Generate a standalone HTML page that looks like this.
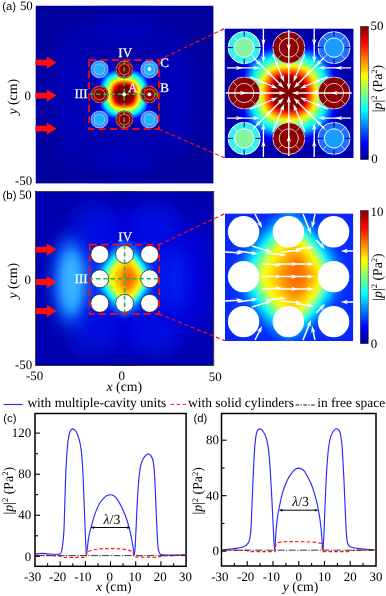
<!DOCTYPE html>
<html><head><meta charset="utf-8"><title>Figure</title>
<style>
html,body{margin:0;padding:0;background:#fff;}
svg{display:block}
text{font-family:"Liberation Serif","Times New Roman",serif;fill:#000;text-rendering:geometricPrecision}
.sn{font-family:"Liberation Sans",Arial,sans-serif}
.t{font-size:12.9px}
.l{font-size:13.8px}
.g{font-size:13.45px}
.w{fill:#fff;font-size:13px;stroke:#fff;stroke-width:0.25px}
</style></head><body>
<svg width="386" height="596" viewBox="0 0 386 596">
<defs>
<linearGradient id="jet" x1="0" y1="1" x2="0" y2="0">
<stop offset="0" stop-color="#00008f"/><stop offset="0.125" stop-color="#0000ff"/><stop offset="0.375" stop-color="#00ffff"/><stop offset="0.625" stop-color="#ffff00"/><stop offset="0.875" stop-color="#ff0000"/><stop offset="1" stop-color="#800000"/>
</linearGradient>
<radialGradient id="hotA">
<stop offset="0" stop-color="#800000"/><stop offset="0.31" stop-color="#800000"/><stop offset="0.37" stop-color="#ff0000"/><stop offset="0.435" stop-color="#ff8000"/><stop offset="0.5" stop-color="#ffff00"/><stop offset="0.565" stop-color="#80ff80"/><stop offset="0.63" stop-color="#00ffff"/><stop offset="0.71" stop-color="#0080ff"/><stop offset="0.82" stop-color="#0010ff"/><stop offset="1" stop-color="#0000b4" stop-opacity="0"/>
</radialGradient>
<radialGradient id="hotB" cx="0.5" cy="0.5" r="0.5" fx="0.57" fy="0.5">
<stop offset="0" stop-color="#ff6400"/><stop offset="0.16" stop-color="#ff8400"/><stop offset="0.31" stop-color="#ffc000"/><stop offset="0.49" stop-color="#ffff00"/><stop offset="0.6" stop-color="#80ff80"/><stop offset="0.7" stop-color="#00ffff"/><stop offset="0.82" stop-color="#00a0ff"/><stop offset="1" stop-color="#0a30ff" stop-opacity="0"/>
</radialGradient>
<filter id="b05" x="-20%" y="-20%" width="140%" height="140%"><feGaussianBlur stdDeviation="0.6"/></filter>
<filter id="b1" x="-20%" y="-20%" width="140%" height="140%"><feGaussianBlur stdDeviation="1"/></filter>
<filter id="b2" x="-20%" y="-20%" width="140%" height="140%"><feGaussianBlur stdDeviation="2"/></filter>
<filter id="b4" x="-30%" y="-30%" width="160%" height="160%"><feGaussianBlur stdDeviation="4"/></filter>
<filter id="b5" x="-60%" y="-40%" width="220%" height="180%"><feGaussianBlur stdDeviation="5"/></filter>
<filter id="b8" x="-50%" y="-50%" width="200%" height="200%"><feGaussianBlur stdDeviation="8"/></filter>
<filter id="b12" x="-50%" y="-50%" width="200%" height="200%"><feGaussianBlur stdDeviation="12"/></filter>
<clipPath id="cA"><rect x="35.5" y="5.5" width="178" height="178"/></clipPath>
<clipPath id="cB"><rect x="35.6" y="191.6" width="178" height="174"/></clipPath>
<clipPath id="ciA"><rect x="224.5" y="28.4" width="129.2" height="129.6"/></clipPath>
<clipPath id="ciB"><rect x="225" y="213.4" width="128.3" height="127.6"/></clipPath>
<marker id="mw" viewBox="0 0 10 10" refX="9" refY="5" markerWidth="7" markerHeight="5" orient="auto" markerUnits="userSpaceOnUse"><path d="M0,0 L10,5 L0,10 L2.5,5 z" fill="#fff"/></marker>
<marker id="mk" viewBox="0 0 10 10" refX="9" refY="5" markerWidth="3.6" markerHeight="3" orient="auto-start-reverse" markerUnits="userSpaceOnUse"><path d="M0,0 L10,5 L0,10 z" fill="#000"/></marker>
</defs>

<g clip-path="url(#cA)">
<rect x="35.5" y="5.5" width="178.3" height="178.3" fill="#00009c"/>
<g filter="url(#b12)">
<ellipse cx="124" cy="94" rx="80" ry="80" fill="#0000ae"/>
</g>
<g filter="url(#b8)">
<ellipse cx="70" cy="94" rx="9" ry="75" fill="#0000cc" opacity="0.6"/>
<ellipse cx="124" cy="30" rx="36" ry="11" fill="#0000d0" opacity="0.5"/>
<ellipse cx="124" cy="160" rx="36" ry="11" fill="#0000d0" opacity="0.5"/>
<ellipse cx="178" cy="94" rx="10" ry="60" fill="#0000d0" opacity="0.5"/>
</g>
<g filter="url(#b5)">
<circle cx="124.3" cy="94.4" r="27" fill="#0014f4" opacity="0.95"/>
</g>
<g filter="url(#b05)"><polygon points="152.5,94.3 152.5,96.8 152.4,99.3 152.1,101.8 151.8,104.3 151.2,106.9 150.3,109.4 149.2,111.8 147.7,114.0 146.0,116.1 143.9,117.8 141.7,119.3 139.3,120.4 136.8,121.3 134.2,121.9 131.7,122.2 129.2,122.5 126.7,122.6 124.2,122.6 121.7,122.6 119.2,122.5 116.7,122.2 114.2,121.9 111.6,121.3 109.1,120.4 106.7,119.3 104.5,117.8 102.4,116.1 100.7,114.0 99.2,111.8 98.1,109.4 97.2,106.9 96.6,104.3 96.3,101.8 96.0,99.3 95.9,96.8 95.9,94.3 95.9,91.8 96.0,89.3 96.3,86.8 96.6,84.3 97.2,81.7 98.1,79.2 99.2,76.8 100.7,74.6 102.4,72.5 104.5,70.8 106.7,69.3 109.1,68.2 111.6,67.3 114.2,66.7 116.7,66.4 119.2,66.1 121.7,66.0 124.2,66.0 126.7,66.0 129.2,66.1 131.7,66.4 134.2,66.7 136.8,67.3 139.3,68.2 141.7,69.3 143.9,70.8 146.0,72.5 147.7,74.6 149.2,76.8 150.3,79.2 151.2,81.7 151.8,84.3 152.1,86.8 152.4,89.3 152.5,91.8" fill="#0000e9"/><polygon points="149.8,94.3 149.8,96.5 149.7,98.8 149.5,101.1 149.1,103.4 148.6,105.7 147.8,107.9 146.8,110.1 145.5,112.1 143.9,114.0 142.0,115.6 140.0,116.9 137.8,117.9 135.6,118.7 133.3,119.2 131.0,119.6 128.7,119.8 126.4,119.9 124.2,119.9 122.0,119.9 119.7,119.8 117.4,119.6 115.1,119.2 112.8,118.7 110.6,117.9 108.4,116.9 106.4,115.6 104.5,114.0 102.9,112.1 101.6,110.1 100.6,107.9 99.8,105.7 99.3,103.4 98.9,101.1 98.7,98.8 98.6,96.5 98.6,94.3 98.6,92.1 98.7,89.8 98.9,87.5 99.3,85.2 99.8,82.9 100.6,80.7 101.6,78.5 102.9,76.5 104.5,74.6 106.4,73.0 108.4,71.7 110.6,70.7 112.8,69.9 115.1,69.4 117.4,69.0 119.7,68.8 122.0,68.7 124.2,68.7 126.4,68.7 128.7,68.8 131.0,69.0 133.3,69.4 135.6,69.9 137.8,70.7 140.0,71.7 142.0,73.0 143.9,74.6 145.5,76.5 146.8,78.5 147.8,80.7 148.6,82.9 149.1,85.2 149.5,87.5 149.7,89.8 149.8,92.1" fill="#0000ff"/><polygon points="149.3,94.3 149.3,96.5 149.2,98.7 149.0,100.9 148.6,103.2 148.1,105.5 147.4,107.7 146.3,109.8 145.1,111.8 143.5,113.6 141.7,115.2 139.7,116.4 137.6,117.5 135.4,118.2 133.1,118.7 130.8,119.1 128.6,119.3 126.4,119.4 124.2,119.4 122.0,119.4 119.8,119.3 117.6,119.1 115.3,118.7 113.0,118.2 110.8,117.5 108.7,116.4 106.7,115.2 104.9,113.6 103.3,111.8 102.1,109.8 101.0,107.7 100.3,105.5 99.8,103.2 99.4,100.9 99.2,98.7 99.1,96.5 99.1,94.3 99.1,92.1 99.2,89.9 99.4,87.7 99.8,85.4 100.3,83.1 101.0,80.9 102.1,78.8 103.3,76.8 104.9,75.0 106.7,73.4 108.7,72.2 110.8,71.1 113.0,70.4 115.3,69.9 117.6,69.5 119.8,69.3 122.0,69.2 124.2,69.2 126.4,69.2 128.6,69.3 130.8,69.5 133.1,69.9 135.4,70.4 137.6,71.1 139.7,72.2 141.7,73.4 143.5,75.0 145.1,76.8 146.3,78.8 147.4,80.9 148.1,83.1 148.6,85.4 149.0,87.7 149.2,89.9 149.3,92.1" fill="#001aff"/><polygon points="148.8,94.3 148.8,96.5 148.7,98.6 148.5,100.8 148.2,103.0 147.6,105.2 146.9,107.4 145.9,109.5 144.6,111.5 143.1,113.2 141.4,114.7 139.4,116.0 137.3,117.0 135.1,117.7 132.9,118.3 130.7,118.6 128.5,118.8 126.4,118.9 124.2,118.9 122.0,118.9 119.9,118.8 117.7,118.6 115.5,118.3 113.3,117.7 111.1,117.0 109.0,116.0 107.0,114.7 105.3,113.2 103.8,111.5 102.5,109.5 101.5,107.4 100.8,105.2 100.2,103.0 99.9,100.8 99.7,98.6 99.6,96.5 99.6,94.3 99.6,92.1 99.7,90.0 99.9,87.8 100.2,85.6 100.8,83.4 101.5,81.2 102.5,79.1 103.8,77.1 105.3,75.4 107.0,73.9 109.0,72.6 111.1,71.6 113.3,70.9 115.5,70.3 117.7,70.0 119.9,69.8 122.0,69.7 124.2,69.7 126.4,69.7 128.5,69.8 130.7,70.0 132.9,70.3 135.1,70.9 137.3,71.6 139.4,72.6 141.4,73.9 143.1,75.4 144.6,77.1 145.9,79.1 146.9,81.2 147.6,83.4 148.2,85.6 148.5,87.8 148.7,90.0 148.8,92.1" fill="#0033ff"/><polygon points="148.3,94.3 148.3,96.4 148.2,98.5 148.0,100.7 147.7,102.8 147.2,105.0 146.4,107.1 145.5,109.2 144.2,111.1 142.7,112.8 141.0,114.3 139.1,115.6 137.0,116.5 134.9,117.3 132.7,117.8 130.6,118.1 128.4,118.3 126.3,118.4 124.2,118.4 122.1,118.4 120.0,118.3 117.8,118.1 115.7,117.8 113.5,117.3 111.4,116.5 109.3,115.6 107.4,114.3 105.7,112.8 104.2,111.1 102.9,109.2 102.0,107.1 101.2,105.0 100.7,102.8 100.4,100.7 100.2,98.5 100.1,96.4 100.1,94.3 100.1,92.2 100.2,90.1 100.4,87.9 100.7,85.8 101.2,83.6 102.0,81.5 102.9,79.4 104.2,77.5 105.7,75.8 107.4,74.3 109.3,73.0 111.4,72.1 113.5,71.3 115.7,70.8 117.8,70.5 120.0,70.3 122.1,70.2 124.2,70.2 126.3,70.2 128.4,70.3 130.6,70.5 132.7,70.8 134.9,71.3 137.0,72.1 139.1,73.0 141.0,74.3 142.7,75.8 144.2,77.5 145.5,79.4 146.4,81.5 147.2,83.6 147.7,85.8 148.0,87.9 148.2,90.1 148.3,92.2" fill="#004dff"/><polygon points="147.8,94.3 147.8,96.4 147.7,98.4 147.5,100.5 147.2,102.7 146.7,104.8 146.0,106.9 145.0,108.9 143.8,110.8 142.3,112.4 140.7,113.9 138.8,115.1 136.8,116.1 134.7,116.8 132.6,117.3 130.4,117.6 128.3,117.8 126.3,117.9 124.2,117.9 122.1,117.9 120.1,117.8 118.0,117.6 115.8,117.3 113.7,116.8 111.6,116.1 109.6,115.1 107.7,113.9 106.1,112.4 104.6,110.8 103.4,108.9 102.4,106.9 101.7,104.8 101.2,102.7 100.9,100.5 100.7,98.4 100.6,96.4 100.6,94.3 100.6,92.2 100.7,90.2 100.9,88.1 101.2,85.9 101.7,83.8 102.4,81.7 103.4,79.7 104.6,77.8 106.1,76.2 107.7,74.7 109.6,73.5 111.6,72.5 113.7,71.8 115.8,71.3 118.0,71.0 120.1,70.8 122.1,70.7 124.2,70.7 126.3,70.7 128.3,70.8 130.4,71.0 132.6,71.3 134.7,71.8 136.8,72.5 138.8,73.5 140.7,74.7 142.3,76.2 143.8,77.8 145.0,79.7 146.0,81.7 146.7,83.8 147.2,85.9 147.5,88.1 147.7,90.2 147.8,92.2" fill="#0066ff"/><polygon points="147.3,94.3 147.3,96.3 147.2,98.4 147.0,100.4 146.7,102.5 146.2,104.6 145.5,106.6 144.6,108.6 143.4,110.4 142.0,112.1 140.3,113.5 138.5,114.7 136.5,115.6 134.5,116.3 132.4,116.8 130.3,117.1 128.3,117.3 126.2,117.4 124.2,117.4 122.2,117.4 120.1,117.3 118.1,117.1 116.0,116.8 113.9,116.3 111.9,115.6 109.9,114.7 108.1,113.5 106.4,112.1 105.0,110.4 103.8,108.6 102.9,106.6 102.2,104.6 101.7,102.5 101.4,100.4 101.2,98.4 101.1,96.3 101.1,94.3 101.1,92.3 101.2,90.2 101.4,88.2 101.7,86.1 102.2,84.0 102.9,82.0 103.8,80.0 105.0,78.2 106.4,76.5 108.1,75.1 109.9,73.9 111.9,73.0 113.9,72.3 116.0,71.8 118.1,71.5 120.1,71.3 122.2,71.2 124.2,71.2 126.2,71.2 128.3,71.3 130.3,71.5 132.4,71.8 134.5,72.3 136.5,73.0 138.5,73.9 140.3,75.1 142.0,76.5 143.4,78.2 144.6,80.0 145.5,82.0 146.2,84.0 146.7,86.1 147.0,88.2 147.2,90.2 147.3,92.3" fill="#0080ff"/><polygon points="146.8,94.3 146.7,96.3 146.6,98.3 146.5,100.3 146.2,102.3 145.7,104.3 145.0,106.3 144.1,108.2 142.9,110.0 141.5,111.6 139.9,113.0 138.1,114.2 136.2,115.1 134.2,115.8 132.2,116.3 130.2,116.6 128.2,116.7 126.2,116.8 124.2,116.9 122.2,116.8 120.2,116.7 118.2,116.6 116.2,116.3 114.2,115.8 112.2,115.1 110.3,114.2 108.5,113.0 106.9,111.6 105.5,110.0 104.3,108.2 103.4,106.3 102.7,104.3 102.2,102.3 101.9,100.3 101.8,98.3 101.7,96.3 101.6,94.3 101.7,92.3 101.8,90.3 101.9,88.3 102.2,86.3 102.7,84.3 103.4,82.3 104.3,80.4 105.5,78.6 106.9,77.0 108.5,75.6 110.3,74.4 112.2,73.5 114.2,72.8 116.2,72.3 118.2,72.0 120.2,71.9 122.2,71.8 124.2,71.7 126.2,71.8 128.2,71.9 130.2,72.0 132.2,72.3 134.2,72.8 136.2,73.5 138.1,74.4 139.9,75.6 141.5,77.0 142.9,78.6 144.1,80.4 145.0,82.3 145.7,84.3 146.2,86.3 146.5,88.3 146.6,90.3 146.7,92.3" fill="#0099ff"/><polygon points="146.2,94.3 146.2,96.2 146.1,98.2 145.9,100.1 145.6,102.1 145.2,104.1 144.5,106.0 143.6,107.9 142.5,109.6 141.1,111.2 139.5,112.6 137.8,113.7 135.9,114.6 134.0,115.3 132.0,115.7 130.0,116.0 128.1,116.2 126.1,116.3 124.2,116.3 122.3,116.3 120.3,116.2 118.4,116.0 116.4,115.7 114.4,115.3 112.5,114.6 110.6,113.7 108.9,112.6 107.3,111.2 105.9,109.6 104.8,107.9 103.9,106.0 103.2,104.1 102.8,102.1 102.5,100.1 102.3,98.2 102.2,96.2 102.2,94.3 102.2,92.4 102.3,90.4 102.5,88.5 102.8,86.5 103.2,84.5 103.9,82.6 104.8,80.7 105.9,79.0 107.3,77.4 108.9,76.0 110.6,74.9 112.5,74.0 114.4,73.3 116.4,72.9 118.4,72.6 120.3,72.4 122.3,72.3 124.2,72.3 126.1,72.3 128.1,72.4 130.0,72.6 132.0,72.9 134.0,73.3 135.9,74.0 137.8,74.9 139.5,76.0 141.1,77.4 142.5,79.0 143.6,80.7 144.5,82.6 145.2,84.5 145.6,86.5 145.9,88.5 146.1,90.4 146.2,92.4" fill="#00b3ff"/><polygon points="145.7,94.3 145.6,96.2 145.5,98.1 145.4,100.0 145.1,101.9 144.6,103.8 144.0,105.7 143.1,107.5 142.0,109.3 140.7,110.8 139.2,112.1 137.4,113.2 135.6,114.1 133.7,114.7 131.8,115.2 129.9,115.5 128.0,115.6 126.1,115.7 124.2,115.8 122.3,115.7 120.4,115.6 118.5,115.5 116.6,115.2 114.7,114.7 112.8,114.1 111.0,113.2 109.2,112.1 107.7,110.8 106.4,109.3 105.3,107.5 104.4,105.7 103.8,103.8 103.3,101.9 103.0,100.0 102.9,98.1 102.8,96.2 102.7,94.3 102.8,92.4 102.9,90.5 103.0,88.6 103.3,86.7 103.8,84.8 104.4,82.9 105.3,81.1 106.4,79.3 107.7,77.8 109.2,76.5 111.0,75.4 112.8,74.5 114.7,73.9 116.6,73.4 118.5,73.1 120.4,73.0 122.3,72.9 124.2,72.8 126.1,72.9 128.0,73.0 129.9,73.1 131.8,73.4 133.7,73.9 135.6,74.5 137.4,75.4 139.2,76.5 140.7,77.8 142.0,79.3 143.1,81.1 144.0,82.9 144.6,84.8 145.1,86.7 145.4,88.6 145.5,90.5 145.6,92.4" fill="#00ccff"/><polygon points="145.1,94.3 145.1,96.1 145.0,98.0 144.8,99.8 144.5,101.7 144.1,103.6 143.5,105.4 142.6,107.2 141.6,108.9 140.3,110.4 138.8,111.7 137.1,112.7 135.3,113.6 133.5,114.2 131.6,114.6 129.7,114.9 127.9,115.1 126.0,115.2 124.2,115.2 122.4,115.2 120.5,115.1 118.7,114.9 116.8,114.6 114.9,114.2 113.1,113.6 111.3,112.7 109.6,111.7 108.1,110.4 106.8,108.9 105.8,107.2 104.9,105.4 104.3,103.6 103.9,101.7 103.6,99.8 103.4,98.0 103.3,96.1 103.3,94.3 103.3,92.5 103.4,90.6 103.6,88.8 103.9,86.9 104.3,85.0 104.9,83.2 105.8,81.4 106.8,79.7 108.1,78.2 109.6,76.9 111.3,75.9 113.1,75.0 114.9,74.4 116.8,74.0 118.7,73.7 120.5,73.5 122.4,73.4 124.2,73.4 126.0,73.4 127.9,73.5 129.7,73.7 131.6,74.0 133.5,74.4 135.3,75.0 137.1,75.9 138.8,76.9 140.3,78.2 141.6,79.7 142.6,81.4 143.5,83.2 144.1,85.0 144.5,86.9 144.8,88.8 145.0,90.6 145.1,92.5" fill="#00e5ff"/><polygon points="144.5,94.3 144.5,96.1 144.4,97.9 144.3,99.7 144.0,101.5 143.6,103.3 143.0,105.1 142.1,106.9 141.1,108.5 139.8,109.9 138.4,111.2 136.8,112.2 135.0,113.1 133.2,113.7 131.4,114.1 129.6,114.4 127.8,114.5 126.0,114.6 124.2,114.6 122.4,114.6 120.6,114.5 118.8,114.4 117.0,114.1 115.2,113.7 113.4,113.1 111.6,112.2 110.0,111.2 108.6,109.9 107.3,108.5 106.3,106.9 105.4,105.1 104.8,103.3 104.4,101.5 104.1,99.7 104.0,97.9 103.9,96.1 103.9,94.3 103.9,92.5 104.0,90.7 104.1,88.9 104.4,87.1 104.8,85.3 105.4,83.5 106.3,81.7 107.3,80.1 108.6,78.7 110.0,77.4 111.6,76.4 113.4,75.5 115.2,74.9 117.0,74.5 118.8,74.2 120.6,74.1 122.4,74.0 124.2,74.0 126.0,74.0 127.8,74.1 129.6,74.2 131.4,74.5 133.2,74.9 135.0,75.5 136.8,76.4 138.4,77.4 139.8,78.7 141.1,80.1 142.1,81.7 143.0,83.5 143.6,85.3 144.0,87.1 144.3,88.9 144.4,90.7 144.5,92.5" fill="#00ffff"/><polygon points="144.0,94.3 143.9,96.0 143.9,97.8 143.7,99.5 143.4,101.3 143.0,103.1 142.4,104.8 141.6,106.5 140.6,108.1 139.4,109.5 138.0,110.7 136.4,111.7 134.7,112.5 133.0,113.1 131.2,113.5 129.4,113.8 127.7,114.0 125.9,114.0 124.2,114.1 122.5,114.0 120.7,114.0 119.0,113.8 117.2,113.5 115.4,113.1 113.7,112.5 112.0,111.7 110.4,110.7 109.0,109.5 107.8,108.1 106.8,106.5 106.0,104.8 105.4,103.1 105.0,101.3 104.7,99.5 104.5,97.8 104.5,96.0 104.4,94.3 104.5,92.6 104.5,90.8 104.7,89.1 105.0,87.3 105.4,85.5 106.0,83.8 106.8,82.1 107.8,80.5 109.0,79.1 110.4,77.9 112.0,76.9 113.7,76.1 115.4,75.5 117.2,75.1 119.0,74.8 120.7,74.6 122.5,74.6 124.2,74.5 125.9,74.6 127.7,74.6 129.4,74.8 131.2,75.1 133.0,75.5 134.7,76.1 136.4,76.9 138.0,77.9 139.4,79.1 140.6,80.5 141.6,82.1 142.4,83.8 143.0,85.5 143.4,87.3 143.7,89.1 143.9,90.8 143.9,92.6" fill="#1affe5"/><polygon points="143.4,94.3 143.3,96.0 143.3,97.7 143.1,99.4 142.9,101.1 142.5,102.8 141.9,104.5 141.1,106.1 140.1,107.7 138.9,109.0 137.6,110.2 136.0,111.2 134.4,112.0 132.7,112.6 131.0,113.0 129.3,113.2 127.6,113.4 125.9,113.4 124.2,113.5 122.5,113.4 120.8,113.4 119.1,113.2 117.4,113.0 115.7,112.6 114.0,112.0 112.4,111.2 110.8,110.2 109.5,109.0 108.3,107.7 107.3,106.1 106.5,104.5 105.9,102.8 105.5,101.1 105.3,99.4 105.1,97.7 105.1,96.0 105.0,94.3 105.1,92.6 105.1,90.9 105.3,89.2 105.5,87.5 105.9,85.8 106.5,84.1 107.3,82.5 108.3,80.9 109.5,79.6 110.8,78.4 112.4,77.4 114.0,76.6 115.7,76.0 117.4,75.6 119.1,75.4 120.8,75.2 122.5,75.2 124.2,75.1 125.9,75.2 127.6,75.2 129.3,75.4 131.0,75.6 132.7,76.0 134.4,76.6 136.0,77.4 137.6,78.4 138.9,79.6 140.1,80.9 141.1,82.5 141.9,84.1 142.5,85.8 142.9,87.5 143.1,89.2 143.3,90.9 143.3,92.6" fill="#33ffcc"/><polygon points="142.8,94.3 142.8,95.9 142.7,97.6 142.5,99.2 142.3,100.9 141.9,102.5 141.3,104.2 140.6,105.8 139.6,107.2 138.5,108.6 137.1,109.7 135.7,110.7 134.1,111.4 132.4,112.0 130.8,112.4 129.1,112.6 127.5,112.8 125.8,112.9 124.2,112.9 122.6,112.9 120.9,112.8 119.3,112.6 117.6,112.4 116.0,112.0 114.3,111.4 112.7,110.7 111.3,109.7 109.9,108.6 108.8,107.2 107.8,105.8 107.1,104.2 106.5,102.5 106.1,100.9 105.9,99.2 105.7,97.6 105.6,95.9 105.6,94.3 105.6,92.7 105.7,91.0 105.9,89.4 106.1,87.7 106.5,86.1 107.1,84.4 107.8,82.8 108.8,81.4 109.9,80.0 111.3,78.9 112.7,77.9 114.3,77.2 116.0,76.6 117.6,76.2 119.3,76.0 120.9,75.8 122.6,75.7 124.2,75.7 125.8,75.7 127.5,75.8 129.1,76.0 130.8,76.2 132.4,76.6 134.1,77.2 135.7,77.9 137.1,78.9 138.5,80.0 139.6,81.4 140.6,82.8 141.3,84.4 141.9,86.1 142.3,87.7 142.5,89.4 142.7,91.0 142.8,92.7" fill="#4cffb3"/><polygon points="142.2,94.3 142.2,95.9 142.1,97.5 141.9,99.1 141.7,100.7 141.3,102.3 140.8,103.9 140.1,105.4 139.1,106.8 138.0,108.1 136.7,109.2 135.3,110.2 133.8,110.9 132.2,111.4 130.6,111.8 129.0,112.0 127.4,112.2 125.8,112.3 124.2,112.3 122.6,112.3 121.0,112.2 119.4,112.0 117.8,111.8 116.2,111.4 114.6,110.9 113.1,110.2 111.7,109.2 110.4,108.1 109.3,106.8 108.3,105.4 107.6,103.9 107.1,102.3 106.7,100.7 106.5,99.1 106.3,97.5 106.2,95.9 106.2,94.3 106.2,92.7 106.3,91.1 106.5,89.5 106.7,87.9 107.1,86.3 107.6,84.7 108.3,83.2 109.3,81.8 110.4,80.5 111.7,79.4 113.1,78.4 114.6,77.7 116.2,77.2 117.8,76.8 119.4,76.6 121.0,76.4 122.6,76.3 124.2,76.3 125.8,76.3 127.4,76.4 129.0,76.6 130.6,76.8 132.2,77.2 133.8,77.7 135.3,78.4 136.7,79.4 138.0,80.5 139.1,81.8 140.1,83.2 140.8,84.7 141.3,86.3 141.7,87.9 141.9,89.5 142.1,91.1 142.2,92.7" fill="#66ff99"/><polygon points="141.6,94.3 141.6,95.8 141.5,97.4 141.4,98.9 141.1,100.5 140.8,102.0 140.2,103.6 139.5,105.0 138.6,106.4 137.6,107.7 136.3,108.7 134.9,109.6 133.5,110.3 131.9,110.9 130.4,111.2 128.8,111.5 127.3,111.6 125.7,111.7 124.2,111.7 122.7,111.7 121.1,111.6 119.6,111.5 118.0,111.2 116.5,110.9 114.9,110.3 113.5,109.6 112.1,108.7 110.8,107.7 109.8,106.4 108.9,105.0 108.2,103.6 107.6,102.0 107.3,100.5 107.0,98.9 106.9,97.4 106.8,95.8 106.8,94.3 106.8,92.8 106.9,91.2 107.0,89.7 107.3,88.1 107.6,86.6 108.2,85.0 108.9,83.6 109.8,82.2 110.8,80.9 112.1,79.9 113.5,79.0 114.9,78.3 116.5,77.7 118.0,77.4 119.6,77.1 121.1,77.0 122.7,76.9 124.2,76.9 125.7,76.9 127.3,77.0 128.8,77.1 130.4,77.4 131.9,77.7 133.5,78.3 134.9,79.0 136.3,79.9 137.6,80.9 138.6,82.2 139.5,83.6 140.2,85.0 140.8,86.6 141.1,88.1 141.4,89.7 141.5,91.2 141.6,92.8" fill="#80ff80"/><polygon points="141.1,94.3 141.1,95.8 141.0,97.3 140.9,98.8 140.7,100.3 140.3,101.8 139.8,103.3 139.1,104.8 138.3,106.1 137.2,107.3 136.0,108.4 134.7,109.2 133.2,109.9 131.7,110.4 130.2,110.8 128.7,111.0 127.2,111.1 125.7,111.2 124.2,111.2 122.7,111.2 121.2,111.1 119.7,111.0 118.2,110.8 116.7,110.4 115.2,109.9 113.7,109.2 112.4,108.4 111.2,107.3 110.1,106.1 109.3,104.8 108.6,103.3 108.1,101.8 107.7,100.3 107.5,98.8 107.4,97.3 107.3,95.8 107.3,94.3 107.3,92.8 107.4,91.3 107.5,89.8 107.7,88.3 108.1,86.8 108.6,85.3 109.3,83.8 110.1,82.5 111.2,81.3 112.4,80.2 113.7,79.4 115.2,78.7 116.7,78.2 118.2,77.8 119.7,77.6 121.2,77.5 122.7,77.4 124.2,77.4 125.7,77.4 127.2,77.5 128.7,77.6 130.2,77.8 131.7,78.2 133.2,78.7 134.7,79.4 136.0,80.2 137.2,81.3 138.3,82.5 139.1,83.8 139.8,85.3 140.3,86.8 140.7,88.3 140.9,89.8 141.0,91.3 141.1,92.8" fill="#99ff66"/><polygon points="140.6,94.3 140.6,95.7 140.6,97.2 140.4,98.6 140.2,100.1 139.9,101.6 139.4,103.1 138.7,104.5 137.9,105.8 136.8,106.9 135.7,108.0 134.4,108.8 133.0,109.5 131.5,110.0 130.0,110.3 128.5,110.5 127.1,110.7 125.6,110.7 124.2,110.7 122.8,110.7 121.3,110.7 119.9,110.5 118.4,110.3 116.9,110.0 115.4,109.5 114.0,108.8 112.7,108.0 111.6,106.9 110.5,105.8 109.7,104.5 109.0,103.1 108.5,101.6 108.2,100.1 108.0,98.6 107.8,97.2 107.8,95.7 107.8,94.3 107.8,92.9 107.8,91.4 108.0,90.0 108.2,88.5 108.5,87.0 109.0,85.5 109.7,84.1 110.5,82.8 111.6,81.7 112.7,80.6 114.0,79.8 115.4,79.1 116.9,78.6 118.4,78.3 119.9,78.1 121.3,77.9 122.8,77.9 124.2,77.9 125.6,77.9 127.1,77.9 128.5,78.1 130.0,78.3 131.5,78.6 133.0,79.1 134.4,79.8 135.7,80.6 136.8,81.7 137.9,82.8 138.7,84.1 139.4,85.5 139.9,87.0 140.2,88.5 140.4,90.0 140.6,91.4 140.6,92.9" fill="#b2ff4d"/><polygon points="140.2,94.3 140.2,95.7 140.1,97.1 140.0,98.5 139.7,100.0 139.4,101.4 138.9,102.8 138.3,104.2 137.5,105.4 136.5,106.6 135.3,107.6 134.1,108.4 132.7,109.0 131.3,109.5 129.9,109.8 128.4,110.1 127.0,110.2 125.6,110.3 124.2,110.3 122.8,110.3 121.4,110.2 120.0,110.1 118.5,109.8 117.1,109.5 115.7,109.0 114.3,108.4 113.1,107.6 111.9,106.6 110.9,105.4 110.1,104.2 109.5,102.8 109.0,101.4 108.7,100.0 108.4,98.5 108.3,97.1 108.2,95.7 108.2,94.3 108.2,92.9 108.3,91.5 108.4,90.1 108.7,88.6 109.0,87.2 109.5,85.8 110.1,84.4 110.9,83.2 111.9,82.0 113.1,81.0 114.3,80.2 115.7,79.6 117.1,79.1 118.5,78.8 120.0,78.5 121.4,78.4 122.8,78.3 124.2,78.3 125.6,78.3 127.0,78.4 128.4,78.5 129.9,78.8 131.3,79.1 132.7,79.6 134.1,80.2 135.3,81.0 136.5,82.0 137.5,83.2 138.3,84.4 138.9,85.8 139.4,87.2 139.7,88.6 140.0,90.1 140.1,91.5 140.2,92.9" fill="#ccff33"/><polygon points="139.7,94.3 139.7,95.7 139.6,97.0 139.5,98.4 139.3,99.8 139.0,101.2 138.5,102.6 137.9,103.9 137.1,105.1 136.1,106.2 135.0,107.2 133.8,108.0 132.5,108.6 131.1,109.1 129.7,109.4 128.3,109.6 126.9,109.7 125.6,109.8 124.2,109.8 122.8,109.8 121.5,109.7 120.1,109.6 118.7,109.4 117.3,109.1 115.9,108.6 114.6,108.0 113.4,107.2 112.3,106.2 111.3,105.1 110.5,103.9 109.9,102.6 109.4,101.2 109.1,99.8 108.9,98.4 108.8,97.0 108.7,95.7 108.7,94.3 108.7,92.9 108.8,91.6 108.9,90.2 109.1,88.8 109.4,87.4 109.9,86.0 110.5,84.7 111.3,83.5 112.3,82.4 113.4,81.4 114.6,80.6 115.9,80.0 117.3,79.5 118.7,79.2 120.1,79.0 121.5,78.9 122.8,78.8 124.2,78.8 125.6,78.8 126.9,78.9 128.3,79.0 129.7,79.2 131.1,79.5 132.5,80.0 133.8,80.6 135.0,81.4 136.1,82.4 137.1,83.5 137.9,84.7 138.5,86.0 139.0,87.4 139.3,88.8 139.5,90.2 139.6,91.6 139.7,92.9" fill="#e5ff1a"/><polygon points="139.2,94.3 139.2,95.6 139.1,96.9 139.0,98.3 138.8,99.6 138.5,101.0 138.1,102.3 137.5,103.6 136.7,104.8 135.7,105.8 134.7,106.8 133.5,107.6 132.2,108.2 130.9,108.6 129.5,108.9 128.2,109.1 126.8,109.2 125.5,109.3 124.2,109.3 122.9,109.3 121.6,109.2 120.2,109.1 118.9,108.9 117.5,108.6 116.2,108.2 114.9,107.6 113.7,106.8 112.7,105.8 111.7,104.8 110.9,103.6 110.3,102.3 109.9,101.0 109.6,99.6 109.4,98.3 109.3,96.9 109.2,95.6 109.2,94.3 109.2,93.0 109.3,91.7 109.4,90.3 109.6,89.0 109.9,87.6 110.3,86.3 110.9,85.0 111.7,83.8 112.7,82.8 113.7,81.8 114.9,81.0 116.2,80.4 117.5,80.0 118.9,79.7 120.2,79.5 121.6,79.4 122.9,79.3 124.2,79.3 125.5,79.3 126.8,79.4 128.2,79.5 129.5,79.7 130.9,80.0 132.2,80.4 133.5,81.0 134.7,81.8 135.7,82.8 136.7,83.8 137.5,85.0 138.1,86.3 138.5,87.6 138.8,89.0 139.0,90.3 139.1,91.7 139.2,93.0" fill="#ffff00"/><polygon points="138.8,94.3 138.8,95.6 138.7,96.9 138.6,98.2 138.4,99.5 138.1,100.8 137.7,102.1 137.1,103.3 136.3,104.5 135.4,105.5 134.4,106.4 133.2,107.2 132.0,107.8 130.7,108.2 129.4,108.5 128.1,108.7 126.8,108.8 125.5,108.9 124.2,108.9 122.9,108.9 121.6,108.8 120.3,108.7 119.0,108.5 117.7,108.2 116.4,107.8 115.2,107.2 114.0,106.4 113.0,105.5 112.1,104.5 111.3,103.3 110.7,102.1 110.3,100.8 110.0,99.5 109.8,98.2 109.7,96.9 109.6,95.6 109.6,94.3 109.6,93.0 109.7,91.7 109.8,90.4 110.0,89.1 110.3,87.8 110.7,86.5 111.3,85.3 112.1,84.1 113.0,83.1 114.0,82.2 115.2,81.4 116.4,80.8 117.7,80.4 119.0,80.1 120.3,79.9 121.6,79.8 122.9,79.7 124.2,79.7 125.5,79.7 126.8,79.8 128.1,79.9 129.4,80.1 130.7,80.4 132.0,80.8 133.2,81.4 134.4,82.2 135.4,83.1 136.3,84.1 137.1,85.3 137.7,86.5 138.1,87.8 138.4,89.1 138.6,90.4 138.7,91.7 138.8,93.0" fill="#ffe500"/><polygon points="138.4,94.3 138.4,95.5 138.3,96.8 138.2,98.0 138.0,99.3 137.7,100.6 137.3,101.8 136.7,103.1 136.0,104.2 135.1,105.2 134.1,106.1 133.0,106.8 131.7,107.4 130.5,107.8 129.2,108.1 127.9,108.3 126.7,108.4 125.4,108.5 124.2,108.5 123.0,108.5 121.7,108.4 120.5,108.3 119.2,108.1 117.9,107.8 116.7,107.4 115.4,106.8 114.3,106.1 113.3,105.2 112.4,104.2 111.7,103.1 111.1,101.8 110.7,100.6 110.4,99.3 110.2,98.0 110.1,96.8 110.0,95.5 110.0,94.3 110.0,93.1 110.1,91.8 110.2,90.6 110.4,89.3 110.7,88.0 111.1,86.8 111.7,85.5 112.4,84.4 113.3,83.4 114.3,82.5 115.4,81.8 116.7,81.2 117.9,80.8 119.2,80.5 120.5,80.3 121.7,80.2 123.0,80.1 124.2,80.1 125.4,80.1 126.7,80.2 127.9,80.3 129.2,80.5 130.5,80.8 131.7,81.2 133.0,81.8 134.1,82.5 135.1,83.4 136.0,84.4 136.7,85.5 137.3,86.8 137.7,88.0 138.0,89.3 138.2,90.6 138.3,91.8 138.4,93.1" fill="#ffcc00"/><polygon points="137.9,94.3 137.9,95.5 137.9,96.7 137.8,97.9 137.6,99.2 137.3,100.4 136.9,101.6 136.3,102.8 135.6,103.9 134.8,104.9 133.8,105.7 132.7,106.4 131.5,107.0 130.3,107.4 129.1,107.7 127.8,107.9 126.6,108.0 125.4,108.0 124.2,108.0 123.0,108.0 121.8,108.0 120.6,107.9 119.3,107.7 118.1,107.4 116.9,107.0 115.7,106.4 114.6,105.7 113.6,104.9 112.8,103.9 112.1,102.8 111.5,101.6 111.1,100.4 110.8,99.2 110.6,97.9 110.5,96.7 110.5,95.5 110.5,94.3 110.5,93.1 110.5,91.9 110.6,90.7 110.8,89.4 111.1,88.2 111.5,87.0 112.1,85.8 112.8,84.7 113.6,83.7 114.6,82.9 115.7,82.2 116.9,81.6 118.1,81.2 119.3,80.9 120.6,80.7 121.8,80.6 123.0,80.6 124.2,80.6 125.4,80.6 126.6,80.6 127.8,80.7 129.1,80.9 130.3,81.2 131.5,81.6 132.7,82.2 133.8,82.9 134.8,83.7 135.6,84.7 136.3,85.8 136.9,87.0 137.3,88.2 137.6,89.4 137.8,90.7 137.9,91.9 137.9,93.1" fill="#ffb200"/><polygon points="137.5,94.3 137.5,95.5 137.4,96.6 137.3,97.8 137.2,99.0 136.9,100.2 136.5,101.4 135.9,102.5 135.3,103.6 134.4,104.5 133.5,105.4 132.4,106.0 131.3,106.6 130.1,107.0 128.9,107.3 127.7,107.4 126.5,107.5 125.4,107.6 124.2,107.6 123.0,107.6 121.9,107.5 120.7,107.4 119.5,107.3 118.3,107.0 117.1,106.6 116.0,106.0 114.9,105.4 114.0,104.5 113.1,103.6 112.5,102.5 111.9,101.4 111.5,100.2 111.2,99.0 111.1,97.8 111.0,96.6 110.9,95.5 110.9,94.3 110.9,93.1 111.0,92.0 111.1,90.8 111.2,89.6 111.5,88.4 111.9,87.2 112.5,86.1 113.1,85.0 114.0,84.1 114.9,83.2 116.0,82.6 117.1,82.0 118.3,81.6 119.5,81.3 120.7,81.2 121.9,81.1 123.0,81.0 124.2,81.0 125.4,81.0 126.5,81.1 127.7,81.2 128.9,81.3 130.1,81.6 131.3,82.0 132.4,82.6 133.5,83.2 134.4,84.1 135.3,85.0 135.9,86.1 136.5,87.2 136.9,88.4 137.2,89.6 137.3,90.8 137.4,92.0 137.5,93.1" fill="#ff9900"/><polygon points="137.1,94.3 137.1,95.4 137.0,96.6 136.9,97.7 136.7,98.9 136.5,100.0 136.1,101.2 135.6,102.3 134.9,103.3 134.1,104.2 133.2,105.0 132.2,105.7 131.1,106.2 129.9,106.6 128.8,106.8 127.6,107.0 126.5,107.1 125.3,107.2 124.2,107.2 123.1,107.2 121.9,107.1 120.8,107.0 119.6,106.8 118.5,106.6 117.3,106.2 116.2,105.7 115.2,105.0 114.3,104.2 113.5,103.3 112.8,102.3 112.3,101.2 111.9,100.0 111.7,98.9 111.5,97.7 111.4,96.6 111.3,95.4 111.3,94.3 111.3,93.2 111.4,92.0 111.5,90.9 111.7,89.7 111.9,88.6 112.3,87.4 112.8,86.3 113.5,85.3 114.3,84.4 115.2,83.6 116.2,82.9 117.3,82.4 118.5,82.0 119.6,81.8 120.8,81.6 121.9,81.5 123.1,81.4 124.2,81.4 125.3,81.4 126.5,81.5 127.6,81.6 128.8,81.8 129.9,82.0 131.1,82.4 132.2,82.9 133.2,83.6 134.1,84.4 134.9,85.3 135.6,86.3 136.1,87.4 136.5,88.6 136.7,89.7 136.9,90.9 137.0,92.0 137.1,93.2" fill="#ff8000"/><polygon points="136.6,94.3 136.6,95.4 136.5,96.5 136.4,97.6 136.3,98.7 136.0,99.8 135.6,100.9 135.1,102.0 134.5,102.9 133.7,103.8 132.8,104.6 131.9,105.2 130.8,105.7 129.7,106.1 128.6,106.4 127.5,106.5 126.4,106.6 125.3,106.7 124.2,106.7 123.1,106.7 122.0,106.6 120.9,106.5 119.8,106.4 118.7,106.1 117.6,105.7 116.5,105.2 115.6,104.6 114.7,103.8 113.9,102.9 113.3,102.0 112.8,100.9 112.4,99.8 112.1,98.7 112.0,97.6 111.9,96.5 111.8,95.4 111.8,94.3 111.8,93.2 111.9,92.1 112.0,91.0 112.1,89.9 112.4,88.8 112.8,87.7 113.3,86.6 113.9,85.7 114.7,84.8 115.6,84.0 116.5,83.4 117.6,82.9 118.7,82.5 119.8,82.2 120.9,82.1 122.0,82.0 123.1,81.9 124.2,81.9 125.3,81.9 126.4,82.0 127.5,82.1 128.6,82.2 129.7,82.5 130.8,82.9 131.9,83.4 132.8,84.0 133.7,84.8 134.5,85.7 135.1,86.6 135.6,87.7 136.0,88.8 136.3,89.9 136.4,91.0 136.5,92.1 136.6,93.2" fill="#ff6600"/><polygon points="136.1,94.3 136.1,95.3 136.1,96.4 136.0,97.5 135.8,98.5 135.6,99.6 135.2,100.7 134.7,101.7 134.1,102.6 133.4,103.5 132.5,104.2 131.6,104.8 130.6,105.3 129.5,105.7 128.4,105.9 127.4,106.1 126.3,106.2 125.2,106.2 124.2,106.2 123.2,106.2 122.1,106.2 121.0,106.1 120.0,105.9 118.9,105.7 117.8,105.3 116.8,104.8 115.9,104.2 115.0,103.5 114.3,102.6 113.7,101.7 113.2,100.7 112.8,99.6 112.6,98.5 112.4,97.5 112.3,96.4 112.3,95.3 112.3,94.3 112.3,93.3 112.3,92.2 112.4,91.1 112.6,90.1 112.8,89.0 113.2,87.9 113.7,86.9 114.3,86.0 115.0,85.1 115.9,84.4 116.8,83.8 117.8,83.3 118.9,82.9 120.0,82.7 121.0,82.5 122.1,82.4 123.2,82.4 124.2,82.4 125.2,82.4 126.3,82.4 127.4,82.5 128.4,82.7 129.5,82.9 130.6,83.3 131.6,83.8 132.5,84.4 133.4,85.1 134.1,86.0 134.7,86.9 135.2,87.9 135.6,89.0 135.8,90.1 136.0,91.1 136.1,92.2 136.1,93.3" fill="#ff4d00"/><polygon points="135.7,94.3 135.7,95.3 135.6,96.3 135.5,97.3 135.4,98.4 135.1,99.4 134.8,100.4 134.3,101.4 133.7,102.3 133.0,103.1 132.2,103.8 131.3,104.4 130.3,104.9 129.3,105.2 128.3,105.5 127.2,105.6 126.2,105.7 125.2,105.8 124.2,105.8 123.2,105.8 122.2,105.7 121.2,105.6 120.1,105.5 119.1,105.2 118.1,104.9 117.1,104.4 116.2,103.8 115.4,103.1 114.7,102.3 114.1,101.4 113.6,100.4 113.3,99.4 113.0,98.4 112.9,97.3 112.8,96.3 112.7,95.3 112.7,94.3 112.7,93.3 112.8,92.3 112.9,91.3 113.0,90.2 113.3,89.2 113.6,88.2 114.1,87.2 114.7,86.3 115.4,85.5 116.2,84.8 117.1,84.2 118.1,83.7 119.1,83.4 120.1,83.1 121.2,83.0 122.2,82.9 123.2,82.8 124.2,82.8 125.2,82.8 126.2,82.9 127.2,83.0 128.3,83.1 129.3,83.4 130.3,83.7 131.3,84.2 132.2,84.8 133.0,85.5 133.7,86.3 134.3,87.2 134.8,88.2 135.1,89.2 135.4,90.2 135.5,91.3 135.6,92.3 135.7,93.3" fill="#ff3300"/><polygon points="135.3,94.3 135.2,95.3 135.2,96.2 135.1,97.2 135.0,98.2 134.7,99.2 134.4,100.2 134.0,101.1 133.4,102.0 132.7,102.8 131.9,103.5 131.0,104.1 130.1,104.5 129.1,104.8 128.1,105.1 127.1,105.2 126.1,105.3 125.2,105.3 124.2,105.4 123.2,105.3 122.3,105.3 121.3,105.2 120.3,105.1 119.3,104.8 118.3,104.5 117.4,104.1 116.5,103.5 115.7,102.8 115.0,102.0 114.4,101.1 114.0,100.2 113.7,99.2 113.4,98.2 113.3,97.2 113.2,96.2 113.2,95.3 113.1,94.3 113.2,93.3 113.2,92.4 113.3,91.4 113.4,90.4 113.7,89.4 114.0,88.4 114.4,87.5 115.0,86.6 115.7,85.8 116.5,85.1 117.4,84.5 118.3,84.1 119.3,83.8 120.3,83.5 121.3,83.4 122.3,83.3 123.2,83.3 124.2,83.2 125.2,83.3 126.1,83.3 127.1,83.4 128.1,83.5 129.1,83.8 130.1,84.1 131.0,84.5 131.9,85.1 132.7,85.8 133.4,86.6 134.0,87.5 134.4,88.4 134.7,89.4 135.0,90.4 135.1,91.4 135.2,92.4 135.2,93.3" fill="#ff1a00"/><polygon points="134.8,94.3 134.8,95.2 134.8,96.2 134.7,97.1 134.6,98.1 134.3,99.0 134.0,100.0 133.6,100.9 133.0,101.7 132.4,102.5 131.6,103.1 130.8,103.7 129.9,104.1 128.9,104.4 128.0,104.7 127.0,104.8 126.1,104.9 125.1,104.9 124.2,104.9 123.3,104.9 122.3,104.9 121.4,104.8 120.4,104.7 119.5,104.4 118.5,104.1 117.6,103.7 116.8,103.1 116.0,102.5 115.4,101.7 114.8,100.9 114.4,100.0 114.1,99.0 113.8,98.1 113.7,97.1 113.6,96.2 113.6,95.2 113.6,94.3 113.6,93.4 113.6,92.4 113.7,91.5 113.8,90.5 114.1,89.6 114.4,88.6 114.8,87.7 115.4,86.9 116.0,86.1 116.8,85.5 117.6,84.9 118.5,84.5 119.5,84.2 120.4,83.9 121.4,83.8 122.3,83.7 123.3,83.7 124.2,83.7 125.1,83.7 126.1,83.7 127.0,83.8 128.0,83.9 128.9,84.2 129.9,84.5 130.8,84.9 131.6,85.5 132.4,86.1 133.0,86.9 133.6,87.7 134.0,88.6 134.3,89.6 134.6,90.5 134.7,91.5 134.8,92.4 134.8,93.4" fill="#ff0000"/><polygon points="134.5,94.3 134.5,95.2 134.4,96.1 134.3,97.0 134.2,97.9 134.0,98.9 133.7,99.8 133.3,100.6 132.7,101.5 132.1,102.2 131.4,102.8 130.5,103.4 129.7,103.8 128.8,104.1 127.8,104.3 126.9,104.4 126.0,104.5 125.1,104.6 124.2,104.6 123.3,104.6 122.4,104.5 121.5,104.4 120.6,104.3 119.6,104.1 118.7,103.8 117.9,103.4 117.0,102.8 116.3,102.2 115.7,101.5 115.1,100.6 114.7,99.8 114.4,98.9 114.2,97.9 114.1,97.0 114.0,96.1 113.9,95.2 113.9,94.3 113.9,93.4 114.0,92.5 114.1,91.6 114.2,90.7 114.4,89.7 114.7,88.8 115.1,88.0 115.7,87.1 116.3,86.4 117.0,85.8 117.9,85.2 118.7,84.8 119.6,84.5 120.6,84.3 121.5,84.2 122.4,84.1 123.3,84.0 124.2,84.0 125.1,84.0 126.0,84.1 126.9,84.2 127.8,84.3 128.8,84.5 129.7,84.8 130.5,85.2 131.4,85.8 132.1,86.4 132.7,87.1 133.3,88.0 133.7,88.8 134.0,89.7 134.2,90.7 134.3,91.6 134.4,92.5 134.5,93.4" fill="#e60000"/><polygon points="134.1,94.3 134.1,95.2 134.1,96.0 134.0,96.9 133.9,97.8 133.6,98.7 133.3,99.6 132.9,100.4 132.4,101.2 131.8,101.9 131.1,102.5 130.3,103.0 129.5,103.4 128.6,103.7 127.7,104.0 126.8,104.1 125.9,104.2 125.1,104.2 124.2,104.2 123.3,104.2 122.5,104.2 121.6,104.1 120.7,104.0 119.8,103.7 118.9,103.4 118.1,103.0 117.3,102.5 116.6,101.9 116.0,101.2 115.5,100.4 115.1,99.6 114.8,98.7 114.5,97.8 114.4,96.9 114.3,96.0 114.3,95.2 114.3,94.3 114.3,93.4 114.3,92.6 114.4,91.7 114.5,90.8 114.8,89.9 115.1,89.0 115.5,88.2 116.0,87.4 116.6,86.7 117.3,86.1 118.1,85.6 118.9,85.2 119.8,84.9 120.7,84.6 121.6,84.5 122.5,84.4 123.3,84.4 124.2,84.4 125.1,84.4 125.9,84.4 126.8,84.5 127.7,84.6 128.6,84.9 129.5,85.2 130.3,85.6 131.1,86.1 131.8,86.7 132.4,87.4 132.9,88.2 133.3,89.0 133.6,89.9 133.9,90.8 134.0,91.7 134.1,92.6 134.1,93.4" fill="#cc0000"/><polygon points="133.8,94.3 133.7,95.1 133.7,96.0 133.6,96.8 133.5,97.7 133.3,98.5 133.0,99.4 132.6,100.2 132.1,101.0 131.5,101.6 130.9,102.2 130.1,102.7 129.3,103.1 128.4,103.4 127.6,103.6 126.7,103.7 125.9,103.8 125.0,103.8 124.2,103.9 123.4,103.8 122.5,103.8 121.7,103.7 120.8,103.6 120.0,103.4 119.1,103.1 118.3,102.7 117.5,102.2 116.9,101.6 116.3,101.0 115.8,100.2 115.4,99.4 115.1,98.5 114.9,97.7 114.8,96.8 114.7,96.0 114.7,95.1 114.6,94.3 114.7,93.5 114.7,92.6 114.8,91.8 114.9,90.9 115.1,90.1 115.4,89.2 115.8,88.4 116.3,87.6 116.9,87.0 117.5,86.4 118.3,85.9 119.1,85.5 120.0,85.2 120.8,85.0 121.7,84.9 122.5,84.8 123.4,84.8 124.2,84.7 125.0,84.8 125.9,84.8 126.7,84.9 127.6,85.0 128.4,85.2 129.3,85.5 130.1,85.9 130.9,86.4 131.5,87.0 132.1,87.6 132.6,88.4 133.0,89.2 133.3,90.1 133.5,90.9 133.6,91.8 133.7,92.6 133.7,93.5" fill="#b30000"/><polygon points="133.4,94.3 133.4,95.1 133.4,95.9 133.3,96.7 133.2,97.6 133.0,98.4 132.7,99.2 132.3,100.0 131.8,100.7 131.3,101.4 130.6,101.9 129.9,102.4 129.1,102.8 128.3,103.1 127.5,103.3 126.6,103.4 125.8,103.5 125.0,103.5 124.2,103.5 123.4,103.5 122.6,103.5 121.8,103.4 120.9,103.3 120.1,103.1 119.3,102.8 118.5,102.4 117.8,101.9 117.1,101.4 116.6,100.7 116.1,100.0 115.7,99.2 115.4,98.4 115.2,97.6 115.1,96.7 115.0,95.9 115.0,95.1 115.0,94.3 115.0,93.5 115.0,92.7 115.1,91.9 115.2,91.0 115.4,90.2 115.7,89.4 116.1,88.6 116.6,87.9 117.1,87.2 117.8,86.7 118.5,86.2 119.3,85.8 120.1,85.5 120.9,85.3 121.8,85.2 122.6,85.1 123.4,85.1 124.2,85.1 125.0,85.1 125.8,85.1 126.6,85.2 127.5,85.3 128.3,85.5 129.1,85.8 129.9,86.2 130.6,86.7 131.3,87.2 131.8,87.9 132.3,88.6 132.7,89.4 133.0,90.2 133.2,91.0 133.3,91.9 133.4,92.7 133.4,93.5" fill="#990000"/><polygon points="133.0,94.3 133.0,95.1 133.0,95.9 132.9,96.6 132.8,97.4 132.6,98.2 132.4,99.0 132.0,99.8 131.5,100.5 131.0,101.1 130.4,101.6 129.7,102.1 128.9,102.5 128.1,102.7 127.3,102.9 126.5,103.0 125.8,103.1 125.0,103.1 124.2,103.1 123.4,103.1 122.6,103.1 121.9,103.0 121.1,102.9 120.3,102.7 119.5,102.5 118.7,102.1 118.0,101.6 117.4,101.1 116.9,100.5 116.4,99.8 116.0,99.0 115.8,98.2 115.6,97.4 115.5,96.6 115.4,95.9 115.4,95.1 115.4,94.3 115.4,93.5 115.4,92.7 115.5,92.0 115.6,91.2 115.8,90.4 116.0,89.6 116.4,88.8 116.9,88.1 117.4,87.5 118.0,87.0 118.7,86.5 119.5,86.1 120.3,85.9 121.1,85.7 121.9,85.6 122.6,85.5 123.4,85.5 124.2,85.5 125.0,85.5 125.8,85.5 126.5,85.6 127.3,85.7 128.1,85.9 128.9,86.1 129.7,86.5 130.4,87.0 131.0,87.5 131.5,88.1 132.0,88.8 132.4,89.6 132.6,90.4 132.8,91.2 132.9,92.0 133.0,92.7 133.0,93.5" fill="#800000"/></g>
<circle cx="99.5" cy="69.3" r="9.1" fill="#3a84ff"/><circle cx="99.5" cy="69.3" r="8.2" fill="none" stroke="#e0eeff" stroke-width="0.6" stroke-opacity="0.85" stroke-dasharray="5.2 1.2" /><circle cx="99.5" cy="69.3" r="5.46" fill="#1ab4ff" stroke="#e0eeff" stroke-width="0.6" stroke-opacity="0.85"/><line x1="103.36" y1="73.16" x2="105.30" y2="75.10" stroke="#e0eeff" stroke-width="0.5" stroke-opacity="0.85"/><line x1="95.64" y1="73.16" x2="93.70" y2="75.10" stroke="#e0eeff" stroke-width="0.5" stroke-opacity="0.85"/><line x1="95.64" y1="65.44" x2="93.70" y2="63.50" stroke="#e0eeff" stroke-width="0.5" stroke-opacity="0.85"/><line x1="103.36" y1="65.44" x2="105.30" y2="63.50" stroke="#e0eeff" stroke-width="0.5" stroke-opacity="0.85"/>
<circle cx="99.5" cy="94.4" r="9.1" fill="#8b0000"/><circle cx="99.5" cy="94.4" r="8.2" fill="none" stroke="#ffd8d8" stroke-width="0.6" stroke-opacity="0.85" stroke-dasharray="5.2 1.2" /><circle cx="99.5" cy="94.4" r="5.46" fill="#8b0000" stroke="#ffd8d8" stroke-width="0.6" stroke-opacity="0.85"/><line x1="103.36" y1="98.26" x2="105.30" y2="100.20" stroke="#ffd8d8" stroke-width="0.5" stroke-opacity="0.85"/><line x1="95.64" y1="98.26" x2="93.70" y2="100.20" stroke="#ffd8d8" stroke-width="0.5" stroke-opacity="0.85"/><line x1="95.64" y1="90.54" x2="93.70" y2="88.60" stroke="#ffd8d8" stroke-width="0.5" stroke-opacity="0.85"/><line x1="103.36" y1="90.54" x2="105.30" y2="88.60" stroke="#ffd8d8" stroke-width="0.5" stroke-opacity="0.85"/>
<circle cx="99.5" cy="119.5" r="9.1" fill="#3a84ff"/><circle cx="99.5" cy="119.5" r="8.2" fill="none" stroke="#e0eeff" stroke-width="0.6" stroke-opacity="0.85" stroke-dasharray="5.2 1.2" /><circle cx="99.5" cy="119.5" r="5.46" fill="#1ab4ff" stroke="#e0eeff" stroke-width="0.6" stroke-opacity="0.85"/><line x1="103.36" y1="123.36" x2="105.30" y2="125.30" stroke="#e0eeff" stroke-width="0.5" stroke-opacity="0.85"/><line x1="95.64" y1="123.36" x2="93.70" y2="125.30" stroke="#e0eeff" stroke-width="0.5" stroke-opacity="0.85"/><line x1="95.64" y1="115.64" x2="93.70" y2="113.70" stroke="#e0eeff" stroke-width="0.5" stroke-opacity="0.85"/><line x1="103.36" y1="115.64" x2="105.30" y2="113.70" stroke="#e0eeff" stroke-width="0.5" stroke-opacity="0.85"/>
<circle cx="124.3" cy="69.3" r="9.1" fill="#8b0000"/><circle cx="124.3" cy="69.3" r="8.2" fill="none" stroke="#ffd8d8" stroke-width="0.6" stroke-opacity="0.85" stroke-dasharray="5.2 1.2" /><circle cx="124.3" cy="69.3" r="5.46" fill="#8b0000" stroke="#ffd8d8" stroke-width="0.6" stroke-opacity="0.85"/><line x1="128.16" y1="73.16" x2="130.10" y2="75.10" stroke="#ffd8d8" stroke-width="0.5" stroke-opacity="0.85"/><line x1="120.44" y1="73.16" x2="118.50" y2="75.10" stroke="#ffd8d8" stroke-width="0.5" stroke-opacity="0.85"/><line x1="120.44" y1="65.44" x2="118.50" y2="63.50" stroke="#ffd8d8" stroke-width="0.5" stroke-opacity="0.85"/><line x1="128.16" y1="65.44" x2="130.10" y2="63.50" stroke="#ffd8d8" stroke-width="0.5" stroke-opacity="0.85"/>
<circle cx="124.3" cy="119.5" r="9.1" fill="#8b0000"/><circle cx="124.3" cy="119.5" r="8.2" fill="none" stroke="#ffd8d8" stroke-width="0.6" stroke-opacity="0.85" stroke-dasharray="5.2 1.2" /><circle cx="124.3" cy="119.5" r="5.46" fill="#8b0000" stroke="#ffd8d8" stroke-width="0.6" stroke-opacity="0.85"/><line x1="128.16" y1="123.36" x2="130.10" y2="125.30" stroke="#ffd8d8" stroke-width="0.5" stroke-opacity="0.85"/><line x1="120.44" y1="123.36" x2="118.50" y2="125.30" stroke="#ffd8d8" stroke-width="0.5" stroke-opacity="0.85"/><line x1="120.44" y1="115.64" x2="118.50" y2="113.70" stroke="#ffd8d8" stroke-width="0.5" stroke-opacity="0.85"/><line x1="128.16" y1="115.64" x2="130.10" y2="113.70" stroke="#ffd8d8" stroke-width="0.5" stroke-opacity="0.85"/>
<circle cx="149.4" cy="69.3" r="9.1" fill="#3a84ff"/><circle cx="149.4" cy="69.3" r="8.2" fill="none" stroke="#e0eeff" stroke-width="0.6" stroke-opacity="0.85" stroke-dasharray="5.2 1.2" /><circle cx="149.4" cy="69.3" r="5.46" fill="#1ab4ff" stroke="#e0eeff" stroke-width="0.6" stroke-opacity="0.85"/><line x1="153.26" y1="73.16" x2="155.20" y2="75.10" stroke="#e0eeff" stroke-width="0.5" stroke-opacity="0.85"/><line x1="145.54" y1="73.16" x2="143.60" y2="75.10" stroke="#e0eeff" stroke-width="0.5" stroke-opacity="0.85"/><line x1="145.54" y1="65.44" x2="143.60" y2="63.50" stroke="#e0eeff" stroke-width="0.5" stroke-opacity="0.85"/><line x1="153.26" y1="65.44" x2="155.20" y2="63.50" stroke="#e0eeff" stroke-width="0.5" stroke-opacity="0.85"/>
<circle cx="149.4" cy="94.4" r="9.1" fill="#8b0000"/><circle cx="149.4" cy="94.4" r="8.2" fill="none" stroke="#ffd8d8" stroke-width="0.6" stroke-opacity="0.85" stroke-dasharray="5.2 1.2" /><circle cx="149.4" cy="94.4" r="5.46" fill="#8b0000" stroke="#ffd8d8" stroke-width="0.6" stroke-opacity="0.85"/><line x1="153.26" y1="98.26" x2="155.20" y2="100.20" stroke="#ffd8d8" stroke-width="0.5" stroke-opacity="0.85"/><line x1="145.54" y1="98.26" x2="143.60" y2="100.20" stroke="#ffd8d8" stroke-width="0.5" stroke-opacity="0.85"/><line x1="145.54" y1="90.54" x2="143.60" y2="88.60" stroke="#ffd8d8" stroke-width="0.5" stroke-opacity="0.85"/><line x1="153.26" y1="90.54" x2="155.20" y2="88.60" stroke="#ffd8d8" stroke-width="0.5" stroke-opacity="0.85"/>
<circle cx="149.4" cy="119.5" r="9.1" fill="#3a84ff"/><circle cx="149.4" cy="119.5" r="8.2" fill="none" stroke="#e0eeff" stroke-width="0.6" stroke-opacity="0.85" stroke-dasharray="5.2 1.2" /><circle cx="149.4" cy="119.5" r="5.46" fill="#1ab4ff" stroke="#e0eeff" stroke-width="0.6" stroke-opacity="0.85"/><line x1="153.26" y1="123.36" x2="155.20" y2="125.30" stroke="#e0eeff" stroke-width="0.5" stroke-opacity="0.85"/><line x1="145.54" y1="123.36" x2="143.60" y2="125.30" stroke="#e0eeff" stroke-width="0.5" stroke-opacity="0.85"/><line x1="145.54" y1="115.64" x2="143.60" y2="113.70" stroke="#e0eeff" stroke-width="0.5" stroke-opacity="0.85"/><line x1="153.26" y1="115.64" x2="155.20" y2="113.70" stroke="#e0eeff" stroke-width="0.5" stroke-opacity="0.85"/>
</g>
<line x1="89" y1="94.3" x2="159.5" y2="94.3" stroke="#16bc4c" stroke-width="1.6" stroke-dasharray="4.3 2.9"/>
<line x1="124.2" y1="60" x2="124.2" y2="129" stroke="#16bc4c" stroke-width="1.6" stroke-dasharray="4.3 2.9"/>
<rect x="89.1" y="60.05" width="69.8" height="69.15" fill="none" stroke="#ff0a0a" stroke-width="1.7" stroke-dasharray="7.3 4"/>
<circle cx="124.2" cy="94.3" r="1.9" fill="#fff"/>
<circle cx="149.4" cy="94.3" r="1.9" fill="#fff"/>
<circle cx="149.4" cy="69.0" r="1.9" fill="#fff"/>
<path d="M35.5,59.7 H46.8 V56.4 L56.5,62.6 L46.8,68.8 V65.5 H35.5 z" fill="#ff0d0d"/>
<path d="M35.5,92.69999999999999 H46.8 V89.39999999999999 L56.5,95.6 L46.8,101.8 V98.5 H35.5 z" fill="#ff0d0d"/>
<path d="M35.5,125.69999999999999 H46.8 V122.39999999999999 L56.5,128.6 L46.8,134.79999999999998 V131.5 H35.5 z" fill="#ff0d0d"/>
<text class="w" x="118.3" y="56.6">IV</text>
<text class="w" x="74.6" y="98.2">III</text>
<text class="w" x="128" y="92.3">A</text>
<text class="w" x="160.3" y="92.4">B</text>
<text class="w" x="160.3" y="67">C</text>
<line x1="159" y1="60" x2="224.5" y2="28.6" stroke="#ff0a0a" stroke-width="1.2" stroke-dasharray="4 2.8"/>
<line x1="159" y1="129.2" x2="224.5" y2="157.8" stroke="#ff0a0a" stroke-width="1.2" stroke-dasharray="4 2.8"/>
<g clip-path="url(#ciA)">
<rect x="224.5" y="28.4" width="129.2" height="129.6" fill="#0000ac"/>
<g filter="url(#b1)"><polygon points="340.2,93.0 340.1,97.5 339.9,102.0 339.5,106.6 338.8,111.2 337.8,115.8 336.2,120.4 334.1,124.7 331.5,128.8 328.3,132.5 324.6,135.7 320.5,138.3 316.2,140.4 311.6,142.0 307.0,143.0 302.4,143.7 297.8,144.1 293.3,144.3 288.8,144.4 284.3,144.3 279.8,144.1 275.2,143.7 270.6,143.0 266.0,142.0 261.4,140.4 257.1,138.3 253.0,135.7 249.3,132.5 246.1,128.8 243.5,124.7 241.4,120.4 239.8,115.8 238.8,111.2 238.1,106.6 237.7,102.0 237.5,97.5 237.4,93.0 237.5,88.5 237.7,84.0 238.1,79.4 238.8,74.8 239.8,70.2 241.4,65.6 243.5,61.3 246.1,57.2 249.3,53.5 253.0,50.3 257.1,47.7 261.4,45.6 266.0,44.0 270.6,43.0 275.2,42.3 279.8,41.9 284.3,41.7 288.8,41.6 293.3,41.7 297.8,41.9 302.4,42.3 307.0,43.0 311.6,44.0 316.2,45.6 320.5,47.7 324.6,50.3 328.3,53.5 331.5,57.2 334.1,61.3 336.2,65.6 337.8,70.2 338.8,74.8 339.5,79.4 339.9,84.0 340.1,88.5" fill="#0000e9"/><polygon points="335.3,93.0 335.2,97.1 335.0,101.2 334.7,105.3 334.0,109.5 333.1,113.6 331.7,117.7 329.8,121.7 327.4,125.4 324.5,128.7 321.2,131.6 317.5,134.0 313.5,135.9 309.4,137.3 305.3,138.2 301.1,138.9 297.0,139.2 292.9,139.4 288.8,139.5 284.7,139.4 280.6,139.2 276.5,138.9 272.3,138.2 268.2,137.3 264.1,135.9 260.1,134.0 256.4,131.6 253.1,128.7 250.2,125.4 247.8,121.7 245.9,117.7 244.5,113.6 243.6,109.5 242.9,105.3 242.6,101.2 242.4,97.1 242.3,93.0 242.4,88.9 242.6,84.8 242.9,80.7 243.6,76.5 244.5,72.4 245.9,68.3 247.8,64.3 250.2,60.6 253.1,57.3 256.4,54.4 260.1,52.0 264.1,50.1 268.2,48.7 272.3,47.8 276.5,47.1 280.6,46.8 284.7,46.6 288.8,46.5 292.9,46.6 297.0,46.8 301.1,47.1 305.3,47.8 309.4,48.7 313.5,50.1 317.5,52.0 321.2,54.4 324.5,57.3 327.4,60.6 329.8,64.3 331.7,68.3 333.1,72.4 334.0,76.5 334.7,80.7 335.0,84.8 335.2,88.9" fill="#0000ff"/><polygon points="334.4,93.0 334.3,97.0 334.1,101.0 333.8,105.0 333.2,109.1 332.2,113.2 330.8,117.3 329.0,121.1 326.6,124.8 323.8,128.0 320.6,130.8 316.9,133.2 313.1,135.0 309.0,136.4 304.9,137.4 300.8,138.0 296.8,138.3 292.8,138.5 288.8,138.6 284.8,138.5 280.8,138.3 276.8,138.0 272.7,137.4 268.6,136.4 264.5,135.0 260.7,133.2 257.0,130.8 253.8,128.0 251.0,124.8 248.6,121.1 246.8,117.3 245.4,113.2 244.4,109.1 243.8,105.0 243.5,101.0 243.3,97.0 243.2,93.0 243.3,89.0 243.5,85.0 243.8,81.0 244.4,76.9 245.4,72.8 246.8,68.7 248.6,64.9 251.0,61.2 253.8,58.0 257.0,55.2 260.7,52.8 264.5,51.0 268.6,49.6 272.7,48.6 276.8,48.0 280.8,47.7 284.8,47.5 288.8,47.4 292.8,47.5 296.8,47.7 300.8,48.0 304.9,48.6 309.0,49.6 313.1,51.0 316.9,52.8 320.6,55.2 323.8,58.0 326.6,61.2 329.0,64.9 330.8,68.7 332.2,72.8 333.2,76.9 333.8,81.0 334.1,85.0 334.3,89.0" fill="#001aff"/><polygon points="333.5,93.0 333.4,96.9 333.2,100.8 332.9,104.8 332.3,108.8 331.3,112.8 330.0,116.8 328.2,120.6 325.9,124.1 323.1,127.3 319.9,130.1 316.4,132.4 312.6,134.2 308.6,135.5 304.6,136.5 300.6,137.1 296.6,137.4 292.7,137.6 288.8,137.7 284.9,137.6 281.0,137.4 277.0,137.1 273.0,136.5 269.0,135.5 265.0,134.2 261.2,132.4 257.7,130.1 254.5,127.3 251.7,124.1 249.4,120.6 247.6,116.8 246.3,112.8 245.3,108.8 244.7,104.8 244.4,100.8 244.2,96.9 244.1,93.0 244.2,89.1 244.4,85.2 244.7,81.2 245.3,77.2 246.3,73.2 247.6,69.2 249.4,65.4 251.7,61.9 254.5,58.7 257.7,55.9 261.2,53.6 265.0,51.8 269.0,50.5 273.0,49.5 277.0,48.9 281.0,48.6 284.9,48.4 288.8,48.3 292.7,48.4 296.6,48.6 300.6,48.9 304.6,49.5 308.6,50.5 312.6,51.8 316.4,53.6 319.9,55.9 323.1,58.7 325.9,61.9 328.2,65.4 330.0,69.2 331.3,73.2 332.3,77.2 332.9,81.2 333.2,85.2 333.4,89.1" fill="#0033ff"/><polygon points="332.6,93.0 332.5,96.8 332.3,100.7 332.0,104.6 331.4,108.5 330.5,112.4 329.2,116.3 327.4,120.0 325.1,123.5 322.4,126.6 319.3,129.3 315.8,131.6 312.1,133.4 308.2,134.7 304.3,135.6 300.4,136.2 296.5,136.5 292.6,136.7 288.8,136.8 285.0,136.7 281.1,136.5 277.2,136.2 273.3,135.6 269.4,134.7 265.5,133.4 261.8,131.6 258.3,129.3 255.2,126.6 252.5,123.5 250.2,120.0 248.4,116.3 247.1,112.4 246.2,108.5 245.6,104.6 245.3,100.7 245.1,96.8 245.0,93.0 245.1,89.2 245.3,85.3 245.6,81.4 246.2,77.5 247.1,73.6 248.4,69.7 250.2,66.0 252.5,62.5 255.2,59.4 258.3,56.7 261.8,54.4 265.5,52.6 269.4,51.3 273.3,50.4 277.2,49.8 281.1,49.5 285.0,49.3 288.8,49.2 292.6,49.3 296.5,49.5 300.4,49.8 304.3,50.4 308.2,51.3 312.1,52.6 315.8,54.4 319.3,56.7 322.4,59.4 325.1,62.5 327.4,66.0 329.2,69.7 330.5,73.6 331.4,77.5 332.0,81.4 332.3,85.3 332.5,89.2" fill="#004dff"/><polygon points="331.7,93.0 331.6,96.7 331.4,100.5 331.1,104.3 330.5,108.2 329.6,112.0 328.3,115.8 326.6,119.5 324.4,122.9 321.7,125.9 318.7,128.6 315.3,130.8 311.6,132.5 307.8,133.8 304.0,134.7 300.1,135.3 296.3,135.6 292.5,135.8 288.8,135.9 285.1,135.8 281.3,135.6 277.5,135.3 273.6,134.7 269.8,133.8 266.0,132.5 262.3,130.8 258.9,128.6 255.9,125.9 253.2,122.9 251.0,119.5 249.3,115.8 248.0,112.0 247.1,108.2 246.5,104.3 246.2,100.5 246.0,96.7 245.9,93.0 246.0,89.3 246.2,85.5 246.5,81.7 247.1,77.8 248.0,74.0 249.3,70.2 251.0,66.5 253.2,63.1 255.9,60.1 258.9,57.4 262.3,55.2 266.0,53.5 269.8,52.2 273.6,51.3 277.5,50.7 281.3,50.4 285.1,50.2 288.8,50.1 292.5,50.2 296.3,50.4 300.1,50.7 304.0,51.3 307.8,52.2 311.6,53.5 315.3,55.2 318.7,57.4 321.7,60.1 324.4,63.1 326.6,66.5 328.3,70.2 329.6,74.0 330.5,77.8 331.1,81.7 331.4,85.5 331.6,89.3" fill="#0066ff"/><polygon points="330.8,93.0 330.7,96.7 330.5,100.4 330.2,104.1 329.6,107.9 328.8,111.6 327.5,115.3 325.8,118.9 323.6,122.2 321.0,125.2 318.0,127.8 314.7,130.0 311.1,131.7 307.4,133.0 303.7,133.8 299.9,134.4 296.2,134.7 292.5,134.9 288.8,135.0 285.1,134.9 281.4,134.7 277.7,134.4 273.9,133.8 270.2,133.0 266.5,131.7 262.9,130.0 259.6,127.8 256.6,125.2 254.0,122.2 251.8,118.9 250.1,115.3 248.8,111.6 248.0,107.9 247.4,104.1 247.1,100.4 246.9,96.7 246.8,93.0 246.9,89.3 247.1,85.6 247.4,81.9 248.0,78.1 248.8,74.4 250.1,70.7 251.8,67.1 254.0,63.8 256.6,60.8 259.6,58.2 262.9,56.0 266.5,54.3 270.2,53.0 273.9,52.2 277.7,51.6 281.4,51.3 285.1,51.1 288.8,51.0 292.5,51.1 296.2,51.3 299.9,51.6 303.7,52.2 307.4,53.0 311.1,54.3 314.7,56.0 318.0,58.2 321.0,60.8 323.6,63.8 325.8,67.1 327.5,70.7 328.8,74.4 329.6,78.1 330.2,81.9 330.5,85.6 330.7,89.3" fill="#0080ff"/><polygon points="329.7,93.0 329.7,96.6 329.5,100.2 329.2,103.8 328.7,107.5 327.8,111.2 326.6,114.8 324.9,118.3 322.8,121.5 320.3,124.5 317.3,127.0 314.1,129.1 310.6,130.8 307.0,132.0 303.3,132.9 299.6,133.4 296.0,133.7 292.4,133.9 288.8,133.9 285.2,133.9 281.6,133.7 278.0,133.4 274.3,132.9 270.6,132.0 267.0,130.8 263.5,129.1 260.3,127.0 257.3,124.5 254.8,121.5 252.7,118.3 251.0,114.8 249.8,111.2 248.9,107.5 248.4,103.8 248.1,100.2 247.9,96.6 247.9,93.0 247.9,89.4 248.1,85.8 248.4,82.2 248.9,78.5 249.8,74.8 251.0,71.2 252.7,67.7 254.8,64.5 257.3,61.5 260.3,59.0 263.5,56.9 267.0,55.2 270.6,54.0 274.3,53.1 278.0,52.6 281.6,52.3 285.2,52.1 288.8,52.1 292.4,52.1 296.0,52.3 299.6,52.6 303.3,53.1 307.0,54.0 310.6,55.2 314.1,56.9 317.3,59.0 320.3,61.5 322.8,64.5 324.9,67.7 326.6,71.2 327.8,74.8 328.7,78.5 329.2,82.2 329.5,85.8 329.7,89.4" fill="#0099ff"/><polygon points="328.7,93.0 328.7,96.5 328.5,100.0 328.2,103.6 327.7,107.2 326.8,110.7 325.6,114.3 324.0,117.7 322.0,120.8 319.5,123.7 316.6,126.2 313.5,128.2 310.1,129.8 306.5,131.0 303.0,131.9 299.4,132.4 295.8,132.7 292.3,132.9 288.8,132.9 285.3,132.9 281.8,132.7 278.2,132.4 274.6,131.9 271.1,131.0 267.5,129.8 264.1,128.2 261.0,126.2 258.1,123.7 255.6,120.8 253.6,117.7 252.0,114.3 250.8,110.7 249.9,107.2 249.4,103.6 249.1,100.0 248.9,96.5 248.9,93.0 248.9,89.5 249.1,86.0 249.4,82.4 249.9,78.8 250.8,75.3 252.0,71.7 253.6,68.3 255.6,65.2 258.1,62.3 261.0,59.8 264.1,57.8 267.5,56.2 271.1,55.0 274.6,54.1 278.2,53.6 281.8,53.3 285.3,53.1 288.8,53.1 292.3,53.1 295.8,53.3 299.4,53.6 303.0,54.1 306.5,55.0 310.1,56.2 313.5,57.8 316.6,59.8 319.5,62.3 322.0,65.2 324.0,68.3 325.6,71.7 326.8,75.3 327.7,78.8 328.2,82.4 328.5,86.0 328.7,89.5" fill="#00b3ff"/><polygon points="327.7,93.0 327.7,96.4 327.5,99.8 327.2,103.3 326.7,106.8 325.9,110.3 324.7,113.7 323.1,117.0 321.1,120.1 318.7,122.9 315.9,125.3 312.8,127.3 309.5,128.9 306.1,130.1 302.6,130.9 299.1,131.4 295.6,131.7 292.2,131.9 288.8,131.9 285.4,131.9 282.0,131.7 278.5,131.4 275.0,130.9 271.5,130.1 268.1,128.9 264.8,127.3 261.7,125.3 258.9,122.9 256.5,120.1 254.5,117.0 252.9,113.7 251.7,110.3 250.9,106.8 250.4,103.3 250.1,99.8 249.9,96.4 249.9,93.0 249.9,89.6 250.1,86.2 250.4,82.7 250.9,79.2 251.7,75.7 252.9,72.3 254.5,69.0 256.5,65.9 258.9,63.1 261.7,60.7 264.8,58.7 268.1,57.1 271.5,55.9 275.0,55.1 278.5,54.6 282.0,54.3 285.4,54.1 288.8,54.1 292.2,54.1 295.6,54.3 299.1,54.6 302.6,55.1 306.1,55.9 309.5,57.1 312.8,58.7 315.9,60.7 318.7,63.1 321.1,65.9 323.1,69.0 324.7,72.3 325.9,75.7 326.7,79.2 327.2,82.7 327.5,86.2 327.7,89.6" fill="#00ccff"/><polygon points="326.7,93.0 326.7,96.3 326.5,99.7 326.2,103.0 325.7,106.4 324.9,109.8 323.8,113.2 322.3,116.4 320.3,119.4 317.9,122.1 315.2,124.5 312.2,126.5 309.0,128.0 305.6,129.1 302.2,129.9 298.8,130.4 295.5,130.7 292.1,130.9 288.8,130.9 285.5,130.9 282.1,130.7 278.8,130.4 275.4,129.9 272.0,129.1 268.6,128.0 265.4,126.5 262.4,124.5 259.7,122.1 257.3,119.4 255.3,116.4 253.8,113.2 252.7,109.8 251.9,106.4 251.4,103.0 251.1,99.7 250.9,96.3 250.9,93.0 250.9,89.7 251.1,86.3 251.4,83.0 251.9,79.6 252.7,76.2 253.8,72.8 255.3,69.6 257.3,66.6 259.7,63.9 262.4,61.5 265.4,59.5 268.6,58.0 272.0,56.9 275.4,56.1 278.8,55.6 282.1,55.3 285.5,55.1 288.8,55.1 292.1,55.1 295.5,55.3 298.8,55.6 302.2,56.1 305.6,56.9 309.0,58.0 312.2,59.5 315.2,61.5 317.9,63.9 320.3,66.6 322.3,69.6 323.8,72.8 324.9,76.2 325.7,79.6 326.2,83.0 326.5,86.3 326.7,89.7" fill="#00e5ff"/><polygon points="325.7,93.0 325.7,96.2 325.5,99.5 325.2,102.8 324.7,106.1 324.0,109.4 322.9,112.7 321.4,115.8 319.5,118.7 317.2,121.4 314.5,123.7 311.6,125.6 308.5,127.1 305.2,128.2 301.9,128.9 298.6,129.4 295.3,129.7 292.0,129.9 288.8,129.9 285.6,129.9 282.3,129.7 279.0,129.4 275.7,128.9 272.4,128.2 269.1,127.1 266.0,125.6 263.1,123.7 260.4,121.4 258.1,118.7 256.2,115.8 254.7,112.7 253.6,109.4 252.9,106.1 252.4,102.8 252.1,99.5 251.9,96.2 251.9,93.0 251.9,89.8 252.1,86.5 252.4,83.2 252.9,79.9 253.6,76.6 254.7,73.3 256.2,70.2 258.1,67.3 260.4,64.6 263.1,62.3 266.0,60.4 269.1,58.9 272.4,57.8 275.7,57.1 279.0,56.6 282.3,56.3 285.6,56.1 288.8,56.1 292.0,56.1 295.3,56.3 298.6,56.6 301.9,57.1 305.2,57.8 308.5,58.9 311.6,60.4 314.5,62.3 317.2,64.6 319.5,67.3 321.4,70.2 322.9,73.3 324.0,76.6 324.7,79.9 325.2,83.2 325.5,86.5 325.7,89.8" fill="#00ffff"/><polygon points="324.6,93.0 324.6,96.1 324.5,99.3 324.2,102.5 323.7,105.7 322.9,108.9 321.9,112.1 320.4,115.1 318.6,118.0 316.4,120.6 313.8,122.8 310.9,124.6 307.9,126.1 304.7,127.1 301.5,127.9 298.3,128.4 295.1,128.7 291.9,128.8 288.8,128.8 285.7,128.8 282.5,128.7 279.3,128.4 276.1,127.9 272.9,127.1 269.7,126.1 266.7,124.6 263.8,122.8 261.2,120.6 259.0,118.0 257.2,115.1 255.7,112.1 254.7,108.9 253.9,105.7 253.4,102.5 253.1,99.3 253.0,96.1 253.0,93.0 253.0,89.9 253.1,86.7 253.4,83.5 253.9,80.3 254.7,77.1 255.7,73.9 257.2,70.9 259.0,68.0 261.2,65.4 263.8,63.2 266.7,61.4 269.7,59.9 272.9,58.9 276.1,58.1 279.3,57.6 282.5,57.3 285.7,57.2 288.8,57.2 291.9,57.2 295.1,57.3 298.3,57.6 301.5,58.1 304.7,58.9 307.9,59.9 310.9,61.4 313.8,63.2 316.4,65.4 318.6,68.0 320.4,70.9 321.9,73.9 322.9,77.1 323.7,80.3 324.2,83.5 324.5,86.7 324.6,89.9" fill="#1affe5"/><polygon points="323.6,93.0 323.5,96.0 323.4,99.1 323.1,102.2 322.7,105.3 321.9,108.4 320.9,111.5 319.5,114.5 317.7,117.2 315.5,119.7 313.0,121.9 310.3,123.7 307.3,125.1 304.2,126.1 301.1,126.9 298.0,127.3 294.9,127.6 291.8,127.7 288.8,127.8 285.8,127.7 282.7,127.6 279.6,127.3 276.5,126.9 273.4,126.1 270.3,125.1 267.3,123.7 264.6,121.9 262.1,119.7 259.9,117.2 258.1,114.5 256.7,111.5 255.7,108.4 254.9,105.3 254.5,102.2 254.2,99.1 254.1,96.0 254.0,93.0 254.1,90.0 254.2,86.9 254.5,83.8 254.9,80.7 255.7,77.6 256.7,74.5 258.1,71.5 259.9,68.8 262.1,66.3 264.6,64.1 267.3,62.3 270.3,60.9 273.4,59.9 276.5,59.1 279.6,58.7 282.7,58.4 285.8,58.3 288.8,58.2 291.8,58.3 294.9,58.4 298.0,58.7 301.1,59.1 304.2,59.9 307.3,60.9 310.3,62.3 313.0,64.1 315.5,66.3 317.7,68.8 319.5,71.5 320.9,74.5 321.9,77.6 322.7,80.7 323.1,83.8 323.4,86.9 323.5,90.0" fill="#33ffcc"/><polygon points="322.5,93.0 322.5,95.9 322.3,98.9 322.1,101.9 321.6,104.9 320.9,108.0 319.9,111.0 318.5,113.8 316.8,116.5 314.7,118.9 312.3,121.0 309.6,122.7 306.8,124.1 303.8,125.1 300.7,125.8 297.7,126.3 294.7,126.5 291.7,126.7 288.8,126.7 285.9,126.7 282.9,126.5 279.9,126.3 276.9,125.8 273.8,125.1 270.8,124.1 268.0,122.7 265.3,121.0 262.9,118.9 260.8,116.5 259.1,113.8 257.7,111.0 256.7,108.0 256.0,104.9 255.5,101.9 255.3,98.9 255.1,95.9 255.1,93.0 255.1,90.1 255.3,87.1 255.5,84.1 256.0,81.1 256.7,78.0 257.7,75.0 259.1,72.2 260.8,69.5 262.9,67.1 265.3,65.0 268.0,63.3 270.8,61.9 273.8,60.9 276.9,60.2 279.9,59.7 282.9,59.5 285.9,59.3 288.8,59.3 291.7,59.3 294.7,59.5 297.7,59.7 300.7,60.2 303.8,60.9 306.8,61.9 309.6,63.3 312.3,65.0 314.7,67.1 316.8,69.5 318.5,72.2 319.9,75.0 320.9,78.0 321.6,81.1 322.1,84.1 322.3,87.1 322.5,90.1" fill="#4cffb3"/><polygon points="321.4,93.0 321.4,95.9 321.3,98.7 321.0,101.6 320.6,104.6 319.9,107.5 318.9,110.4 317.6,113.2 315.9,115.7 313.9,118.1 311.5,120.1 309.0,121.8 306.2,123.1 303.3,124.1 300.4,124.8 297.4,125.2 294.5,125.5 291.7,125.6 288.8,125.6 285.9,125.6 283.1,125.5 280.2,125.2 277.2,124.8 274.3,124.1 271.4,123.1 268.6,121.8 266.1,120.1 263.7,118.1 261.7,115.7 260.0,113.2 258.7,110.4 257.7,107.5 257.0,104.6 256.6,101.6 256.3,98.7 256.2,95.9 256.2,93.0 256.2,90.1 256.3,87.3 256.6,84.4 257.0,81.4 257.7,78.5 258.7,75.6 260.0,72.8 261.7,70.3 263.7,67.9 266.1,65.9 268.6,64.2 271.4,62.9 274.3,61.9 277.2,61.2 280.2,60.8 283.1,60.5 285.9,60.4 288.8,60.4 291.7,60.4 294.5,60.5 297.4,60.8 300.4,61.2 303.3,61.9 306.2,62.9 309.0,64.2 311.5,65.9 313.9,67.9 315.9,70.3 317.6,72.8 318.9,75.6 319.9,78.5 320.6,81.4 321.0,84.4 321.3,87.3 321.4,90.1" fill="#66ff99"/><polygon points="320.4,93.0 320.3,95.8 320.2,98.5 320.0,101.3 319.5,104.2 318.9,107.0 317.9,109.8 316.6,112.5 315.0,115.0 313.1,117.3 310.8,119.2 308.3,120.8 305.6,122.1 302.8,123.1 300.0,123.7 297.1,124.2 294.3,124.4 291.6,124.5 288.8,124.6 286.0,124.5 283.3,124.4 280.5,124.2 277.6,123.7 274.8,123.1 272.0,122.1 269.3,120.8 266.8,119.2 264.5,117.3 262.6,115.0 261.0,112.5 259.7,109.8 258.7,107.0 258.1,104.2 257.6,101.3 257.4,98.5 257.3,95.8 257.2,93.0 257.3,90.2 257.4,87.5 257.6,84.7 258.1,81.8 258.7,79.0 259.7,76.2 261.0,73.5 262.6,71.0 264.5,68.7 266.8,66.8 269.3,65.2 272.0,63.9 274.8,62.9 277.6,62.3 280.5,61.8 283.3,61.6 286.0,61.5 288.8,61.4 291.6,61.5 294.3,61.6 297.1,61.8 300.0,62.3 302.8,62.9 305.6,63.9 308.3,65.2 310.8,66.8 313.1,68.7 315.0,71.0 316.6,73.5 317.9,76.2 318.9,79.0 319.5,81.8 320.0,84.7 320.2,87.5 320.3,90.2" fill="#80ff80"/><polygon points="319.5,93.0 319.5,95.7 319.3,98.4 319.1,101.1 318.7,103.9 318.1,106.6 317.1,109.4 315.9,112.0 314.3,114.4 312.4,116.6 310.2,118.5 307.8,120.1 305.2,121.3 302.4,122.3 299.7,122.9 296.9,123.3 294.2,123.5 291.5,123.7 288.8,123.7 286.1,123.7 283.4,123.5 280.7,123.3 277.9,122.9 275.2,122.3 272.4,121.3 269.8,120.1 267.4,118.5 265.2,116.6 263.3,114.4 261.7,112.0 260.5,109.4 259.5,106.6 258.9,103.9 258.5,101.1 258.3,98.4 258.1,95.7 258.1,93.0 258.1,90.3 258.3,87.6 258.5,84.9 258.9,82.1 259.5,79.4 260.5,76.6 261.7,74.0 263.3,71.6 265.2,69.4 267.4,67.5 269.8,65.9 272.4,64.7 275.2,63.7 277.9,63.1 280.7,62.7 283.4,62.5 286.1,62.3 288.8,62.3 291.5,62.3 294.2,62.5 296.9,62.7 299.7,63.1 302.4,63.7 305.2,64.7 307.8,65.9 310.2,67.5 312.4,69.4 314.3,71.6 315.9,74.0 317.1,76.6 318.1,79.4 318.7,82.1 319.1,84.9 319.3,87.6 319.5,90.3" fill="#99ff66"/><polygon points="318.6,93.0 318.6,95.6 318.5,98.2 318.3,100.9 317.9,103.6 317.2,106.3 316.3,108.9 315.1,111.4 313.6,113.8 311.7,115.9 309.6,117.8 307.2,119.3 304.7,120.5 302.1,121.4 299.4,122.1 296.7,122.5 294.0,122.7 291.4,122.8 288.8,122.8 286.2,122.8 283.6,122.7 280.9,122.5 278.2,122.1 275.5,121.4 272.9,120.5 270.4,119.3 268.0,117.8 265.9,115.9 264.0,113.8 262.5,111.4 261.3,108.9 260.4,106.3 259.7,103.6 259.3,100.9 259.1,98.2 259.0,95.6 259.0,93.0 259.0,90.4 259.1,87.8 259.3,85.1 259.7,82.4 260.4,79.7 261.3,77.1 262.5,74.6 264.0,72.2 265.9,70.1 268.0,68.2 270.4,66.7 272.9,65.5 275.5,64.6 278.2,63.9 280.9,63.5 283.6,63.3 286.2,63.2 288.8,63.2 291.4,63.2 294.0,63.3 296.7,63.5 299.4,63.9 302.1,64.6 304.7,65.5 307.2,66.7 309.6,68.2 311.7,70.1 313.6,72.2 315.1,74.6 316.3,77.1 317.2,79.7 317.9,82.4 318.3,85.1 318.5,87.8 318.6,90.4" fill="#b2ff4d"/><polygon points="317.8,93.0 317.8,95.5 317.6,98.1 317.4,100.7 317.0,103.3 316.4,105.9 315.5,108.4 314.4,110.9 312.9,113.2 311.1,115.3 309.0,117.1 306.7,118.6 304.2,119.7 301.7,120.6 299.1,121.2 296.5,121.6 293.9,121.8 291.3,122.0 288.8,122.0 286.3,122.0 283.7,121.8 281.1,121.6 278.5,121.2 275.9,120.6 273.4,119.7 270.9,118.6 268.6,117.1 266.5,115.3 264.7,113.2 263.2,110.9 262.1,108.4 261.2,105.9 260.6,103.3 260.2,100.7 260.0,98.1 259.8,95.5 259.8,93.0 259.8,90.5 260.0,87.9 260.2,85.3 260.6,82.7 261.2,80.1 262.1,77.6 263.2,75.1 264.7,72.8 266.5,70.7 268.6,68.9 270.9,67.4 273.4,66.3 275.9,65.4 278.5,64.8 281.1,64.4 283.7,64.2 286.3,64.0 288.8,64.0 291.3,64.0 293.9,64.2 296.5,64.4 299.1,64.8 301.7,65.4 304.2,66.3 306.7,67.4 309.0,68.9 311.1,70.7 312.9,72.8 314.4,75.1 315.5,77.6 316.4,80.1 317.0,82.7 317.4,85.3 317.6,87.9 317.8,90.5" fill="#ccff33"/><polygon points="316.9,93.0 316.9,95.5 316.8,97.9 316.6,100.4 316.2,103.0 315.6,105.5 314.7,108.0 313.6,110.4 312.2,112.6 310.4,114.6 308.4,116.4 306.2,117.8 303.8,118.9 301.3,119.8 298.8,120.4 296.2,120.8 293.7,121.0 291.3,121.1 288.8,121.1 286.3,121.1 283.9,121.0 281.4,120.8 278.8,120.4 276.3,119.8 273.8,118.9 271.4,117.8 269.2,116.4 267.2,114.6 265.4,112.6 264.0,110.4 262.9,108.0 262.0,105.5 261.4,103.0 261.0,100.4 260.8,97.9 260.7,95.5 260.7,93.0 260.7,90.5 260.8,88.1 261.0,85.6 261.4,83.0 262.0,80.5 262.9,78.0 264.0,75.6 265.4,73.4 267.2,71.4 269.2,69.6 271.4,68.2 273.8,67.1 276.3,66.2 278.8,65.6 281.4,65.2 283.9,65.0 286.3,64.9 288.8,64.9 291.3,64.9 293.7,65.0 296.2,65.2 298.8,65.6 301.3,66.2 303.8,67.1 306.2,68.2 308.4,69.6 310.4,71.4 312.2,73.4 313.6,75.6 314.7,78.0 315.6,80.5 316.2,83.0 316.6,85.6 316.8,88.1 316.9,90.5" fill="#e5ff1a"/><polygon points="316.1,93.0 316.0,95.4 315.9,97.8 315.7,100.2 315.3,102.7 314.8,105.1 314.0,107.5 312.9,109.8 311.5,112.0 309.8,114.0 307.8,115.7 305.6,117.1 303.3,118.2 300.9,119.0 298.5,119.5 296.0,119.9 293.6,120.1 291.2,120.2 288.8,120.3 286.4,120.2 284.0,120.1 281.6,119.9 279.1,119.5 276.7,119.0 274.3,118.2 272.0,117.1 269.8,115.7 267.8,114.0 266.1,112.0 264.7,109.8 263.6,107.5 262.8,105.1 262.3,102.7 261.9,100.2 261.7,97.8 261.6,95.4 261.5,93.0 261.6,90.6 261.7,88.2 261.9,85.8 262.3,83.3 262.8,80.9 263.6,78.5 264.7,76.2 266.1,74.0 267.8,72.0 269.8,70.3 272.0,68.9 274.3,67.8 276.7,67.0 279.1,66.5 281.6,66.1 284.0,65.9 286.4,65.8 288.8,65.7 291.2,65.8 293.6,65.9 296.0,66.1 298.5,66.5 300.9,67.0 303.3,67.8 305.6,68.9 307.8,70.3 309.8,72.0 311.5,74.0 312.9,76.2 314.0,78.5 314.8,80.9 315.3,83.3 315.7,85.8 315.9,88.2 316.0,90.6" fill="#ffff00"/><polygon points="315.3,93.0 315.3,95.3 315.2,97.6 314.9,100.0 314.6,102.4 314.0,104.8 313.2,107.1 312.2,109.4 310.8,111.5 309.2,113.4 307.3,115.0 305.2,116.4 302.9,117.4 300.6,118.2 298.2,118.8 295.8,119.1 293.4,119.4 291.1,119.5 288.8,119.5 286.5,119.5 284.2,119.4 281.8,119.1 279.4,118.8 277.0,118.2 274.7,117.4 272.4,116.4 270.3,115.0 268.4,113.4 266.8,111.5 265.4,109.4 264.4,107.1 263.6,104.8 263.0,102.4 262.7,100.0 262.4,97.6 262.3,95.3 262.3,93.0 262.3,90.7 262.4,88.4 262.7,86.0 263.0,83.6 263.6,81.2 264.4,78.9 265.4,76.6 266.8,74.5 268.4,72.6 270.3,71.0 272.4,69.6 274.7,68.6 277.0,67.8 279.4,67.2 281.8,66.9 284.2,66.6 286.5,66.5 288.8,66.5 291.1,66.5 293.4,66.6 295.8,66.9 298.2,67.2 300.6,67.8 302.9,68.6 305.2,69.6 307.3,71.0 309.2,72.6 310.8,74.5 312.2,76.6 313.2,78.9 314.0,81.2 314.6,83.6 314.9,86.0 315.2,88.4 315.3,90.7" fill="#ffe500"/><polygon points="314.5,93.0 314.5,95.2 314.4,97.5 314.2,99.8 313.8,102.1 313.3,104.4 312.5,106.7 311.5,108.9 310.2,110.9 308.6,112.8 306.7,114.4 304.7,115.7 302.5,116.7 300.2,117.5 297.9,118.0 295.6,118.4 293.3,118.6 291.0,118.7 288.8,118.7 286.6,118.7 284.3,118.6 282.0,118.4 279.7,118.0 277.4,117.5 275.1,116.7 272.9,115.7 270.9,114.4 269.0,112.8 267.4,110.9 266.1,108.9 265.1,106.7 264.3,104.4 263.8,102.1 263.4,99.8 263.2,97.5 263.1,95.2 263.1,93.0 263.1,90.8 263.2,88.5 263.4,86.2 263.8,83.9 264.3,81.6 265.1,79.3 266.1,77.1 267.4,75.1 269.0,73.2 270.9,71.6 272.9,70.3 275.1,69.3 277.4,68.5 279.7,68.0 282.0,67.6 284.3,67.4 286.6,67.3 288.8,67.3 291.0,67.3 293.3,67.4 295.6,67.6 297.9,68.0 300.2,68.5 302.5,69.3 304.7,70.3 306.7,71.6 308.6,73.2 310.2,75.1 311.5,77.1 312.5,79.3 313.3,81.6 313.8,83.9 314.2,86.2 314.4,88.5 314.5,90.8" fill="#ffcc00"/><polygon points="313.7,93.0 313.7,95.2 313.6,97.4 313.4,99.6 313.1,101.8 312.6,104.1 311.8,106.3 310.8,108.4 309.5,110.4 308.0,112.2 306.2,113.7 304.2,115.0 302.1,116.0 299.9,116.8 297.6,117.3 295.4,117.6 293.2,117.8 291.0,117.9 288.8,117.9 286.6,117.9 284.4,117.8 282.2,117.6 280.0,117.3 277.7,116.8 275.5,116.0 273.4,115.0 271.4,113.7 269.6,112.2 268.1,110.4 266.8,108.4 265.8,106.3 265.0,104.1 264.5,101.8 264.2,99.6 264.0,97.4 263.9,95.2 263.9,93.0 263.9,90.8 264.0,88.6 264.2,86.4 264.5,84.2 265.0,81.9 265.8,79.7 266.8,77.6 268.1,75.6 269.6,73.8 271.4,72.3 273.4,71.0 275.5,70.0 277.7,69.2 280.0,68.7 282.2,68.4 284.4,68.2 286.6,68.1 288.8,68.1 291.0,68.1 293.2,68.2 295.4,68.4 297.6,68.7 299.9,69.2 302.1,70.0 304.2,71.0 306.2,72.3 308.0,73.8 309.5,75.6 310.8,77.6 311.8,79.7 312.6,81.9 313.1,84.2 313.4,86.4 313.6,88.6 313.7,90.8" fill="#ffb200"/><polygon points="313.0,93.0 312.9,95.1 312.8,97.2 312.6,99.4 312.3,101.6 311.8,103.7 311.1,105.9 310.1,107.9 308.9,109.8 307.4,111.6 305.6,113.1 303.7,114.3 301.7,115.3 299.5,116.0 297.4,116.5 295.2,116.8 293.0,117.0 290.9,117.1 288.8,117.2 286.7,117.1 284.6,117.0 282.4,116.8 280.2,116.5 278.1,116.0 275.9,115.3 273.9,114.3 272.0,113.1 270.2,111.6 268.7,109.8 267.5,107.9 266.5,105.9 265.8,103.7 265.3,101.6 265.0,99.4 264.8,97.2 264.7,95.1 264.6,93.0 264.7,90.9 264.8,88.8 265.0,86.6 265.3,84.4 265.8,82.3 266.5,80.1 267.5,78.1 268.7,76.2 270.2,74.4 272.0,72.9 273.9,71.7 275.9,70.7 278.1,70.0 280.2,69.5 282.4,69.2 284.6,69.0 286.7,68.9 288.8,68.8 290.9,68.9 293.0,69.0 295.2,69.2 297.4,69.5 299.5,70.0 301.7,70.7 303.7,71.7 305.6,72.9 307.4,74.4 308.9,76.2 310.1,78.1 311.1,80.1 311.8,82.3 312.3,84.4 312.6,86.6 312.8,88.8 312.9,90.9" fill="#ff9900"/><polygon points="312.2,93.0 312.2,95.0 312.1,97.1 311.9,99.2 311.6,101.3 311.1,103.4 310.4,105.5 309.4,107.4 308.2,109.3 306.8,111.0 305.1,112.4 303.2,113.6 301.3,114.6 299.2,115.3 297.1,115.8 295.0,116.1 292.9,116.3 290.8,116.4 288.8,116.4 286.8,116.4 284.7,116.3 282.6,116.1 280.5,115.8 278.4,115.3 276.3,114.6 274.4,113.6 272.5,112.4 270.8,111.0 269.4,109.3 268.2,107.4 267.2,105.5 266.5,103.4 266.0,101.3 265.7,99.2 265.5,97.1 265.4,95.0 265.4,93.0 265.4,91.0 265.5,88.9 265.7,86.8 266.0,84.7 266.5,82.6 267.2,80.5 268.2,78.6 269.4,76.7 270.8,75.0 272.5,73.6 274.4,72.4 276.3,71.4 278.4,70.7 280.5,70.2 282.6,69.9 284.7,69.7 286.8,69.6 288.8,69.6 290.8,69.6 292.9,69.7 295.0,69.9 297.1,70.2 299.2,70.7 301.3,71.4 303.2,72.4 305.1,73.6 306.8,75.0 308.2,76.7 309.4,78.6 310.4,80.5 311.1,82.6 311.6,84.7 311.9,86.8 312.1,88.9 312.2,91.0" fill="#ff8000"/><polygon points="311.3,93.0 311.3,95.0 311.2,96.9 311.0,99.0 310.7,101.0 310.2,103.0 309.6,105.0 308.7,106.9 307.5,108.7 306.1,110.3 304.5,111.7 302.7,112.9 300.8,113.8 298.8,114.4 296.8,114.9 294.8,115.2 292.7,115.4 290.8,115.5 288.8,115.5 286.8,115.5 284.9,115.4 282.8,115.2 280.8,114.9 278.8,114.4 276.8,113.8 274.9,112.9 273.1,111.7 271.5,110.3 270.1,108.7 268.9,106.9 268.0,105.0 267.4,103.0 266.9,101.0 266.6,99.0 266.4,96.9 266.3,95.0 266.3,93.0 266.3,91.0 266.4,89.1 266.6,87.0 266.9,85.0 267.4,83.0 268.0,81.0 268.9,79.1 270.1,77.3 271.5,75.7 273.1,74.3 274.9,73.1 276.8,72.2 278.8,71.6 280.8,71.1 282.8,70.8 284.9,70.6 286.8,70.5 288.8,70.5 290.8,70.5 292.7,70.6 294.8,70.8 296.8,71.1 298.8,71.6 300.8,72.2 302.7,73.1 304.5,74.3 306.1,75.7 307.5,77.3 308.7,79.1 309.6,81.0 310.2,83.0 310.7,85.0 311.0,87.0 311.2,89.1 311.3,91.0" fill="#ff6600"/><polygon points="310.4,93.0 310.4,94.9 310.3,96.8 310.2,98.7 309.9,100.7 309.4,102.6 308.8,104.5 307.9,106.4 306.8,108.1 305.4,109.6 303.9,111.0 302.2,112.1 300.3,113.0 298.4,113.6 296.5,114.1 294.5,114.4 292.6,114.5 290.7,114.6 288.8,114.6 286.9,114.6 285.0,114.5 283.1,114.4 281.1,114.1 279.2,113.6 277.3,113.0 275.4,112.1 273.7,111.0 272.2,109.6 270.8,108.1 269.7,106.4 268.8,104.5 268.2,102.6 267.7,100.7 267.4,98.7 267.3,96.8 267.2,94.9 267.2,93.0 267.2,91.1 267.3,89.2 267.4,87.3 267.7,85.3 268.2,83.4 268.8,81.5 269.7,79.6 270.8,77.9 272.2,76.4 273.7,75.0 275.4,73.9 277.3,73.0 279.2,72.4 281.1,71.9 283.1,71.6 285.0,71.5 286.9,71.4 288.8,71.4 290.7,71.4 292.6,71.5 294.5,71.6 296.5,71.9 298.4,72.4 300.3,73.0 302.2,73.9 303.9,75.0 305.4,76.4 306.8,77.9 307.9,79.6 308.8,81.5 309.4,83.4 309.9,85.3 310.2,87.3 310.3,89.2 310.4,91.1" fill="#ff4d00"/><polygon points="309.6,93.0 309.6,94.8 309.5,96.7 309.4,98.5 309.1,100.4 308.6,102.3 308.0,104.1 307.2,105.9 306.1,107.5 304.8,109.0 303.3,110.3 301.7,111.4 299.9,112.2 298.1,112.8 296.2,113.3 294.3,113.6 292.5,113.7 290.6,113.8 288.8,113.8 287.0,113.8 285.1,113.7 283.3,113.6 281.4,113.3 279.5,112.8 277.7,112.2 275.9,111.4 274.3,110.3 272.8,109.0 271.5,107.5 270.4,105.9 269.6,104.1 269.0,102.3 268.5,100.4 268.2,98.5 268.1,96.7 268.0,94.8 268.0,93.0 268.0,91.2 268.1,89.3 268.2,87.5 268.5,85.6 269.0,83.7 269.6,81.9 270.4,80.1 271.5,78.5 272.8,77.0 274.3,75.7 275.9,74.6 277.7,73.8 279.5,73.2 281.4,72.7 283.3,72.4 285.1,72.3 287.0,72.2 288.8,72.2 290.6,72.2 292.5,72.3 294.3,72.4 296.2,72.7 298.1,73.2 299.9,73.8 301.7,74.6 303.3,75.7 304.8,77.0 306.1,78.5 307.2,80.1 308.0,81.9 308.6,83.7 309.1,85.6 309.4,87.5 309.5,89.3 309.6,91.2" fill="#ff3300"/><polygon points="308.9,93.0 308.8,94.8 308.8,96.5 308.6,98.3 308.3,100.1 307.9,101.9 307.3,103.7 306.5,105.4 305.5,107.0 304.2,108.4 302.8,109.7 301.2,110.7 299.5,111.5 297.7,112.1 295.9,112.5 294.1,112.8 292.3,113.0 290.6,113.0 288.8,113.1 287.0,113.0 285.3,113.0 283.5,112.8 281.7,112.5 279.9,112.1 278.1,111.5 276.4,110.7 274.8,109.7 273.4,108.4 272.1,107.0 271.1,105.4 270.3,103.7 269.7,101.9 269.3,100.1 269.0,98.3 268.8,96.5 268.8,94.8 268.7,93.0 268.8,91.2 268.8,89.5 269.0,87.7 269.3,85.9 269.7,84.1 270.3,82.3 271.1,80.6 272.1,79.0 273.4,77.6 274.8,76.3 276.4,75.3 278.1,74.5 279.9,73.9 281.7,73.5 283.5,73.2 285.3,73.0 287.0,73.0 288.8,72.9 290.6,73.0 292.3,73.0 294.1,73.2 295.9,73.5 297.7,73.9 299.5,74.5 301.2,75.3 302.8,76.3 304.2,77.6 305.5,79.0 306.5,80.6 307.3,82.3 307.9,84.1 308.3,85.9 308.6,87.7 308.8,89.5 308.8,91.2" fill="#ff1a00"/><polygon points="308.1,93.0 308.1,94.7 308.0,96.4 307.8,98.1 307.6,99.8 307.2,101.6 306.6,103.3 305.8,104.9 304.8,106.5 303.6,107.8 302.3,109.0 300.7,110.0 299.1,110.8 297.4,111.4 295.6,111.8 293.9,112.0 292.2,112.2 290.5,112.3 288.8,112.3 287.1,112.3 285.4,112.2 283.7,112.0 282.0,111.8 280.2,111.4 278.5,110.8 276.9,110.0 275.3,109.0 274.0,107.8 272.8,106.5 271.8,104.9 271.0,103.3 270.4,101.6 270.0,99.8 269.8,98.1 269.6,96.4 269.5,94.7 269.5,93.0 269.5,91.3 269.6,89.6 269.8,87.9 270.0,86.2 270.4,84.4 271.0,82.7 271.8,81.1 272.8,79.5 274.0,78.2 275.3,77.0 276.9,76.0 278.5,75.2 280.2,74.6 282.0,74.2 283.7,74.0 285.4,73.8 287.1,73.7 288.8,73.7 290.5,73.7 292.2,73.8 293.9,74.0 295.6,74.2 297.4,74.6 299.1,75.2 300.7,76.0 302.3,77.0 303.6,78.2 304.8,79.5 305.8,81.1 306.6,82.7 307.2,84.4 307.6,86.2 307.8,87.9 308.0,89.6 308.1,91.3" fill="#ff0000"/><polygon points="307.4,93.0 307.4,94.6 307.4,96.3 307.2,97.9 307.0,99.6 306.6,101.3 306.0,102.9 305.2,104.5 304.3,106.0 303.1,107.3 301.8,108.5 300.3,109.4 298.7,110.2 297.1,110.8 295.4,111.2 293.7,111.4 292.1,111.6 290.4,111.6 288.8,111.6 287.2,111.6 285.5,111.6 283.9,111.4 282.2,111.2 280.5,110.8 278.9,110.2 277.3,109.4 275.8,108.5 274.5,107.3 273.3,106.0 272.4,104.5 271.6,102.9 271.0,101.3 270.6,99.6 270.4,97.9 270.2,96.3 270.2,94.6 270.2,93.0 270.2,91.4 270.2,89.7 270.4,88.1 270.6,86.4 271.0,84.7 271.6,83.1 272.4,81.5 273.3,80.0 274.5,78.7 275.8,77.5 277.3,76.6 278.9,75.8 280.5,75.2 282.2,74.8 283.9,74.6 285.5,74.4 287.2,74.4 288.8,74.4 290.4,74.4 292.1,74.4 293.7,74.6 295.4,74.8 297.1,75.2 298.7,75.8 300.3,76.6 301.8,77.5 303.1,78.7 304.3,80.0 305.2,81.5 306.0,83.1 306.6,84.7 307.0,86.4 307.2,88.1 307.4,89.7 307.4,91.4" fill="#e60000"/><polygon points="306.8,93.0 306.8,94.6 306.7,96.2 306.6,97.8 306.3,99.4 305.9,101.0 305.4,102.6 304.7,104.1 303.7,105.5 302.6,106.8 301.3,107.9 299.9,108.9 298.4,109.6 296.8,110.1 295.2,110.5 293.6,110.8 292.0,110.9 290.4,111.0 288.8,111.0 287.2,111.0 285.6,110.9 284.0,110.8 282.4,110.5 280.8,110.1 279.2,109.6 277.7,108.9 276.3,107.9 275.0,106.8 273.9,105.5 272.9,104.1 272.2,102.6 271.7,101.0 271.3,99.4 271.0,97.8 270.9,96.2 270.8,94.6 270.8,93.0 270.8,91.4 270.9,89.8 271.0,88.2 271.3,86.6 271.7,85.0 272.2,83.4 272.9,81.9 273.9,80.5 275.0,79.2 276.3,78.1 277.7,77.1 279.2,76.4 280.8,75.9 282.4,75.5 284.0,75.2 285.6,75.1 287.2,75.0 288.8,75.0 290.4,75.0 292.0,75.1 293.6,75.2 295.2,75.5 296.8,75.9 298.4,76.4 299.9,77.1 301.3,78.1 302.6,79.2 303.7,80.5 304.7,81.9 305.4,83.4 305.9,85.0 306.3,86.6 306.6,88.2 306.7,89.8 306.8,91.4" fill="#cc0000"/><polygon points="306.1,93.0 306.1,94.5 306.1,96.0 305.9,97.6 305.7,99.1 305.3,100.7 304.8,102.2 304.1,103.7 303.2,105.1 302.1,106.3 300.9,107.4 299.5,108.3 298.0,109.0 296.5,109.5 294.9,109.9 293.4,110.1 291.8,110.3 290.3,110.3 288.8,110.3 287.3,110.3 285.8,110.3 284.2,110.1 282.7,109.9 281.1,109.5 279.6,109.0 278.1,108.3 276.7,107.4 275.5,106.3 274.4,105.1 273.5,103.7 272.8,102.2 272.3,100.7 271.9,99.1 271.7,97.6 271.5,96.0 271.5,94.5 271.5,93.0 271.5,91.5 271.5,90.0 271.7,88.4 271.9,86.9 272.3,85.3 272.8,83.8 273.5,82.3 274.4,80.9 275.5,79.7 276.7,78.6 278.1,77.7 279.6,77.0 281.1,76.5 282.7,76.1 284.2,75.9 285.8,75.7 287.3,75.7 288.8,75.7 290.3,75.7 291.8,75.7 293.4,75.9 294.9,76.1 296.5,76.5 298.0,77.0 299.5,77.7 300.9,78.6 302.1,79.7 303.2,80.9 304.1,82.3 304.8,83.8 305.3,85.3 305.7,86.9 305.9,88.4 306.1,90.0 306.1,91.5" fill="#b30000"/><polygon points="305.5,93.0 305.5,94.5 305.4,95.9 305.3,97.4 305.1,98.9 304.7,100.4 304.2,101.9 303.5,103.3 302.7,104.6 301.6,105.8 300.4,106.9 299.1,107.7 297.7,108.4 296.2,108.9 294.7,109.3 293.2,109.5 291.7,109.6 290.3,109.7 288.8,109.7 287.3,109.7 285.9,109.6 284.4,109.5 282.9,109.3 281.4,108.9 279.9,108.4 278.5,107.7 277.2,106.9 276.0,105.8 274.9,104.6 274.1,103.3 273.4,101.9 272.9,100.4 272.5,98.9 272.3,97.4 272.2,95.9 272.1,94.5 272.1,93.0 272.1,91.5 272.2,90.1 272.3,88.6 272.5,87.1 272.9,85.6 273.4,84.1 274.1,82.7 274.9,81.4 276.0,80.2 277.2,79.1 278.5,78.3 279.9,77.6 281.4,77.1 282.9,76.7 284.4,76.5 285.9,76.4 287.3,76.3 288.8,76.3 290.3,76.3 291.7,76.4 293.2,76.5 294.7,76.7 296.2,77.1 297.7,77.6 299.1,78.3 300.4,79.1 301.6,80.2 302.7,81.4 303.5,82.7 304.2,84.1 304.7,85.6 305.1,87.1 305.3,88.6 305.4,90.1 305.5,91.5" fill="#990000"/><polygon points="304.8,93.0 304.8,94.4 304.8,95.8 304.6,97.2 304.4,98.7 304.1,100.1 303.6,101.5 303.0,102.9 302.1,104.2 301.1,105.3 300.0,106.3 298.7,107.2 297.3,107.8 295.9,108.3 294.5,108.6 293.0,108.8 291.6,109.0 290.2,109.0 288.8,109.0 287.4,109.0 286.0,109.0 284.6,108.8 283.1,108.6 281.7,108.3 280.3,107.8 278.9,107.2 277.6,106.3 276.5,105.3 275.5,104.2 274.6,102.9 274.0,101.5 273.5,100.1 273.2,98.7 273.0,97.2 272.8,95.8 272.8,94.4 272.8,93.0 272.8,91.6 272.8,90.2 273.0,88.8 273.2,87.3 273.5,85.9 274.0,84.5 274.6,83.1 275.5,81.8 276.5,80.7 277.6,79.7 278.9,78.8 280.3,78.2 281.7,77.7 283.1,77.4 284.6,77.2 286.0,77.0 287.4,77.0 288.8,77.0 290.2,77.0 291.6,77.0 293.0,77.2 294.5,77.4 295.9,77.7 297.3,78.2 298.7,78.8 300.0,79.7 301.1,80.7 302.1,81.8 303.0,83.1 303.6,84.5 304.1,85.9 304.4,87.3 304.6,88.8 304.8,90.2 304.8,91.6" fill="#800000"/></g>
<circle cx="244.2" cy="47.6" r="16.1" fill="#35f2ee" stroke="#fff" stroke-width="0.9"/><line x1="251.03" y1="54.43" x2="255.58" y2="58.98" stroke="#fff" stroke-width="0.7200000000000001"/><line x1="237.37" y1="54.43" x2="232.82" y2="58.98" stroke="#fff" stroke-width="0.7200000000000001"/><line x1="237.37" y1="40.77" x2="232.82" y2="36.22" stroke="#fff" stroke-width="0.7200000000000001"/><line x1="251.03" y1="40.77" x2="255.58" y2="36.22" stroke="#fff" stroke-width="0.7200000000000001"/><line x1="255.36" y1="47.60" x2="261.10" y2="47.60" stroke="#0000ac" stroke-width="1.0"/><line x1="244.20" y1="58.76" x2="244.20" y2="64.50" stroke="#0000ac" stroke-width="1.0"/><line x1="233.04" y1="47.60" x2="227.30" y2="47.60" stroke="#0000ac" stroke-width="1.0"/><line x1="244.20" y1="36.44" x2="244.20" y2="30.70" stroke="#0000ac" stroke-width="1.0"/><circle cx="244.2" cy="47.6" r="9.66" fill="#86f5a0" stroke="#fff" stroke-width="0.9"/>
<circle cx="244.2" cy="93.0" r="16.0" fill="#8b0000" stroke="#fff" stroke-width="0.75"/><line x1="250.99" y1="99.79" x2="255.51" y2="104.31" stroke="#fff" stroke-width="0.6000000000000001"/><line x1="237.41" y1="99.79" x2="232.89" y2="104.31" stroke="#fff" stroke-width="0.6000000000000001"/><line x1="237.41" y1="86.21" x2="232.89" y2="81.69" stroke="#fff" stroke-width="0.6000000000000001"/><line x1="250.99" y1="86.21" x2="255.51" y2="81.69" stroke="#fff" stroke-width="0.6000000000000001"/><line x1="255.30" y1="93.00" x2="261.00" y2="93.00" stroke="#8b0000" stroke-width="1.0"/><line x1="244.20" y1="104.10" x2="244.20" y2="109.80" stroke="#8b0000" stroke-width="1.0"/><line x1="233.10" y1="93.00" x2="227.40" y2="93.00" stroke="#8b0000" stroke-width="1.0"/><line x1="244.20" y1="81.90" x2="244.20" y2="76.20" stroke="#8b0000" stroke-width="1.0"/><circle cx="244.2" cy="93.0" r="9.6" fill="#8b0000" stroke="#fff" stroke-width="0.75"/>
<circle cx="244.2" cy="138.4" r="16.1" fill="#35f2ee" stroke="#fff" stroke-width="0.9"/><line x1="251.03" y1="145.23" x2="255.58" y2="149.78" stroke="#fff" stroke-width="0.7200000000000001"/><line x1="237.37" y1="145.23" x2="232.82" y2="149.78" stroke="#fff" stroke-width="0.7200000000000001"/><line x1="237.37" y1="131.57" x2="232.82" y2="127.02" stroke="#fff" stroke-width="0.7200000000000001"/><line x1="251.03" y1="131.57" x2="255.58" y2="127.02" stroke="#fff" stroke-width="0.7200000000000001"/><line x1="255.36" y1="138.40" x2="261.10" y2="138.40" stroke="#0000ac" stroke-width="1.0"/><line x1="244.20" y1="149.56" x2="244.20" y2="155.30" stroke="#0000ac" stroke-width="1.0"/><line x1="233.04" y1="138.40" x2="227.30" y2="138.40" stroke="#0000ac" stroke-width="1.0"/><line x1="244.20" y1="127.24" x2="244.20" y2="121.50" stroke="#0000ac" stroke-width="1.0"/><circle cx="244.2" cy="138.4" r="9.66" fill="#86f5a0" stroke="#fff" stroke-width="0.9"/>
<circle cx="288.8" cy="47.6" r="16.0" fill="#8b0000" stroke="#fff" stroke-width="0.75"/><line x1="295.59" y1="54.39" x2="300.11" y2="58.91" stroke="#fff" stroke-width="0.6000000000000001"/><line x1="282.01" y1="54.39" x2="277.49" y2="58.91" stroke="#fff" stroke-width="0.6000000000000001"/><line x1="282.01" y1="40.81" x2="277.49" y2="36.29" stroke="#fff" stroke-width="0.6000000000000001"/><line x1="295.59" y1="40.81" x2="300.11" y2="36.29" stroke="#fff" stroke-width="0.6000000000000001"/><line x1="299.90" y1="47.60" x2="305.60" y2="47.60" stroke="#8b0000" stroke-width="1.0"/><line x1="288.80" y1="58.70" x2="288.80" y2="64.40" stroke="#8b0000" stroke-width="1.0"/><line x1="277.70" y1="47.60" x2="272.00" y2="47.60" stroke="#8b0000" stroke-width="1.0"/><line x1="288.80" y1="36.50" x2="288.80" y2="30.80" stroke="#8b0000" stroke-width="1.0"/><circle cx="288.8" cy="47.6" r="9.6" fill="#8b0000" stroke="#fff" stroke-width="0.75"/>
<circle cx="288.8" cy="138.4" r="16.0" fill="#8b0000" stroke="#fff" stroke-width="0.75"/><line x1="295.59" y1="145.19" x2="300.11" y2="149.71" stroke="#fff" stroke-width="0.6000000000000001"/><line x1="282.01" y1="145.19" x2="277.49" y2="149.71" stroke="#fff" stroke-width="0.6000000000000001"/><line x1="282.01" y1="131.61" x2="277.49" y2="127.09" stroke="#fff" stroke-width="0.6000000000000001"/><line x1="295.59" y1="131.61" x2="300.11" y2="127.09" stroke="#fff" stroke-width="0.6000000000000001"/><line x1="299.90" y1="138.40" x2="305.60" y2="138.40" stroke="#8b0000" stroke-width="1.0"/><line x1="288.80" y1="149.50" x2="288.80" y2="155.20" stroke="#8b0000" stroke-width="1.0"/><line x1="277.70" y1="138.40" x2="272.00" y2="138.40" stroke="#8b0000" stroke-width="1.0"/><line x1="288.80" y1="127.30" x2="288.80" y2="121.60" stroke="#8b0000" stroke-width="1.0"/><circle cx="288.8" cy="138.4" r="9.6" fill="#8b0000" stroke="#fff" stroke-width="0.75"/>
<circle cx="334.0" cy="47.6" r="16.0" fill="#2070ff" stroke="#fff" stroke-width="0.9"/><line x1="340.79" y1="54.39" x2="345.31" y2="58.91" stroke="#fff" stroke-width="0.7200000000000001"/><line x1="327.21" y1="54.39" x2="322.69" y2="58.91" stroke="#fff" stroke-width="0.7200000000000001"/><line x1="327.21" y1="40.81" x2="322.69" y2="36.29" stroke="#fff" stroke-width="0.7200000000000001"/><line x1="340.79" y1="40.81" x2="345.31" y2="36.29" stroke="#fff" stroke-width="0.7200000000000001"/><line x1="345.10" y1="47.60" x2="350.80" y2="47.60" stroke="#0000ac" stroke-width="1.0"/><line x1="334.00" y1="58.70" x2="334.00" y2="64.40" stroke="#0000ac" stroke-width="1.0"/><line x1="322.90" y1="47.60" x2="317.20" y2="47.60" stroke="#0000ac" stroke-width="1.0"/><line x1="334.00" y1="36.50" x2="334.00" y2="30.80" stroke="#0000ac" stroke-width="1.0"/><circle cx="334.0" cy="47.6" r="9.6" fill="#189cff" stroke="#fff" stroke-width="0.9"/>
<circle cx="334.0" cy="93.0" r="16.0" fill="#8b0000" stroke="#fff" stroke-width="0.75"/><line x1="340.79" y1="99.79" x2="345.31" y2="104.31" stroke="#fff" stroke-width="0.6000000000000001"/><line x1="327.21" y1="99.79" x2="322.69" y2="104.31" stroke="#fff" stroke-width="0.6000000000000001"/><line x1="327.21" y1="86.21" x2="322.69" y2="81.69" stroke="#fff" stroke-width="0.6000000000000001"/><line x1="340.79" y1="86.21" x2="345.31" y2="81.69" stroke="#fff" stroke-width="0.6000000000000001"/><line x1="345.10" y1="93.00" x2="350.80" y2="93.00" stroke="#8b0000" stroke-width="1.0"/><line x1="334.00" y1="104.10" x2="334.00" y2="109.80" stroke="#8b0000" stroke-width="1.0"/><line x1="322.90" y1="93.00" x2="317.20" y2="93.00" stroke="#8b0000" stroke-width="1.0"/><line x1="334.00" y1="81.90" x2="334.00" y2="76.20" stroke="#8b0000" stroke-width="1.0"/><circle cx="334.0" cy="93.0" r="9.6" fill="#8b0000" stroke="#fff" stroke-width="0.75"/>
<circle cx="334.0" cy="138.4" r="16.0" fill="#2070ff" stroke="#fff" stroke-width="0.9"/><line x1="340.79" y1="145.19" x2="345.31" y2="149.71" stroke="#fff" stroke-width="0.7200000000000001"/><line x1="327.21" y1="145.19" x2="322.69" y2="149.71" stroke="#fff" stroke-width="0.7200000000000001"/><line x1="327.21" y1="131.61" x2="322.69" y2="127.09" stroke="#fff" stroke-width="0.7200000000000001"/><line x1="340.79" y1="131.61" x2="345.31" y2="127.09" stroke="#fff" stroke-width="0.7200000000000001"/><line x1="345.10" y1="138.40" x2="350.80" y2="138.40" stroke="#0000ac" stroke-width="1.0"/><line x1="334.00" y1="149.50" x2="334.00" y2="155.20" stroke="#0000ac" stroke-width="1.0"/><line x1="322.90" y1="138.40" x2="317.20" y2="138.40" stroke="#0000ac" stroke-width="1.0"/><line x1="334.00" y1="127.30" x2="334.00" y2="121.60" stroke="#0000ac" stroke-width="1.0"/><circle cx="334.0" cy="138.4" r="9.6" fill="#189cff" stroke="#fff" stroke-width="0.9"/>
<line x1="351.8" y1="93.0" x2="296.7" y2="93.0" stroke="#fff" stroke-width="1.35"/><path d="M291.8,93.0 L298.8,90.8 L296.8,93.0 L298.8,95.2 z" fill="#fff"/><path d="M330.8,93.0 L337.8,90.8 L335.8,93.0 L337.8,95.2 z" fill="#fff"/><path d="M311.0,93.0 L318.0,90.8 L316.0,93.0 L318.0,95.2 z" fill="#fff"/>
<line x1="327.6" y1="109.1" x2="304.4" y2="99.5" stroke="#fff" stroke-width="1.35"/><path d="M299.9,97.6 L307.2,98.2 L304.5,99.5 L305.5,102.3 z" fill="#fff"/><path d="M313.7,103.3 L321.1,104.0 L318.4,105.3 L319.4,108.0 z" fill="#fff"/>
<line x1="324.2" y1="128.4" x2="297.2" y2="101.4" stroke="#fff" stroke-width="1.35"/><path d="M293.7,97.9 L300.3,101.3 L297.3,101.5 L297.1,104.5 z" fill="#fff"/><path d="M315.6,119.8 L322.1,123.2 L319.2,123.4 L319.0,126.3 z" fill="#fff"/><path d="M305.3,109.5 L311.8,112.9 L308.9,113.1 L308.7,116.0 z" fill="#fff"/>
<line x1="304.9" y1="131.8" x2="295.3" y2="108.6" stroke="#fff" stroke-width="1.35"/><path d="M293.4,104.1 L298.1,109.7 L295.3,108.7 L294.0,111.4 z" fill="#fff"/><path d="M299.1,117.9 L303.8,123.6 L301.1,122.6 L299.8,125.3 z" fill="#fff"/>
<line x1="288.8" y1="156.0" x2="288.8" y2="100.9" stroke="#fff" stroke-width="1.35"/><path d="M288.8,96.0 L291.0,103.0 L288.8,101.0 L286.6,103.0 z" fill="#fff"/><path d="M288.8,135.0 L291.0,142.0 L288.8,140.0 L286.6,142.0 z" fill="#fff"/><path d="M288.8,115.2 L291.0,122.2 L288.8,120.2 L286.6,122.2 z" fill="#fff"/>
<line x1="272.7" y1="131.8" x2="282.3" y2="108.6" stroke="#fff" stroke-width="1.35"/><path d="M284.2,104.1 L283.6,111.4 L282.3,108.7 L279.5,109.7 z" fill="#fff"/><path d="M278.5,117.9 L277.8,125.3 L276.5,122.6 L273.8,123.6 z" fill="#fff"/>
<line x1="253.4" y1="128.4" x2="280.4" y2="101.4" stroke="#fff" stroke-width="1.35"/><path d="M283.9,97.9 L280.5,104.5 L280.3,101.5 L277.3,101.3 z" fill="#fff"/><path d="M262.0,119.8 L258.6,126.3 L258.4,123.4 L255.5,123.2 z" fill="#fff"/><path d="M272.3,109.5 L268.9,116.0 L268.7,113.1 L265.8,112.9 z" fill="#fff"/>
<line x1="250.0" y1="109.1" x2="273.2" y2="99.5" stroke="#fff" stroke-width="1.35"/><path d="M277.7,97.6 L272.1,102.3 L273.1,99.5 L270.4,98.2 z" fill="#fff"/><path d="M263.9,103.3 L258.2,108.0 L259.2,105.3 L256.5,104.0 z" fill="#fff"/>
<line x1="225.8" y1="93.0" x2="280.9" y2="93.0" stroke="#fff" stroke-width="1.35"/><path d="M285.8,93.0 L278.8,95.2 L280.8,93.0 L278.8,90.8 z" fill="#fff"/><path d="M246.8,93.0 L239.8,95.2 L241.8,93.0 L239.8,90.8 z" fill="#fff"/><path d="M266.6,93.0 L259.6,95.2 L261.6,93.0 L259.6,90.8 z" fill="#fff"/>
<line x1="250.0" y1="76.9" x2="273.2" y2="86.5" stroke="#fff" stroke-width="1.35"/><path d="M277.7,88.4 L270.4,87.8 L273.1,86.5 L272.1,83.7 z" fill="#fff"/><path d="M263.9,82.7 L256.5,82.0 L259.2,80.7 L258.2,78.0 z" fill="#fff"/>
<line x1="253.4" y1="57.6" x2="280.4" y2="84.6" stroke="#fff" stroke-width="1.35"/><path d="M283.9,88.1 L277.3,84.7 L280.3,84.5 L280.5,81.5 z" fill="#fff"/><path d="M262.0,66.2 L255.5,62.8 L258.4,62.6 L258.6,59.7 z" fill="#fff"/><path d="M272.3,76.5 L265.8,73.1 L268.7,72.9 L268.9,70.0 z" fill="#fff"/>
<line x1="272.7" y1="54.2" x2="282.3" y2="77.4" stroke="#fff" stroke-width="1.35"/><path d="M284.2,81.9 L279.5,76.3 L282.3,77.3 L283.6,74.6 z" fill="#fff"/><path d="M278.5,68.1 L273.8,62.4 L276.5,63.4 L277.8,60.7 z" fill="#fff"/>
<line x1="288.8" y1="30.0" x2="288.8" y2="85.1" stroke="#fff" stroke-width="1.35"/><path d="M288.8,90.0 L286.6,83.0 L288.8,85.0 L291.0,83.0 z" fill="#fff"/><path d="M288.8,51.0 L286.6,44.0 L288.8,46.0 L291.0,44.0 z" fill="#fff"/><path d="M288.8,70.8 L286.6,63.8 L288.8,65.8 L291.0,63.8 z" fill="#fff"/>
<line x1="304.9" y1="54.2" x2="295.3" y2="77.4" stroke="#fff" stroke-width="1.35"/><path d="M293.4,81.9 L294.0,74.6 L295.3,77.3 L298.1,76.3 z" fill="#fff"/><path d="M299.1,68.1 L299.8,60.7 L301.1,63.4 L303.8,62.4 z" fill="#fff"/>
<line x1="324.2" y1="57.6" x2="297.2" y2="84.6" stroke="#fff" stroke-width="1.35"/><path d="M293.7,88.1 L297.1,81.5 L297.3,84.5 L300.3,84.7 z" fill="#fff"/><path d="M315.6,66.2 L319.0,59.7 L319.2,62.6 L322.1,62.8 z" fill="#fff"/><path d="M305.3,76.5 L308.7,70.0 L308.9,72.9 L311.8,73.1 z" fill="#fff"/>
<line x1="327.6" y1="76.9" x2="304.4" y2="86.5" stroke="#fff" stroke-width="1.35"/><path d="M299.9,88.4 L305.5,83.7 L304.5,86.5 L307.2,87.8 z" fill="#fff"/><path d="M313.7,82.7 L319.4,78.0 L318.4,80.7 L321.1,82.0 z" fill="#fff"/>
<line x1="227.0" y1="67.9" x2="255.1" y2="67.9" stroke="#fff" stroke-width="1.35"/><path d="M260.0,67.9 L253.0,70.1 L255.0,67.9 L253.0,65.7 z" fill="#fff"/><path d="M242.8,67.9 L235.8,70.1 L237.8,67.9 L235.8,65.7 z" fill="#fff"/>
<line x1="351.0" y1="67.9" x2="322.9" y2="67.9" stroke="#fff" stroke-width="1.35"/><path d="M318.0,67.9 L325.0,65.7 L323.0,67.9 L325.0,70.1 z" fill="#fff"/><path d="M335.2,67.9 L342.2,65.7 L340.2,67.9 L342.2,70.1 z" fill="#fff"/>
<line x1="227.0" y1="118.1" x2="255.1" y2="118.1" stroke="#fff" stroke-width="1.35"/><path d="M260.0,118.1 L253.0,120.3 L255.0,118.1 L253.0,115.9 z" fill="#fff"/><path d="M242.8,118.1 L235.8,120.3 L237.8,118.1 L235.8,115.9 z" fill="#fff"/>
<line x1="351.0" y1="118.1" x2="322.9" y2="118.1" stroke="#fff" stroke-width="1.35"/><path d="M318.0,118.1 L325.0,115.9 L323.0,118.1 L325.0,120.3 z" fill="#fff"/><path d="M335.2,118.1 L342.2,115.9 L340.2,118.1 L342.2,120.3 z" fill="#fff"/>
<line x1="263.4" y1="29.0" x2="263.4" y2="58.1" stroke="#fff" stroke-width="1.35"/><path d="M263.4,63.0 L261.2,56.0 L263.4,58.0 L265.6,56.0 z" fill="#fff"/><path d="M263.4,46.0 L261.2,39.0 L263.4,41.0 L265.6,39.0 z" fill="#fff"/>
<line x1="263.4" y1="157.0" x2="263.4" y2="127.9" stroke="#fff" stroke-width="1.35"/><path d="M263.4,123.0 L265.6,130.0 L263.4,128.0 L261.2,130.0 z" fill="#fff"/><path d="M263.4,140.0 L265.6,147.0 L263.4,145.0 L261.2,147.0 z" fill="#fff"/>
<line x1="314.2" y1="29.0" x2="314.2" y2="58.1" stroke="#fff" stroke-width="1.35"/><path d="M314.2,63.0 L312.0,56.0 L314.2,58.0 L316.4,56.0 z" fill="#fff"/><path d="M314.2,46.0 L312.0,39.0 L314.2,41.0 L316.4,39.0 z" fill="#fff"/>
<line x1="314.2" y1="157.0" x2="314.2" y2="127.9" stroke="#fff" stroke-width="1.35"/><path d="M314.2,123.0 L316.4,130.0 L314.2,128.0 L312.0,130.0 z" fill="#fff"/><path d="M314.2,140.0 L316.4,147.0 L314.2,145.0 L312.0,147.0 z" fill="#fff"/>
</g>
<rect x="360.5" y="26.4" width="7.8" height="133.1" fill="url(#jet)" stroke="#222" stroke-width="0.6"/>
<text class="t" x="370.6" y="30.3">50</text>
<text class="t" x="371.3" y="162.8">0</text>
<text class="l" transform="translate(381.8,112.2) rotate(-90)">|<tspan font-style="italic">p</tspan>|<tspan font-size="8.5" dy="-4.5">2</tspan><tspan dy="4.5"> (Pa</tspan><tspan font-size="8.5" dy="-4.5">2</tspan><tspan dy="4.5">)</tspan></text>
<text class="sn" font-size="11.3" x="2.3" y="10.3">(a)</text>
<text class="t" x="19.9" y="10.2">50</text>
<text class="t" x="24.6" y="100.2">0</text>
<text class="t" x="15" y="185.3">-50</text>
<text class="l" transform="translate(17.4,114.6) rotate(-90)"><tspan font-style="italic">y</tspan> (cm)</text>
<g clip-path="url(#cB)">
<rect x="35.6" y="191.6" width="178.2" height="174" fill="#0000b0"/>
<g filter="url(#b12)">
<ellipse cx="130" cy="278" rx="74" ry="70" fill="#0004dc"/>
<ellipse cx="175" cy="278" rx="40" ry="60" fill="#0004dc"/>
</g>
<g filter="url(#b8)">
<ellipse cx="92" cy="222" rx="22" ry="18" fill="#0430ff" opacity="0.32"/>
<ellipse cx="156" cy="222" rx="22" ry="18" fill="#0430ff" opacity="0.32"/>
<ellipse cx="92" cy="337" rx="22" ry="18" fill="#0430ff" opacity="0.32"/>
<ellipse cx="156" cy="337" rx="22" ry="18" fill="#0430ff" opacity="0.32"/>
<ellipse cx="176" cy="280" rx="11" ry="32" fill="#0838ff" opacity="0.55"/>
<ellipse cx="70" cy="281" rx="17" ry="44" fill="#1074ff"/>
<rect x="92" y="248" width="64" height="62" fill="#0a38ff"/>
</g>
<g filter="url(#b5)"><ellipse cx="71.5" cy="281.5" rx="11.5" ry="31" fill="#32acff"/><ellipse cx="124" cy="190" rx="13" ry="9" fill="#0000a8" opacity="0.7"/><ellipse cx="124" cy="367" rx="13" ry="9" fill="#0000a8" opacity="0.7"/></g>
<g filter="url(#b4)"><ellipse cx="71.5" cy="281.5" rx="5.5" ry="17" fill="#40b8ff" opacity="0.8"/></g>
<g filter="url(#b2)">
<ellipse cx="106.5" cy="267.5" rx="8" ry="3.3" fill="#10d0ff" transform="rotate(12 106.5 267.5)"/>
<ellipse cx="106.5" cy="289.5" rx="8" ry="3.3" fill="#10d0ff" transform="rotate(-12 106.5 289.5)"/>
<ellipse cx="136.8" cy="256" rx="3.3" ry="8" fill="#10d0ff" transform="rotate(-12 136.8 256)"/>
<ellipse cx="136.8" cy="301.5" rx="3.3" ry="8" fill="#10d0ff" transform="rotate(12 136.8 301.5)"/>
</g>
<g filter="url(#b1)"><polygon points="158.6,278.6 158.0,281.5 157.0,284.3 155.9,287.0 154.7,289.5 153.4,292.0 151.9,294.4 150.5,296.7 148.9,299.0 147.2,301.2 145.4,303.4 143.5,305.7 141.5,307.9 139.3,310.1 136.9,312.3 134.2,314.5 131.3,316.5 128.1,318.4 124.6,319.6 121.1,318.4 117.9,316.5 115.0,314.5 112.3,312.3 109.9,310.1 107.7,307.9 105.7,305.7 103.8,303.4 102.0,301.2 100.3,299.0 98.7,296.7 97.3,294.4 95.8,292.0 94.5,289.5 93.3,287.0 92.2,284.3 91.2,281.5 90.6,278.6 91.2,275.7 92.2,272.9 93.3,270.2 94.5,267.7 95.8,265.2 97.3,262.8 98.7,260.5 100.3,258.2 102.0,256.0 103.8,253.8 105.7,251.5 107.7,249.3 109.9,247.1 112.3,244.9 115.0,242.7 117.9,240.7 121.1,238.8 124.6,237.6 128.1,238.8 131.3,240.7 134.2,242.7 136.9,244.9 139.3,247.1 141.5,249.3 143.5,251.5 145.4,253.8 147.2,256.0 148.9,258.2 150.5,260.5 151.9,262.8 153.4,265.2 154.7,267.7 155.9,270.2 157.0,272.9 158.0,275.7" fill="#0024ff" opacity="0.5"/><polygon points="157.0,278.6 156.5,281.4 155.6,284.1 154.5,286.6 153.3,289.0 152.0,291.4 150.7,293.7 149.3,295.9 147.8,298.0 146.2,300.2 144.5,302.3 142.7,304.4 140.8,306.5 138.6,308.7 136.3,310.8 133.8,312.9 131.0,314.8 128.0,316.6 124.6,317.8 121.3,316.6 118.2,314.8 115.4,312.9 112.9,310.8 110.6,308.7 108.5,306.5 106.5,304.4 104.7,302.3 103.0,300.2 101.5,298.0 100.0,295.9 98.5,293.7 97.2,291.4 95.9,289.0 94.8,286.6 93.7,284.1 92.8,281.4 92.2,278.6 92.8,275.8 93.7,273.1 94.8,270.6 95.9,268.2 97.2,265.8 98.5,263.5 100.0,261.3 101.5,259.2 103.0,257.0 104.7,254.9 106.5,252.8 108.5,250.7 110.6,248.5 112.9,246.4 115.4,244.3 118.2,242.4 121.3,240.6 124.6,239.4 128.0,240.6 131.0,242.4 133.8,244.3 136.3,246.4 138.6,248.5 140.8,250.7 142.7,252.8 144.5,254.9 146.2,257.0 147.8,259.2 149.3,261.3 150.7,263.5 152.0,265.8 153.3,268.2 154.5,270.6 155.6,273.1 156.5,275.8" fill="#0036ff"/><polygon points="155.5,278.6 154.9,281.2 154.1,283.8 153.0,286.2 151.9,288.5 150.7,290.8 149.5,292.9 148.1,295.0 146.7,297.1 145.2,299.1 143.6,301.2 141.9,303.2 140.0,305.2 138.0,307.2 135.8,309.3 133.4,311.3 130.7,313.2 127.8,314.8 124.7,316.0 121.5,314.8 118.6,313.2 115.9,311.3 113.5,309.3 111.3,307.2 109.3,305.2 107.4,303.2 105.7,301.2 104.1,299.1 102.6,297.1 101.2,295.0 99.8,292.9 98.6,290.8 97.4,288.5 96.3,286.2 95.2,283.8 94.4,281.2 93.8,278.6 94.4,276.0 95.2,273.4 96.3,271.0 97.4,268.7 98.6,266.4 99.8,264.3 101.2,262.2 102.6,260.1 104.1,258.1 105.7,256.0 107.4,254.0 109.3,252.0 111.3,250.0 113.5,247.9 115.9,245.9 118.6,244.0 121.5,242.4 124.7,241.2 127.8,242.4 130.7,244.0 133.4,245.9 135.8,247.9 138.0,250.0 140.0,252.0 141.9,254.0 143.6,256.0 145.2,258.1 146.7,260.1 148.1,262.2 149.5,264.3 150.7,266.4 151.9,268.7 153.0,271.0 154.1,273.4 154.9,276.0" fill="#0049ff"/><polygon points="154.3,278.6 153.8,281.1 153.0,283.6 152.0,285.9 150.9,288.1 149.8,290.3 148.5,292.4 147.3,294.4 145.9,296.4 144.4,298.4 142.9,300.3 141.2,302.3 139.5,304.2 137.5,306.2 135.4,308.1 133.1,310.0 130.5,311.9 127.7,313.5 124.7,314.6 121.6,313.5 118.8,311.9 116.3,310.0 113.9,308.1 111.8,306.2 109.9,304.2 108.1,302.3 106.5,300.3 104.9,298.4 103.5,296.4 102.1,294.4 100.8,292.4 99.6,290.3 98.4,288.1 97.4,285.9 96.4,283.6 95.6,281.1 95.1,278.6 95.6,276.1 96.4,273.6 97.4,271.3 98.4,269.1 99.6,266.9 100.8,264.8 102.1,262.8 103.5,260.8 104.9,258.8 106.5,256.9 108.1,254.9 109.9,253.0 111.8,251.0 113.9,249.1 116.3,247.2 118.8,245.3 121.6,243.7 124.7,242.6 127.7,243.7 130.5,245.3 133.1,247.2 135.4,249.1 137.5,251.0 139.5,253.0 141.2,254.9 142.9,256.9 144.4,258.8 145.9,260.8 147.3,262.8 148.5,264.8 149.8,266.9 150.9,269.1 152.0,271.3 153.0,273.6 153.8,276.1" fill="#005cff"/><polygon points="153.2,278.6 152.7,281.1 151.9,283.4 151.0,285.6 150.0,287.8 148.9,289.9 147.7,291.9 146.5,293.8 145.1,295.7 143.7,297.6 142.3,299.5 140.7,301.4 139.0,303.3 137.1,305.2 135.1,307.1 132.8,308.9 130.4,310.7 127.6,312.3 124.7,313.3 121.8,312.3 119.0,310.7 116.6,308.9 114.3,307.1 112.3,305.2 110.4,303.3 108.7,301.4 107.1,299.5 105.7,297.6 104.3,295.7 103.0,293.8 101.7,291.9 100.5,289.9 99.4,287.8 98.4,285.6 97.5,283.4 96.7,281.1 96.2,278.6 96.7,276.1 97.5,273.8 98.4,271.6 99.4,269.4 100.5,267.3 101.7,265.3 103.0,263.4 104.3,261.5 105.7,259.6 107.1,257.7 108.7,255.8 110.4,253.9 112.3,252.0 114.3,250.1 116.6,248.3 119.0,246.5 121.8,244.9 124.7,243.9 127.6,244.9 130.4,246.5 132.8,248.3 135.1,250.1 137.1,252.0 139.0,253.9 140.7,255.8 142.3,257.7 143.7,259.6 145.1,261.5 146.5,263.4 147.7,265.3 148.9,267.3 150.0,269.4 151.0,271.6 151.9,273.8 152.7,276.1" fill="#006eff"/><polygon points="152.2,278.6 151.7,281.0 150.9,283.2 150.1,285.4 149.1,287.5 148.0,289.5 146.9,291.4 145.7,293.3 144.4,295.1 143.1,296.9 141.6,298.8 140.1,300.6 138.5,302.4 136.7,304.2 134.7,306.0 132.6,307.8 130.2,309.5 127.6,311.1 124.7,312.1 121.9,311.1 119.3,309.5 116.9,307.8 114.7,306.0 112.8,304.2 111.0,302.4 109.3,300.6 107.8,298.8 106.4,296.9 105.0,295.1 103.8,293.3 102.6,291.4 101.5,289.5 100.4,287.5 99.4,285.4 98.5,283.2 97.8,281.0 97.3,278.6 97.8,276.2 98.5,274.0 99.4,271.8 100.4,269.7 101.5,267.7 102.6,265.8 103.8,263.9 105.0,262.1 106.4,260.3 107.8,258.4 109.3,256.6 111.0,254.8 112.8,253.0 114.7,251.2 116.9,249.4 119.3,247.7 121.9,246.1 124.7,245.1 127.6,246.1 130.2,247.7 132.6,249.4 134.7,251.2 136.7,253.0 138.5,254.8 140.1,256.6 141.6,258.4 143.1,260.3 144.4,262.1 145.7,263.9 146.9,265.8 148.0,267.7 149.1,269.7 150.1,271.8 150.9,274.0 151.7,276.2" fill="#0081ff"/><polygon points="151.6,278.6 151.1,280.9 150.4,283.1 149.5,285.2 148.5,287.3 147.5,289.2 146.4,291.1 145.2,292.9 144.0,294.8 142.7,296.5 141.3,298.3 139.8,300.1 138.2,301.9 136.4,303.7 134.5,305.5 132.4,307.2 130.1,308.9 127.5,310.4 124.8,311.4 122.0,310.4 119.4,308.9 117.1,307.2 115.0,305.5 113.1,303.7 111.3,301.9 109.7,300.1 108.2,298.3 106.8,296.5 105.5,294.8 104.3,292.9 103.1,291.1 102.0,289.2 101.0,287.3 100.0,285.2 99.2,283.1 98.4,280.9 98.0,278.6 98.4,276.3 99.2,274.1 100.0,272.0 101.0,269.9 102.0,268.0 103.1,266.1 104.3,264.3 105.5,262.4 106.8,260.7 108.2,258.9 109.7,257.1 111.3,255.3 113.1,253.5 115.0,251.7 117.1,250.0 119.4,248.3 122.0,246.8 124.8,245.8 127.5,246.8 130.1,248.3 132.4,250.0 134.5,251.7 136.4,253.5 138.2,255.3 139.8,257.1 141.3,258.9 142.7,260.7 144.0,262.4 145.2,264.3 146.4,266.1 147.5,268.0 148.5,269.9 149.5,272.0 150.4,274.1 151.1,276.3" fill="#0093ff"/><polygon points="150.9,278.6 150.5,280.8 149.8,283.0 148.9,285.1 148.0,287.0 147.0,289.0 145.9,290.8 144.8,292.6 143.6,294.4 142.3,296.1 141.0,297.9 139.5,299.6 137.9,301.4 136.2,303.1 134.4,304.9 132.3,306.6 130.0,308.3 127.5,309.8 124.8,310.7 122.1,309.8 119.5,308.3 117.3,306.6 115.2,304.9 113.3,303.1 111.6,301.4 110.1,299.6 108.6,297.9 107.2,296.1 106.0,294.4 104.8,292.6 103.6,290.8 102.6,289.0 101.6,287.0 100.6,285.1 99.8,283.0 99.1,280.8 98.6,278.6 99.1,276.4 99.8,274.2 100.6,272.1 101.6,270.2 102.6,268.2 103.6,266.4 104.8,264.6 106.0,262.8 107.2,261.1 108.6,259.3 110.1,257.6 111.6,255.8 113.3,254.1 115.2,252.3 117.3,250.6 119.5,248.9 122.1,247.4 124.8,246.5 127.5,247.4 130.0,248.9 132.3,250.6 134.4,252.3 136.2,254.1 137.9,255.8 139.5,257.6 141.0,259.3 142.3,261.1 143.6,262.8 144.8,264.6 145.9,266.4 147.0,268.2 148.0,270.2 148.9,272.1 149.8,274.2 150.5,276.4" fill="#00a6ff"/><polygon points="150.3,278.6 149.9,280.8 149.2,282.9 148.3,284.9 147.4,286.8 146.5,288.7 145.4,290.5 144.3,292.3 143.2,294.0 141.9,295.7 140.6,297.4 139.2,299.2 137.7,300.9 136.0,302.6 134.2,304.3 132.2,306.0 129.9,307.7 127.5,309.1 124.8,310.1 122.1,309.1 119.7,307.7 117.5,306.0 115.4,304.3 113.6,302.6 111.9,300.9 110.4,299.2 109.0,297.4 107.7,295.7 106.4,294.0 105.3,292.3 104.2,290.5 103.1,288.7 102.2,286.8 101.3,284.9 100.4,282.9 99.8,280.8 99.3,278.6 99.8,276.4 100.4,274.3 101.3,272.3 102.2,270.4 103.1,268.5 104.2,266.7 105.3,264.9 106.4,263.2 107.7,261.5 109.0,259.8 110.4,258.0 111.9,256.3 113.6,254.6 115.4,252.9 117.5,251.2 119.7,249.5 122.1,248.1 124.8,247.1 127.5,248.1 129.9,249.5 132.2,251.2 134.2,252.9 136.0,254.6 137.7,256.3 139.2,258.0 140.6,259.8 141.9,261.5 143.2,263.2 144.3,264.9 145.4,266.7 146.5,268.5 147.4,270.4 148.3,272.3 149.2,274.3 149.9,276.4" fill="#00b9ff"/><polygon points="149.7,278.6 149.2,280.7 148.6,282.8 147.8,284.7 146.9,286.6 146.0,288.5 145.0,290.2 143.9,291.9 142.8,293.6 141.6,295.3 140.3,297.0 138.9,298.7 137.4,300.4 135.8,302.1 134.0,303.8 132.0,305.4 129.8,307.0 127.4,308.5 124.8,309.4 122.2,308.5 119.8,307.0 117.6,305.4 115.7,303.8 113.9,302.1 112.3,300.4 110.8,298.7 109.4,297.0 108.1,295.3 106.9,293.6 105.8,291.9 104.7,290.2 103.7,288.5 102.8,286.6 101.9,284.7 101.1,282.8 100.4,280.7 100.0,278.6 100.4,276.5 101.1,274.4 101.9,272.5 102.8,270.6 103.7,268.7 104.7,267.0 105.8,265.3 106.9,263.6 108.1,261.9 109.4,260.2 110.8,258.5 112.3,256.8 113.9,255.1 115.7,253.4 117.6,251.8 119.8,250.2 122.2,248.7 124.8,247.8 127.4,248.7 129.8,250.2 132.0,251.8 134.0,253.4 135.8,255.1 137.4,256.8 138.9,258.5 140.3,260.2 141.6,261.9 142.8,263.6 143.9,265.3 145.0,267.0 146.0,268.7 146.9,270.6 147.8,272.5 148.6,274.4 149.2,276.5" fill="#00cbff"/><polygon points="149.0,278.6 148.6,280.7 148.0,282.7 147.2,284.6 146.4,286.4 145.4,288.2 144.5,289.9 143.4,291.6 142.3,293.3 141.2,294.9 139.9,296.6 138.6,298.2 137.1,299.9 135.5,301.5 133.8,303.2 131.9,304.8 129.8,306.4 127.4,307.8 124.9,308.8 122.3,307.8 119.9,306.4 117.8,304.8 115.9,303.2 114.2,301.5 112.6,299.9 111.1,298.2 109.8,296.6 108.5,294.9 107.4,293.3 106.3,291.6 105.2,289.9 104.3,288.2 103.4,286.4 102.5,284.6 101.7,282.7 101.1,280.7 100.7,278.6 101.1,276.5 101.7,274.5 102.5,272.6 103.4,270.8 104.3,269.0 105.2,267.3 106.3,265.6 107.4,263.9 108.5,262.3 109.8,260.6 111.1,259.0 112.6,257.3 114.2,255.7 115.9,254.0 117.8,252.4 119.9,250.8 122.3,249.4 124.9,248.4 127.4,249.4 129.8,250.8 131.9,252.4 133.8,254.0 135.5,255.7 137.1,257.3 138.6,259.0 139.9,260.6 141.2,262.3 142.3,263.9 143.4,265.6 144.5,267.3 145.4,269.0 146.4,270.8 147.2,272.6 148.0,274.5 148.6,276.5" fill="#00deff"/><polygon points="148.4,278.6 148.0,280.6 147.4,282.6 146.6,284.4 145.8,286.2 144.9,288.0 144.0,289.6 143.0,291.3 141.9,292.9 140.8,294.5 139.6,296.1 138.3,297.7 136.9,299.4 135.3,301.0 133.6,302.6 131.8,304.2 129.7,305.8 127.4,307.2 124.9,308.1 122.4,307.2 120.1,305.8 118.0,304.2 116.1,302.6 114.4,301.0 112.9,299.4 111.5,297.7 110.2,296.1 109.0,294.5 107.8,292.9 106.8,291.3 105.8,289.6 104.8,288.0 103.9,286.2 103.1,284.4 102.4,282.6 101.8,280.6 101.4,278.6 101.8,276.6 102.4,274.6 103.1,272.8 103.9,271.0 104.8,269.2 105.8,267.6 106.8,265.9 107.8,264.3 109.0,262.7 110.2,261.1 111.5,259.5 112.9,257.8 114.4,256.2 116.1,254.6 118.0,253.0 120.1,251.4 122.4,250.0 124.9,249.1 127.4,250.0 129.7,251.4 131.8,253.0 133.6,254.6 135.3,256.2 136.9,257.8 138.3,259.5 139.6,261.1 140.8,262.7 141.9,264.3 143.0,265.9 144.0,267.6 144.9,269.2 145.8,271.0 146.6,272.8 147.4,274.6 148.0,276.6" fill="#00f0ff"/><polygon points="147.8,278.6 147.4,280.6 146.8,282.5 146.1,284.3 145.3,286.0 144.5,287.7 143.5,289.4 142.6,291.0 141.5,292.5 140.4,294.1 139.3,295.7 138.0,297.3 136.6,298.9 135.1,300.5 133.5,302.1 131.6,303.7 129.6,305.2 127.4,306.6 124.9,307.5 122.5,306.6 120.2,305.2 118.2,303.7 116.4,302.1 114.7,300.5 113.2,298.9 111.8,297.3 110.6,295.7 109.4,294.1 108.3,292.5 107.3,291.0 106.3,289.4 105.4,287.7 104.5,286.0 103.7,284.3 103.0,282.5 102.4,280.6 102.0,278.6 102.4,276.6 103.0,274.7 103.7,272.9 104.5,271.2 105.4,269.5 106.3,267.8 107.3,266.2 108.3,264.7 109.4,263.1 110.6,261.5 111.8,259.9 113.2,258.3 114.7,256.7 116.4,255.1 118.2,253.5 120.2,252.0 122.5,250.6 124.9,249.7 127.4,250.6 129.6,252.0 131.6,253.5 133.5,255.1 135.1,256.7 136.6,258.3 138.0,259.9 139.3,261.5 140.4,263.1 141.5,264.7 142.6,266.2 143.5,267.8 144.5,269.5 145.3,271.2 146.1,272.9 146.8,274.7 147.4,276.6" fill="#04fffb"/><polygon points="147.4,278.6 147.0,280.5 146.4,282.4 145.7,284.2 145.0,285.9 144.1,287.5 143.2,289.1 142.3,290.7 141.3,292.2 140.2,293.8 139.0,295.3 137.8,296.9 136.5,298.4 135.0,300.0 133.4,301.6 131.6,303.2 129.6,304.7 127.4,306.0 125.0,306.9 122.6,306.0 120.4,304.7 118.4,303.2 116.6,301.6 115.0,300.0 113.6,298.4 112.2,296.9 111.0,295.3 109.8,293.8 108.7,292.2 107.7,290.7 106.8,289.1 105.9,287.5 105.1,285.9 104.3,284.2 103.6,282.4 103.0,280.5 102.6,278.6 103.0,276.7 103.6,274.8 104.3,273.0 105.1,271.3 105.9,269.7 106.8,268.1 107.7,266.5 108.7,265.0 109.8,263.4 111.0,261.9 112.2,260.3 113.6,258.8 115.0,257.2 116.6,255.6 118.4,254.0 120.4,252.5 122.6,251.2 125.0,250.3 127.4,251.2 129.6,252.5 131.6,254.0 133.4,255.6 135.0,257.2 136.5,258.8 137.8,260.3 139.0,261.9 140.2,263.4 141.3,265.0 142.3,266.5 143.2,268.1 144.1,269.7 145.0,271.3 145.7,273.0 146.4,274.8 147.0,276.7" fill="#17ffe8"/><polygon points="147.0,278.6 146.6,280.5 146.0,282.3 145.3,284.0 144.6,285.7 143.8,287.3 142.9,288.9 142.0,290.4 141.0,291.9 140.0,293.5 138.8,295.0 137.6,296.5 136.3,298.0 134.9,299.6 133.3,301.1 131.5,302.6 129.6,304.1 127.4,305.4 125.1,306.3 122.7,305.4 120.6,304.1 118.7,302.6 116.9,301.1 115.3,299.6 113.9,298.0 112.6,296.5 111.4,295.0 110.2,293.5 109.2,291.9 108.2,290.4 107.3,288.9 106.4,287.3 105.6,285.7 104.8,284.0 104.2,282.3 103.6,280.5 103.2,278.6 103.6,276.7 104.2,274.9 104.8,273.2 105.6,271.5 106.4,269.9 107.3,268.3 108.2,266.8 109.2,265.3 110.2,263.7 111.4,262.2 112.6,260.7 113.9,259.2 115.3,257.6 116.9,256.1 118.7,254.6 120.6,253.1 122.7,251.8 125.1,250.9 127.4,251.8 129.6,253.1 131.5,254.6 133.3,256.1 134.9,257.6 136.3,259.2 137.6,260.7 138.8,262.2 140.0,263.7 141.0,265.3 142.0,266.8 142.9,268.3 143.8,269.9 144.6,271.5 145.3,273.2 146.0,274.9 146.6,276.7" fill="#29ffd6"/><polygon points="146.5,278.6 146.2,280.4 145.6,282.2 145.0,283.9 144.2,285.5 143.4,287.1 142.6,288.7 141.7,290.2 140.7,291.6 139.7,293.1 138.6,294.6 137.4,296.1 136.1,297.6 134.7,299.1 133.2,300.6 131.5,302.1 129.6,303.6 127.5,304.9 125.2,305.7 122.9,304.9 120.8,303.6 118.9,302.1 117.2,300.6 115.6,299.1 114.2,297.6 112.9,296.1 111.8,294.6 110.7,293.1 109.6,291.6 108.7,290.2 107.8,288.7 106.9,287.1 106.1,285.5 105.4,283.9 104.7,282.2 104.2,280.4 103.8,278.6 104.2,276.8 104.7,275.0 105.4,273.3 106.1,271.7 106.9,270.1 107.8,268.5 108.7,267.0 109.6,265.6 110.7,264.1 111.8,262.6 112.9,261.1 114.2,259.6 115.6,258.1 117.2,256.6 118.9,255.1 120.8,253.6 122.9,252.3 125.2,251.5 127.5,252.3 129.6,253.6 131.5,255.1 133.2,256.6 134.7,258.1 136.1,259.6 137.4,261.1 138.6,262.6 139.7,264.1 140.7,265.6 141.7,267.0 142.6,268.5 143.4,270.1 144.2,271.7 145.0,273.3 145.6,275.0 146.2,276.8" fill="#3cffc3"/><polygon points="146.1,278.6 145.8,280.4 145.2,282.1 144.6,283.8 143.9,285.4 143.1,286.9 142.3,288.4 141.4,289.9 140.5,291.3 139.5,292.8 138.4,294.2 137.2,295.7 136.0,297.2 134.6,298.6 133.1,300.1 131.4,301.6 129.6,303.0 127.5,304.3 125.3,305.1 123.0,304.3 121.0,303.0 119.1,301.6 117.4,300.1 115.9,298.6 114.6,297.2 113.3,295.7 112.1,294.2 111.1,292.8 110.1,291.3 109.1,289.9 108.3,288.4 107.4,286.9 106.7,285.4 106.0,283.8 105.3,282.1 104.8,280.4 104.4,278.6 104.8,276.8 105.3,275.1 106.0,273.4 106.7,271.8 107.4,270.3 108.3,268.8 109.1,267.3 110.1,265.9 111.1,264.4 112.1,263.0 113.3,261.5 114.6,260.0 115.9,258.6 117.4,257.1 119.1,255.6 121.0,254.2 123.0,252.9 125.3,252.1 127.5,252.9 129.6,254.2 131.4,255.6 133.1,257.1 134.6,258.6 136.0,260.0 137.2,261.5 138.4,263.0 139.5,264.4 140.5,265.9 141.4,267.3 142.3,268.8 143.1,270.3 143.9,271.8 144.6,273.4 145.2,275.1 145.8,276.8" fill="#4effb1"/><polygon points="145.7,278.6 145.4,280.4 144.8,282.0 144.2,283.7 143.5,285.2 142.8,286.7 142.0,288.2 141.1,289.6 140.2,291.0 139.2,292.5 138.2,293.9 137.0,295.3 135.8,296.7 134.5,298.2 133.0,299.6 131.4,301.1 129.6,302.5 127.6,303.7 125.4,304.6 123.2,303.7 121.1,302.5 119.3,301.1 117.7,299.6 116.2,298.2 114.9,296.7 113.7,295.3 112.5,293.9 111.5,292.5 110.5,291.0 109.6,289.6 108.8,288.2 108.0,286.7 107.2,285.2 106.5,283.7 105.9,282.0 105.4,280.4 105.0,278.6 105.4,276.8 105.9,275.2 106.5,273.5 107.2,272.0 108.0,270.5 108.8,269.0 109.6,267.6 110.5,266.2 111.5,264.7 112.5,263.3 113.7,261.9 114.9,260.5 116.2,259.0 117.7,257.6 119.3,256.1 121.1,254.7 123.2,253.5 125.4,252.6 127.6,253.5 129.6,254.7 131.4,256.1 133.0,257.6 134.5,259.0 135.8,260.5 137.0,261.9 138.2,263.3 139.2,264.7 140.2,266.2 141.1,267.6 142.0,269.0 142.8,270.5 143.5,272.0 144.2,273.5 144.8,275.2 145.4,276.8" fill="#61ff9e"/><polygon points="145.3,278.6 144.9,280.3 144.4,281.9 143.8,283.5 143.1,285.0 142.4,286.5 141.6,287.9 140.8,289.4 139.9,290.7 139.0,292.1 138.0,293.5 136.9,294.9 135.7,296.3 134.4,297.7 132.9,299.2 131.3,300.6 129.6,301.9 127.6,303.2 125.4,304.0 123.3,303.2 121.3,301.9 119.6,300.6 118.0,299.2 116.5,297.7 115.2,296.3 114.0,294.9 112.9,293.5 111.9,292.1 111.0,290.7 110.1,289.4 109.3,287.9 108.5,286.5 107.7,285.0 107.1,283.5 106.5,281.9 105.9,280.3 105.6,278.6 105.9,276.9 106.5,275.3 107.1,273.7 107.7,272.2 108.5,270.7 109.3,269.3 110.1,267.8 111.0,266.5 111.9,265.1 112.9,263.7 114.0,262.3 115.2,260.9 116.5,259.5 118.0,258.0 119.6,256.6 121.3,255.3 123.3,254.0 125.4,253.2 127.6,254.0 129.6,255.3 131.3,256.6 132.9,258.0 134.4,259.5 135.7,260.9 136.9,262.3 138.0,263.7 139.0,265.1 139.9,266.5 140.8,267.8 141.6,269.3 142.4,270.7 143.1,272.2 143.8,273.7 144.4,275.3 144.9,276.9" fill="#74ff8b"/><polygon points="144.9,278.6 144.6,280.3 144.1,281.9 143.5,283.4 142.8,284.9 142.1,286.3 141.3,287.7 140.5,289.1 139.7,290.4 138.7,291.8 137.8,293.1 136.7,294.5 135.5,295.9 134.3,297.3 132.9,298.7 131.3,300.1 129.6,301.4 127.6,302.6 125.5,303.4 123.4,302.6 121.5,301.4 119.8,300.1 118.2,298.7 116.8,297.3 115.6,295.9 114.4,294.5 113.3,293.1 112.4,291.8 111.4,290.4 110.6,289.1 109.8,287.7 109.0,286.3 108.3,284.9 107.6,283.4 107.0,281.9 106.5,280.3 106.2,278.6 106.5,276.9 107.0,275.3 107.6,273.8 108.3,272.3 109.0,270.9 109.8,269.5 110.6,268.1 111.4,266.8 112.4,265.4 113.3,264.1 114.4,262.7 115.6,261.3 116.8,259.9 118.2,258.5 119.8,257.1 121.5,255.8 123.4,254.6 125.5,253.8 127.6,254.6 129.6,255.8 131.3,257.1 132.9,258.5 134.3,259.9 135.5,261.3 136.7,262.7 137.8,264.1 138.7,265.4 139.7,266.8 140.5,268.1 141.3,269.5 142.1,270.9 142.8,272.3 143.5,273.8 144.1,275.3 144.6,276.9" fill="#86ff79"/><polygon points="144.5,278.6 144.2,280.2 143.7,281.8 143.1,283.3 142.5,284.7 141.8,286.1 141.1,287.5 140.3,288.8 139.4,290.1 138.5,291.5 137.6,292.8 136.5,294.1 135.4,295.5 134.2,296.8 132.8,298.2 131.3,299.5 129.6,300.9 127.7,302.0 125.7,302.8 123.6,302.0 121.8,300.9 120.1,299.5 118.6,298.2 117.2,296.8 115.9,295.5 114.8,294.1 113.8,292.8 112.8,291.5 111.9,290.1 111.1,288.8 110.3,287.5 109.6,286.1 108.9,284.7 108.2,283.3 107.7,281.8 107.2,280.2 106.9,278.6 107.2,277.0 107.7,275.4 108.2,273.9 108.9,272.5 109.6,271.1 110.3,269.7 111.1,268.4 111.9,267.1 112.8,265.7 113.8,264.4 114.8,263.1 115.9,261.7 117.2,260.4 118.6,259.0 120.1,257.7 121.8,256.3 123.6,255.2 125.7,254.4 127.7,255.2 129.6,256.3 131.3,257.7 132.8,259.0 134.2,260.4 135.4,261.7 136.5,263.1 137.6,264.4 138.5,265.7 139.4,267.1 140.3,268.4 141.1,269.7 141.8,271.1 142.5,272.5 143.1,273.9 143.7,275.4 144.2,277.0" fill="#99ff66"/><polygon points="144.1,278.6 143.8,280.2 143.3,281.7 142.8,283.1 142.2,284.6 141.5,285.9 140.8,287.2 140.0,288.6 139.2,289.8 138.3,291.1 137.4,292.4 136.4,293.7 135.3,295.0 134.1,296.4 132.8,297.7 131.3,299.0 129.6,300.3 127.8,301.5 125.8,302.2 123.8,301.5 122.0,300.3 120.3,299.0 118.9,297.7 117.5,296.4 116.3,295.0 115.2,293.7 114.2,292.4 113.3,291.1 112.4,289.8 111.6,288.6 110.8,287.2 110.1,285.9 109.5,284.6 108.8,283.1 108.3,281.7 107.8,280.2 107.5,278.6 107.8,277.0 108.3,275.5 108.8,274.1 109.5,272.6 110.1,271.3 110.8,270.0 111.6,268.6 112.4,267.4 113.3,266.1 114.2,264.8 115.2,263.5 116.3,262.2 117.5,260.8 118.9,259.5 120.3,258.2 122.0,256.9 123.8,255.7 125.8,255.0 127.8,255.7 129.6,256.9 131.3,258.2 132.8,259.5 134.1,260.8 135.3,262.2 136.4,263.5 137.4,264.8 138.3,266.1 139.2,267.4 140.0,268.6 140.8,270.0 141.5,271.3 142.2,272.6 142.8,274.1 143.3,275.5 143.8,277.0" fill="#abff54"/><polygon points="143.7,278.6 143.4,280.1 143.0,281.6 142.4,283.0 141.8,284.4 141.2,285.7 140.5,287.0 139.8,288.3 139.0,289.5 138.1,290.8 137.2,292.1 136.2,293.3 135.2,294.6 134.0,295.9 132.7,297.2 131.3,298.5 129.7,299.8 127.9,300.9 125.9,301.6 124.0,300.9 122.2,299.8 120.6,298.5 119.2,297.2 117.9,295.9 116.7,294.6 115.6,293.3 114.7,292.1 113.7,290.8 112.9,289.5 112.1,288.3 111.4,287.0 110.7,285.7 110.0,284.4 109.4,283.0 108.9,281.6 108.4,280.1 108.2,278.6 108.4,277.1 108.9,275.6 109.4,274.2 110.0,272.8 110.7,271.5 111.4,270.2 112.1,268.9 112.9,267.7 113.7,266.4 114.7,265.1 115.6,263.9 116.7,262.6 117.9,261.3 119.2,260.0 120.6,258.7 122.2,257.4 124.0,256.3 125.9,255.6 127.9,256.3 129.7,257.4 131.3,258.7 132.7,260.0 134.0,261.3 135.2,262.6 136.2,263.9 137.2,265.1 138.1,266.4 139.0,267.7 139.8,268.9 140.5,270.2 141.2,271.5 141.8,272.8 142.4,274.2 143.0,275.6 143.4,277.1" fill="#beff41"/><polygon points="143.3,278.6 143.1,280.1 142.6,281.5 142.1,282.9 141.5,284.2 140.9,285.5 140.2,286.8 139.5,288.0 138.8,289.2 137.9,290.5 137.1,291.7 136.1,292.9 135.1,294.2 133.9,295.4 132.7,296.7 131.3,298.0 129.7,299.2 128.0,300.3 126.1,301.1 124.2,300.3 122.4,299.2 120.9,298.0 119.5,296.7 118.2,295.4 117.1,294.2 116.0,292.9 115.1,291.7 114.2,290.5 113.4,289.2 112.6,288.0 111.9,286.8 111.2,285.5 110.6,284.2 110.0,282.9 109.5,281.5 109.1,280.1 108.8,278.6 109.1,277.1 109.5,275.7 110.0,274.3 110.6,273.0 111.2,271.7 111.9,270.4 112.6,269.2 113.4,268.0 114.2,266.7 115.1,265.5 116.0,264.3 117.1,263.0 118.2,261.8 119.5,260.5 120.9,259.2 122.4,258.0 124.2,256.9 126.1,256.1 128.0,256.9 129.7,258.0 131.3,259.2 132.7,260.5 133.9,261.8 135.1,263.0 136.1,264.3 137.1,265.5 137.9,266.7 138.8,268.0 139.5,269.2 140.2,270.4 140.9,271.7 141.5,273.0 142.1,274.3 142.6,275.7 143.1,277.1" fill="#d1ff2e"/><polygon points="143.0,278.6 142.7,280.0 142.3,281.4 141.8,282.8 141.2,284.1 140.6,285.3 140.0,286.5 139.3,287.7 138.5,288.9 137.7,290.1 136.9,291.3 136.0,292.5 134.9,293.7 133.8,295.0 132.6,296.2 131.3,297.5 129.7,298.7 128.1,299.8 126.2,300.5 124.4,299.8 122.7,298.7 121.1,297.5 119.8,296.2 118.6,295.0 117.5,293.7 116.4,292.5 115.5,291.3 114.7,290.1 113.9,288.9 113.1,287.7 112.4,286.5 111.8,285.3 111.2,284.1 110.6,282.8 110.1,281.4 109.7,280.0 109.4,278.6 109.7,277.2 110.1,275.8 110.6,274.4 111.2,273.1 111.8,271.9 112.4,270.7 113.1,269.5 113.9,268.3 114.7,267.1 115.5,265.9 116.4,264.7 117.5,263.5 118.6,262.2 119.8,261.0 121.1,259.7 122.7,258.5 124.4,257.4 126.2,256.7 128.1,257.4 129.7,258.5 131.3,259.7 132.6,261.0 133.8,262.2 134.9,263.5 136.0,264.7 136.9,265.9 137.7,267.1 138.5,268.3 139.3,269.5 140.0,270.7 140.6,271.9 141.2,273.1 141.8,274.4 142.3,275.8 142.7,277.2" fill="#e3ff1c"/><polygon points="142.6,278.6 142.3,280.0 141.9,281.3 141.4,282.6 140.9,283.9 140.3,285.1 139.7,286.3 139.0,287.5 138.3,288.6 137.5,289.8 136.7,291.0 135.8,292.1 134.8,293.3 133.8,294.5 132.6,295.7 131.3,297.0 129.8,298.1 128.1,299.2 126.3,299.9 124.5,299.2 122.9,298.1 121.4,297.0 120.1,295.7 118.9,294.5 117.8,293.3 116.9,292.1 116.0,291.0 115.1,289.8 114.4,288.6 113.7,287.5 113.0,286.3 112.4,285.1 111.8,283.9 111.2,282.6 110.7,281.3 110.3,280.0 110.1,278.6 110.3,277.2 110.7,275.9 111.2,274.6 111.8,273.3 112.4,272.1 113.0,270.9 113.7,269.7 114.4,268.6 115.1,267.4 116.0,266.2 116.9,265.1 117.8,263.9 118.9,262.7 120.1,261.5 121.4,260.2 122.9,259.1 124.5,258.0 126.3,257.3 128.1,258.0 129.8,259.1 131.3,260.2 132.6,261.5 133.8,262.7 134.8,263.9 135.8,265.1 136.7,266.2 137.5,267.4 138.3,268.6 139.0,269.7 139.7,270.9 140.3,272.1 140.9,273.3 141.4,274.6 141.9,275.9 142.3,277.2" fill="#f6ff09"/><polygon points="141.8,278.6 141.5,279.9 141.2,281.2 140.7,282.4 140.2,283.6 139.7,284.7 139.1,285.9 138.5,287.0 137.8,288.1 137.1,289.2 136.3,290.3 135.5,291.4 134.6,292.5 133.5,293.7 132.4,294.8 131.2,296.0 129.8,297.1 128.2,298.1 126.5,298.8 124.8,298.1 123.3,297.1 121.9,296.0 120.6,294.8 119.5,293.7 118.5,292.5 117.6,291.4 116.7,290.3 116.0,289.2 115.2,288.1 114.6,287.0 113.9,285.9 113.4,284.7 112.8,283.6 112.3,282.4 111.9,281.2 111.5,279.9 111.2,278.6 111.5,277.3 111.9,276.0 112.3,274.8 112.8,273.6 113.4,272.5 113.9,271.3 114.6,270.2 115.2,269.1 116.0,268.0 116.7,266.9 117.6,265.8 118.5,264.7 119.5,263.5 120.6,262.4 121.9,261.2 123.3,260.1 124.8,259.1 126.5,258.4 128.2,259.1 129.8,260.1 131.2,261.2 132.4,262.4 133.5,263.5 134.6,264.7 135.5,265.8 136.3,266.9 137.1,268.0 137.8,269.1 138.5,270.2 139.1,271.3 139.7,272.5 140.2,273.6 140.7,274.8 141.2,276.0 141.5,277.3" fill="#fff600"/><polygon points="140.6,278.6 140.4,279.8 140.0,280.9 139.6,282.0 139.2,283.1 138.7,284.2 138.2,285.2 137.6,286.2 137.0,287.2 136.4,288.2 135.7,289.2 134.9,290.3 134.1,291.3 133.2,292.4 132.2,293.5 131.0,294.6 129.8,295.6 128.3,296.6 126.8,297.2 125.2,296.6 123.7,295.6 122.5,294.6 121.3,293.5 120.3,292.4 119.4,291.3 118.6,290.3 117.8,289.2 117.1,288.2 116.5,287.2 115.9,286.2 115.3,285.2 114.8,284.2 114.3,283.1 113.9,282.0 113.5,280.9 113.1,279.8 112.9,278.6 113.1,277.4 113.5,276.3 113.9,275.2 114.3,274.1 114.8,273.0 115.3,272.0 115.9,271.0 116.5,270.0 117.1,269.0 117.8,268.0 118.6,266.9 119.4,265.9 120.3,264.8 121.3,263.7 122.5,262.6 123.7,261.6 125.2,260.6 126.8,260.0 128.3,260.6 129.8,261.6 131.0,262.6 132.2,263.7 133.2,264.8 134.1,265.9 134.9,266.9 135.7,268.0 136.4,269.0 137.0,270.0 137.6,271.0 138.2,272.0 138.7,273.0 139.2,274.1 139.6,275.2 140.0,276.3 140.4,277.4" fill="#ffe300"/><polygon points="139.3,278.6 139.2,279.7 138.9,280.7 138.5,281.7 138.1,282.7 137.7,283.6 137.3,284.5 136.8,285.4 136.2,286.4 135.7,287.3 135.1,288.2 134.4,289.2 133.6,290.1 132.8,291.1 131.9,292.1 130.9,293.2 129.7,294.1 128.4,295.0 127.0,295.6 125.5,295.0 124.2,294.1 123.1,293.2 122.1,292.1 121.1,291.1 120.3,290.1 119.6,289.2 118.9,288.2 118.3,287.3 117.7,286.4 117.2,285.4 116.7,284.5 116.3,283.6 115.8,282.7 115.4,281.7 115.1,280.7 114.8,279.7 114.6,278.6 114.8,277.5 115.1,276.5 115.4,275.5 115.8,274.5 116.3,273.6 116.7,272.7 117.2,271.8 117.7,270.8 118.3,269.9 118.9,269.0 119.6,268.0 120.3,267.1 121.1,266.1 122.1,265.1 123.1,264.0 124.2,263.1 125.5,262.2 127.0,261.6 128.4,262.2 129.7,263.1 130.9,264.0 131.9,265.1 132.8,266.1 133.6,267.1 134.4,268.0 135.1,269.0 135.7,269.9 136.2,270.8 136.8,271.8 137.3,272.7 137.7,273.6 138.1,274.5 138.5,275.5 138.9,276.5 139.2,277.5" fill="#ffd000"/><polygon points="138.1,278.6 138.0,279.5 137.7,280.5 137.4,281.3 137.1,282.2 136.7,283.0 136.3,283.9 135.9,284.7 135.5,285.5 135.0,286.3 134.4,287.2 133.8,288.1 133.2,288.9 132.5,289.9 131.7,290.8 130.7,291.7 129.7,292.7 128.5,293.5 127.2,294.1 125.9,293.5 124.7,292.7 123.7,291.7 122.8,290.8 122.0,289.9 121.2,288.9 120.6,288.1 120.0,287.2 119.5,286.3 119.0,285.5 118.5,284.7 118.1,283.9 117.7,283.0 117.3,282.2 117.0,281.3 116.7,280.5 116.5,279.5 116.3,278.6 116.5,277.7 116.7,276.7 117.0,275.9 117.3,275.0 117.7,274.2 118.1,273.3 118.5,272.5 119.0,271.7 119.5,270.9 120.0,270.0 120.6,269.1 121.2,268.3 122.0,267.3 122.8,266.4 123.7,265.5 124.7,264.5 125.9,263.7 127.2,263.1 128.5,263.7 129.7,264.5 130.7,265.5 131.7,266.4 132.5,267.3 133.2,268.3 133.8,269.1 134.4,270.0 135.0,270.9 135.5,271.7 135.9,272.5 136.3,273.3 136.7,274.2 137.1,275.0 137.4,275.9 137.7,276.7 138.0,277.7" fill="#ffbe00"/><polygon points="137.0,278.6 136.8,279.4 136.6,280.2 136.4,281.0 136.1,281.7 135.8,282.5 135.4,283.2 135.1,283.9 134.7,284.7 134.3,285.4 133.8,286.2 133.3,287.0 132.7,287.8 132.1,288.6 131.4,289.4 130.6,290.3 129.7,291.2 128.6,291.9 127.5,292.5 126.3,291.9 125.2,291.2 124.3,290.3 123.5,289.4 122.8,288.6 122.2,287.8 121.6,287.0 121.1,286.2 120.6,285.4 120.2,284.7 119.8,283.9 119.5,283.2 119.1,282.5 118.8,281.7 118.5,281.0 118.3,280.2 118.1,279.4 117.9,278.6 118.1,277.8 118.3,277.0 118.5,276.2 118.8,275.5 119.1,274.7 119.5,274.0 119.8,273.3 120.2,272.5 120.6,271.8 121.1,271.0 121.6,270.2 122.2,269.4 122.8,268.6 123.5,267.8 124.3,266.9 125.2,266.0 126.3,265.3 127.5,264.7 128.6,265.3 129.7,266.0 130.6,266.9 131.4,267.8 132.1,268.6 132.7,269.4 133.3,270.2 133.8,271.0 134.3,271.8 134.7,272.5 135.1,273.3 135.4,274.0 135.8,274.7 136.1,275.5 136.4,276.2 136.6,277.0 136.8,277.8" fill="#ffab00"/><polygon points="135.9,278.6 135.8,279.3 135.6,280.0 135.4,280.7 135.2,281.3 134.9,282.0 134.6,282.6 134.3,283.3 134.0,283.9 133.6,284.5 133.2,285.2 132.8,285.9 132.3,286.6 131.8,287.3 131.1,288.1 130.4,288.9 129.6,289.6 128.7,290.3 127.7,290.8 126.7,290.3 125.7,289.6 124.9,288.9 124.2,288.1 123.6,287.3 123.1,286.6 122.6,285.9 122.1,285.2 121.7,284.5 121.4,283.9 121.0,283.3 120.7,282.6 120.4,282.0 120.2,281.3 120.0,280.7 119.7,280.0 119.6,279.3 119.5,278.6 119.6,277.9 119.7,277.2 120.0,276.5 120.2,275.9 120.4,275.2 120.7,274.6 121.0,273.9 121.4,273.3 121.7,272.7 122.1,272.0 122.6,271.3 123.1,270.6 123.6,269.9 124.2,269.1 124.9,268.3 125.7,267.6 126.7,266.9 127.7,266.4 128.7,266.9 129.6,267.6 130.4,268.3 131.1,269.1 131.8,269.9 132.3,270.6 132.8,271.3 133.2,272.0 133.6,272.7 134.0,273.3 134.3,273.9 134.6,274.6 134.9,275.2 135.2,275.9 135.4,276.5 135.6,277.2 135.8,277.9" fill="#ff9900"/><polygon points="134.9,278.6 134.8,279.2 134.6,279.8 134.5,280.4 134.3,280.9 134.1,281.5 133.8,282.0 133.6,282.6 133.3,283.1 133.0,283.7 132.7,284.2 132.3,284.8 131.9,285.5 131.4,286.1 130.9,286.8 130.3,287.4 129.6,288.1 128.8,288.8 127.9,289.2 127.0,288.8 126.2,288.1 125.5,287.4 124.9,286.8 124.4,286.1 124.0,285.5 123.5,284.8 123.2,284.2 122.8,283.7 122.5,283.1 122.3,282.6 122.0,282.0 121.8,281.5 121.6,280.9 121.4,280.4 121.2,279.8 121.1,279.2 121.0,278.6 121.1,278.0 121.2,277.4 121.4,276.8 121.6,276.3 121.8,275.7 122.0,275.2 122.3,274.6 122.5,274.1 122.8,273.5 123.2,273.0 123.5,272.4 124.0,271.7 124.4,271.1 124.9,270.4 125.5,269.8 126.2,269.1 127.0,268.4 127.9,268.0 128.8,268.4 129.6,269.1 130.3,269.8 130.9,270.4 131.4,271.1 131.9,271.7 132.3,272.4 132.7,273.0 133.0,273.5 133.3,274.1 133.6,274.6 133.8,275.2 134.1,275.7 134.3,276.3 134.5,276.8 134.6,277.4 134.8,278.0" fill="#ff8600"/><polygon points="132.9,278.6 132.8,279.0 132.7,279.4 132.6,279.8 132.4,280.2 132.3,280.6 132.1,280.9 132.0,281.3 131.8,281.7 131.6,282.1 131.4,282.5 131.1,282.9 130.8,283.3 130.5,283.7 130.2,284.2 129.7,284.7 129.3,285.1 128.7,285.6 128.1,285.9 127.5,285.6 127.0,285.1 126.5,284.7 126.1,284.2 125.7,283.7 125.4,283.3 125.1,282.9 124.9,282.5 124.7,282.1 124.5,281.7 124.3,281.3 124.1,280.9 123.9,280.6 123.8,280.2 123.7,279.8 123.5,279.4 123.4,279.0 123.4,278.6 123.4,278.2 123.5,277.8 123.7,277.4 123.8,277.0 123.9,276.6 124.1,276.3 124.3,275.9 124.5,275.5 124.7,275.1 124.9,274.7 125.1,274.3 125.4,273.9 125.7,273.5 126.1,273.0 126.5,272.5 127.0,272.1 127.5,271.6 128.1,271.3 128.7,271.6 129.3,272.1 129.7,272.5 130.2,273.0 130.5,273.5 130.8,273.9 131.1,274.3 131.4,274.7 131.6,275.1 131.8,275.5 132.0,275.9 132.1,276.3 132.3,276.6 132.4,277.0 132.6,277.4 132.7,277.8 132.8,278.2" fill="#ff7300"/><polygon points="130.3,278.6 130.3,278.8 130.2,278.9 130.2,279.1 130.1,279.3 130.1,279.4 130.0,279.6 129.9,279.7 129.8,279.9 129.8,280.1 129.7,280.2 129.5,280.4 129.4,280.6 129.3,280.7 129.1,280.9 129.0,281.1 128.8,281.3 128.6,281.5 128.3,281.6 128.0,281.5 127.8,281.3 127.6,281.1 127.5,280.9 127.3,280.7 127.2,280.6 127.1,280.4 126.9,280.2 126.8,280.1 126.8,279.9 126.7,279.7 126.6,279.6 126.5,279.4 126.5,279.3 126.4,279.1 126.4,278.9 126.3,278.8 126.3,278.6 126.3,278.4 126.4,278.3 126.4,278.1 126.5,277.9 126.5,277.8 126.6,277.6 126.7,277.5 126.8,277.3 126.8,277.1 126.9,277.0 127.1,276.8 127.2,276.6 127.3,276.5 127.5,276.3 127.6,276.1 127.8,275.9 128.0,275.7 128.3,275.6 128.6,275.7 128.8,275.9 129.0,276.1 129.1,276.3 129.3,276.5 129.4,276.6 129.5,276.8 129.7,277.0 129.8,277.1 129.8,277.3 129.9,277.5 130.0,277.6 130.1,277.8 130.1,277.9 130.2,278.1 130.2,278.3 130.3,278.4" fill="#ff6100"/></g>
<circle cx="99.8" cy="254.4" r="9" fill="#fff" stroke="#111" stroke-width="0.7"/>
<circle cx="99.8" cy="278.8" r="9" fill="#fff" stroke="#111" stroke-width="0.7"/>
<circle cx="99.8" cy="303.3" r="9" fill="#fff" stroke="#111" stroke-width="0.7"/>
<circle cx="124.6" cy="254.4" r="9" fill="#fff" stroke="#111" stroke-width="0.7"/>
<circle cx="124.6" cy="303.3" r="9" fill="#fff" stroke="#111" stroke-width="0.7"/>
<circle cx="149.6" cy="254.4" r="9" fill="#fff" stroke="#111" stroke-width="0.7"/>
<circle cx="149.6" cy="278.8" r="9" fill="#fff" stroke="#111" stroke-width="0.7"/>
<circle cx="149.6" cy="303.3" r="9" fill="#fff" stroke="#111" stroke-width="0.7"/>
</g>
<rect x="35.6" y="191.6" width="178.2" height="174" fill="none" stroke="#000" stroke-width="0.7"/>
<line x1="89" y1="278.8" x2="159.5" y2="278.8" stroke="#16bc4c" stroke-width="1.6" stroke-dasharray="4.3 2.9"/>
<line x1="124.6" y1="245" x2="124.6" y2="314" stroke="#16bc4c" stroke-width="1.6" stroke-dasharray="4.3 2.9"/>
<rect x="89.7" y="244.6" width="69.4" height="69.3" fill="none" stroke="#ff0a0a" stroke-width="1.7" stroke-dasharray="7.3 4"/>
<path d="M35.5,246.7 H46.8 V243.4 L56.5,249.6 L46.8,255.79999999999998 V252.5 H35.5 z" fill="#ff0d0d"/>
<path d="M35.5,279.1 H46.8 V275.8 L56.5,282 L46.8,288.2 V284.9 H35.5 z" fill="#ff0d0d"/>
<path d="M35.5,308.1 H46.8 V304.8 L56.5,311 L46.8,317.2 V313.9 H35.5 z" fill="#ff0d0d"/>
<text class="w" x="118.3" y="240.8">IV</text>
<text class="w" x="74.6" y="282.6">III</text>
<line x1="159.2" y1="244.6" x2="225" y2="213.6" stroke="#ff0a0a" stroke-width="1.2" stroke-dasharray="4 2.8"/>
<line x1="159.2" y1="313.9" x2="225" y2="340.8" stroke="#ff0a0a" stroke-width="1.2" stroke-dasharray="4 2.8"/>
<g clip-path="url(#ciB)">
<rect x="225" y="213.4" width="128.3" height="127.6" fill="#0a24f8"/>
<g filter="url(#b8)"><rect x="232" y="220" width="114" height="114" fill="#0a38ff"/></g>
<g filter="url(#b4)">
<ellipse cx="256" cy="257" rx="15" ry="6" fill="#10d0ff" transform="rotate(12 256 257)"/>
<ellipse cx="256" cy="296" rx="15" ry="6" fill="#10d0ff" transform="rotate(-12 256 296)"/>
<ellipse cx="311" cy="235" rx="6" ry="15" fill="#10d0ff" transform="rotate(-12 311 235)"/>
<ellipse cx="311" cy="318" rx="6" ry="15" fill="#10d0ff" transform="rotate(12 311 318)"/>
</g>
<g filter="url(#b2)"><polygon points="352.4,276.0 351.3,281.4 349.5,286.5 347.4,291.4 345.2,296.2 342.7,300.7 340.1,305.1 337.3,309.3 334.4,313.5 331.4,317.6 328.1,321.7 324.6,325.8 320.8,329.9 316.7,334.0 312.2,338.0 307.3,342.0 301.9,345.9 296.0,349.2 289.5,351.5 283.1,349.2 277.2,345.9 271.8,342.0 266.8,338.0 262.4,334.0 258.3,329.9 254.5,325.8 251.0,321.7 247.7,317.6 244.6,313.5 241.7,309.3 239.0,305.1 236.4,300.7 233.9,296.2 231.6,291.4 229.5,286.5 227.8,281.4 226.7,276.0 227.8,270.6 229.5,265.5 231.6,260.5 233.9,255.8 236.4,251.3 239.0,246.9 241.7,242.7 244.6,238.5 247.7,234.4 251.0,230.3 254.5,226.2 258.3,222.1 262.4,218.0 266.8,213.9 271.8,210.0 277.2,206.1 283.1,202.7 289.5,200.5 296.0,202.7 301.9,206.1 307.3,210.0 312.2,213.9 316.7,218.0 320.8,222.1 324.6,226.2 328.1,230.3 331.4,234.4 334.4,238.5 337.3,242.7 340.1,246.9 342.7,251.3 345.2,255.8 347.4,260.5 349.5,265.5 351.3,270.6" fill="#0024ff" opacity="0.5"/><polygon points="349.5,276.0 348.4,281.1 346.8,286.0 344.8,290.7 342.6,295.2 340.3,299.5 337.8,303.7 335.2,307.8 332.4,311.8 329.5,315.7 326.4,319.6 323.0,323.5 319.4,327.4 315.5,331.4 311.2,335.2 306.6,339.1 301.4,342.7 295.7,346.0 289.6,348.1 283.4,346.0 277.8,342.7 272.6,339.1 267.9,335.2 263.7,331.4 259.7,327.4 256.1,323.5 252.8,319.6 249.7,315.7 246.7,311.8 244.0,307.8 241.4,303.7 238.9,299.5 236.5,295.2 234.4,290.7 232.4,286.0 230.7,281.1 229.7,276.0 230.7,270.9 232.4,266.0 234.4,261.3 236.5,256.8 238.9,252.5 241.4,248.3 244.0,244.2 246.7,240.2 249.7,236.3 252.8,232.3 256.1,228.4 259.7,224.5 263.7,220.6 267.9,216.7 272.6,212.9 277.8,209.3 283.4,206.0 289.6,203.9 295.7,206.0 301.4,209.3 306.6,212.9 311.2,216.7 315.5,220.6 319.4,224.5 323.0,228.4 326.4,232.3 329.5,236.3 332.4,240.2 335.2,244.2 337.8,248.3 340.3,252.5 342.6,256.8 344.8,261.3 346.8,266.0 348.4,270.9" fill="#0036ff"/><polygon points="346.6,276.0 345.6,280.9 344.0,285.5 342.1,290.0 340.1,294.3 337.9,298.4 335.5,302.4 333.0,306.2 330.4,310.1 327.6,313.8 324.6,317.5 321.5,321.3 318.0,325.0 314.3,328.7 310.3,332.4 305.8,336.1 300.9,339.6 295.5,342.7 289.6,344.8 283.8,342.7 278.4,339.6 273.4,336.1 269.0,332.4 264.9,328.7 261.2,325.0 257.8,321.3 254.6,317.5 251.6,313.8 248.9,310.1 246.2,306.2 243.7,302.4 241.4,298.4 239.2,294.3 237.1,290.0 235.2,285.5 233.7,280.9 232.7,276.0 233.7,271.1 235.2,266.4 237.1,262.0 239.2,257.7 241.4,253.6 243.7,249.6 246.2,245.7 248.9,241.9 251.6,238.2 254.6,234.4 257.8,230.7 261.2,227.0 264.9,223.3 269.0,219.5 273.4,215.9 278.4,212.4 283.8,209.3 289.6,207.2 295.5,209.3 300.9,212.4 305.8,215.9 310.3,219.5 314.3,223.3 318.0,227.0 321.5,230.7 324.6,234.4 327.6,238.2 330.4,241.9 333.0,245.7 335.5,249.6 337.9,253.6 340.1,257.7 342.1,262.0 344.0,266.4 345.6,271.1" fill="#0049ff"/><polygon points="344.4,276.0 343.5,280.7 342.0,285.2 340.2,289.5 338.2,293.6 336.1,297.5 333.8,301.4 331.4,305.1 328.9,308.8 326.2,312.4 323.4,316.0 320.3,319.6 317.0,323.2 313.4,326.8 309.5,330.3 305.2,333.9 300.5,337.2 295.3,340.2 289.7,342.2 284.0,340.2 278.8,337.2 274.1,333.9 269.8,330.3 265.9,326.8 262.3,323.2 259.0,319.6 256.0,316.0 253.1,312.4 250.5,308.8 247.9,305.1 245.5,301.4 243.3,297.5 241.2,293.6 239.2,289.5 237.4,285.2 235.9,280.7 234.9,276.0 235.9,271.3 237.4,266.8 239.2,262.5 241.2,258.4 243.3,254.5 245.5,250.6 247.9,246.9 250.5,243.2 253.1,239.6 256.0,236.0 259.0,232.4 262.3,228.8 265.9,225.2 269.8,221.7 274.1,218.1 278.8,214.8 284.0,211.7 289.7,209.8 295.3,211.7 300.5,214.8 305.2,218.1 309.5,221.7 313.4,225.2 317.0,228.8 320.3,232.4 323.4,236.0 326.2,239.6 328.9,243.2 331.4,246.9 333.8,250.6 336.1,254.5 338.2,258.4 340.2,262.5 342.0,266.8 343.5,271.3" fill="#005cff"/><polygon points="342.5,276.0 341.5,280.5 340.1,284.8 338.3,289.0 336.4,292.9 334.4,296.7 332.2,300.4 329.9,304.0 327.5,307.6 324.9,311.1 322.2,314.5 319.3,318.0 316.1,321.5 312.6,324.9 308.9,328.4 304.7,331.8 300.2,335.1 295.2,338.0 289.7,339.9 284.3,338.0 279.3,335.1 274.7,331.8 270.6,328.4 266.8,324.9 263.4,321.5 260.2,318.0 257.2,314.5 254.5,311.1 251.9,307.6 249.5,304.0 247.2,300.4 245.0,296.7 243.0,292.9 241.1,289.0 239.4,284.8 237.9,280.5 237.0,276.0 237.9,271.5 239.4,267.2 241.1,263.0 243.0,259.1 245.0,255.2 247.2,251.6 249.5,248.0 251.9,244.4 254.5,240.9 257.2,237.5 260.2,234.0 263.4,230.5 266.8,227.1 270.6,223.6 274.7,220.2 279.3,216.9 284.3,214.0 289.7,212.1 295.2,214.0 300.2,216.9 304.7,220.2 308.9,223.6 312.6,227.1 316.1,230.5 319.3,234.0 322.2,237.5 324.9,240.9 327.5,244.4 329.9,248.0 332.2,251.6 334.4,255.2 336.4,259.1 338.3,263.0 340.1,267.2 341.5,271.5" fill="#006eff"/><polygon points="340.5,276.0 339.6,280.3 338.2,284.5 336.6,288.5 334.8,292.3 332.8,296.0 330.7,299.5 328.5,303.0 326.2,306.4 323.7,309.8 321.1,313.1 318.2,316.5 315.2,319.8 311.9,323.2 308.2,326.5 304.2,329.8 299.9,332.9 295.0,335.7 289.8,337.6 284.5,335.7 279.7,332.9 275.3,329.8 271.3,326.5 267.7,323.2 264.4,319.8 261.3,316.5 258.5,313.1 255.8,309.8 253.4,306.4 251.0,303.0 248.8,299.5 246.7,296.0 244.8,292.3 242.9,288.5 241.3,284.5 239.9,280.3 239.0,276.0 239.9,271.6 241.3,267.5 242.9,263.5 244.8,259.7 246.7,256.0 248.8,252.5 251.0,249.0 253.4,245.6 255.8,242.2 258.5,238.9 261.3,235.5 264.4,232.2 267.7,228.8 271.3,225.5 275.3,222.2 279.7,219.0 284.5,216.2 289.8,214.4 295.0,216.2 299.9,219.0 304.2,222.2 308.2,225.5 311.9,228.8 315.2,232.2 318.2,235.5 321.1,238.9 323.7,242.2 326.2,245.6 328.5,249.0 330.7,252.5 332.8,256.0 334.8,259.7 336.6,263.5 338.2,267.5 339.6,271.6" fill="#0081ff"/><polygon points="339.4,276.0 338.5,280.2 337.1,284.3 335.5,288.2 333.8,291.9 331.9,295.5 329.8,299.0 327.7,302.4 325.4,305.7 323.0,309.0 320.4,312.3 317.7,315.6 314.7,318.9 311.4,322.2 307.9,325.5 304.0,328.7 299.7,331.8 295.0,334.6 289.8,336.4 284.7,334.6 279.9,331.8 275.6,328.7 271.7,325.5 268.2,322.2 264.9,318.9 262.0,315.6 259.2,312.3 256.6,309.0 254.2,305.7 252.0,302.4 249.8,299.0 247.8,295.5 245.9,291.9 244.1,288.2 242.5,284.3 241.1,280.2 240.3,276.0 241.1,271.8 242.5,267.7 244.1,263.8 245.9,260.1 247.8,256.5 249.8,253.0 252.0,249.6 254.2,246.3 256.6,243.0 259.2,239.7 262.0,236.4 264.9,233.1 268.2,229.8 271.7,226.5 275.6,223.3 279.9,220.2 284.7,217.4 289.8,215.6 295.0,217.4 299.7,220.2 304.0,223.3 307.9,226.5 311.4,229.8 314.7,233.1 317.7,236.4 320.4,239.7 323.0,243.0 325.4,246.3 327.7,249.6 329.8,253.0 331.9,256.5 333.8,260.1 335.5,263.8 337.1,267.7 338.5,271.8" fill="#0093ff"/><polygon points="338.2,276.0 337.4,280.1 336.0,284.1 334.5,287.9 332.8,291.5 330.9,295.1 328.9,298.5 326.8,301.8 324.6,305.0 322.3,308.3 319.8,311.5 317.1,314.7 314.2,317.9 311.0,321.2 307.6,324.4 303.7,327.6 299.5,330.7 294.9,333.4 289.9,335.2 284.8,333.4 280.2,330.7 276.0,327.6 272.2,324.4 268.7,321.2 265.5,317.9 262.6,314.7 259.9,311.5 257.4,308.3 255.1,305.0 252.9,301.8 250.8,298.5 248.8,295.1 247.0,291.5 245.2,287.9 243.7,284.1 242.4,280.1 241.5,276.0 242.4,271.9 243.7,267.9 245.2,264.1 247.0,260.4 248.8,256.9 250.8,253.5 252.9,250.2 255.1,246.9 257.4,243.7 259.9,240.5 262.6,237.3 265.5,234.0 268.7,230.8 272.2,227.6 276.0,224.4 280.2,221.3 284.8,218.6 289.9,216.8 294.9,218.6 299.5,221.3 303.7,224.4 307.6,227.6 311.0,230.8 314.2,234.0 317.1,237.3 319.8,240.5 322.3,243.7 324.6,246.9 326.8,250.2 328.9,253.5 330.9,256.9 332.8,260.4 334.5,264.1 336.0,267.9 337.4,271.9" fill="#00a6ff"/><polygon points="337.0,276.0 336.2,280.0 334.9,283.9 333.4,287.6 331.8,291.2 330.0,294.6 328.0,297.9 326.0,301.2 323.9,304.4 321.6,307.5 319.1,310.7 316.5,313.8 313.7,317.0 310.6,320.2 307.2,323.4 303.5,326.5 299.4,329.5 294.8,332.2 289.9,334.0 285.0,332.2 280.4,329.5 276.3,326.5 272.6,323.4 269.2,320.2 266.1,317.0 263.3,313.8 260.7,310.7 258.2,307.5 255.9,304.4 253.8,301.2 251.8,297.9 249.9,294.6 248.1,291.2 246.4,287.6 244.9,283.9 243.6,280.0 242.8,276.0 243.6,272.0 244.9,268.1 246.4,264.4 248.1,260.8 249.9,257.4 251.8,254.1 253.8,250.8 255.9,247.6 258.2,244.5 260.7,241.3 263.3,238.1 266.1,235.0 269.2,231.8 272.6,228.6 276.3,225.5 280.4,222.5 285.0,219.8 289.9,218.0 294.8,219.8 299.4,222.5 303.5,225.5 307.2,228.6 310.6,231.8 313.7,235.0 316.5,238.1 319.1,241.3 321.6,244.5 323.9,247.6 326.0,250.8 328.0,254.1 330.0,257.4 331.8,260.8 333.4,264.4 334.9,268.1 336.2,272.0" fill="#00b9ff"/><polygon points="335.9,276.0 335.1,279.9 333.8,283.7 332.4,287.3 330.8,290.8 329.0,294.1 327.2,297.4 325.2,300.6 323.1,303.7 320.9,306.8 318.5,309.9 316.0,313.0 313.2,316.1 310.2,319.2 306.9,322.3 303.3,325.4 299.2,328.4 294.8,331.0 290.0,332.8 285.1,331.0 280.7,328.4 276.7,325.4 273.0,322.3 269.7,319.2 266.7,316.1 263.9,313.0 261.4,309.9 259.0,306.8 256.8,303.7 254.7,300.6 252.7,297.4 250.9,294.1 249.1,290.8 247.5,287.3 246.1,283.7 244.8,279.9 244.0,276.0 244.8,272.1 246.1,268.3 247.5,264.7 249.1,261.2 250.9,257.9 252.7,254.6 254.7,251.4 256.8,248.3 259.0,245.2 261.4,242.1 263.9,239.0 266.7,235.9 269.7,232.8 273.0,229.7 276.7,226.6 280.7,223.6 285.1,221.0 290.0,219.2 294.8,221.0 299.2,223.6 303.3,226.6 306.9,229.7 310.2,232.8 313.2,235.9 316.0,239.0 318.5,242.1 320.9,245.2 323.1,248.3 325.2,251.4 327.2,254.6 329.0,257.9 330.8,261.2 332.4,264.7 333.8,268.3 335.1,272.1" fill="#00cbff"/><polygon points="334.7,276.0 333.9,279.8 332.7,283.5 331.3,287.0 329.8,290.4 328.1,293.7 326.3,296.8 324.4,300.0 322.3,303.0 320.2,306.0 317.9,309.1 315.4,312.1 312.7,315.1 309.8,318.2 306.6,321.3 303.0,324.3 299.1,327.2 294.7,329.8 290.0,331.5 285.3,329.8 280.9,327.2 277.0,324.3 273.4,321.3 270.2,318.2 267.3,315.1 264.6,312.1 262.1,309.1 259.8,306.0 257.7,303.0 255.6,300.0 253.7,296.8 251.9,293.7 250.2,290.4 248.7,287.0 247.3,283.5 246.1,279.8 245.3,276.0 246.1,272.2 247.3,268.5 248.7,265.0 250.2,261.6 251.9,258.3 253.7,255.1 255.6,252.0 257.7,249.0 259.8,245.9 262.1,242.9 264.6,239.9 267.3,236.8 270.2,233.8 273.4,230.7 277.0,227.7 280.9,224.8 285.3,222.2 290.0,220.4 294.7,222.2 299.1,224.8 303.0,227.7 306.6,230.7 309.8,233.8 312.7,236.8 315.4,239.9 317.9,242.9 320.2,245.9 322.3,249.0 324.4,252.0 326.3,255.1 328.1,258.3 329.8,261.6 331.3,265.0 332.7,268.5 333.9,272.2" fill="#00deff"/><polygon points="333.5,276.0 332.8,279.7 331.6,283.3 330.3,286.7 328.8,290.0 327.1,293.2 325.4,296.3 323.5,299.3 321.6,302.3 319.5,305.3 317.2,308.3 314.8,311.2 312.2,314.2 309.4,317.2 306.2,320.2 302.8,323.2 298.9,326.1 294.7,328.6 290.0,330.3 285.4,328.6 281.2,326.1 277.3,323.2 273.9,320.2 270.7,317.2 267.9,314.2 265.3,311.2 262.9,308.3 260.6,305.3 258.5,302.3 256.6,299.3 254.7,296.3 253.0,293.2 251.3,290.0 249.8,286.7 248.4,283.3 247.3,279.7 246.6,276.0 247.3,272.3 248.4,268.7 249.8,265.3 251.3,262.0 253.0,258.8 254.7,255.7 256.6,252.6 258.5,249.7 260.6,246.7 262.9,243.7 265.3,240.8 267.9,237.8 270.7,234.8 273.9,231.8 277.3,228.8 281.2,225.9 285.4,223.3 290.0,221.6 294.7,223.3 298.9,225.9 302.8,228.8 306.2,231.8 309.4,234.8 312.2,237.8 314.8,240.8 317.2,243.7 319.5,246.7 321.6,249.7 323.5,252.6 325.4,255.7 327.1,258.8 328.8,262.0 330.3,265.3 331.6,268.7 332.8,272.3" fill="#00f0ff"/><polygon points="332.4,276.0 331.7,279.6 330.6,283.1 329.3,286.4 327.8,289.7 326.2,292.8 324.6,295.8 322.8,298.8 320.9,301.7 318.8,304.6 316.6,307.5 314.3,310.4 311.8,313.3 309.0,316.3 305.9,319.2 302.5,322.1 298.8,325.0 294.6,327.5 290.1,329.2 285.6,327.5 281.4,325.0 277.7,322.1 274.3,319.2 271.3,316.3 268.5,313.3 265.9,310.4 263.6,307.5 261.4,304.6 259.4,301.7 257.5,298.8 255.7,295.8 254.0,292.8 252.4,289.7 250.9,286.4 249.6,283.1 248.5,279.6 247.8,276.0 248.5,272.4 249.6,268.9 250.9,265.5 252.4,262.3 254.0,259.2 255.7,256.2 257.5,253.2 259.4,250.3 261.4,247.4 263.6,244.5 265.9,241.6 268.5,238.7 271.3,235.7 274.3,232.8 277.7,229.8 281.4,227.0 285.6,224.5 290.1,222.8 294.6,224.5 298.8,227.0 302.5,229.8 305.9,232.8 309.0,235.7 311.8,238.7 314.3,241.6 316.6,244.5 318.8,247.4 320.9,250.3 322.8,253.2 324.6,256.2 326.2,259.2 327.8,262.3 329.3,265.5 330.6,268.9 331.7,272.4" fill="#04fffb"/><polygon points="331.7,276.0 331.0,279.5 329.9,282.9 328.6,286.2 327.2,289.4 325.6,292.4 324.0,295.4 322.2,298.3 320.4,301.1 318.4,304.0 316.2,306.8 314.0,309.7 311.5,312.5 308.7,315.4 305.8,318.3 302.4,321.2 298.8,324.0 294.7,326.4 290.3,328.1 285.8,326.4 281.8,324.0 278.1,321.2 274.8,318.3 271.8,315.4 269.1,312.5 266.6,309.7 264.3,306.8 262.2,304.0 260.2,301.1 258.3,298.3 256.6,295.4 254.9,292.4 253.4,289.4 252.0,286.2 250.7,282.9 249.6,279.5 248.9,276.0 249.6,272.4 250.7,269.0 252.0,265.8 253.4,262.6 254.9,259.6 256.6,256.6 258.3,253.7 260.2,250.9 262.2,248.0 264.3,245.2 266.6,242.3 269.1,239.5 271.8,236.6 274.8,233.7 278.1,230.8 281.8,228.0 285.8,225.5 290.3,223.9 294.7,225.5 298.8,228.0 302.4,230.8 305.8,233.7 308.7,236.6 311.5,239.5 314.0,242.3 316.2,245.2 318.4,248.0 320.4,250.9 322.2,253.7 324.0,256.6 325.6,259.6 327.2,262.6 328.6,265.8 329.9,269.0 331.0,272.4" fill="#17ffe8"/><polygon points="330.9,276.0 330.2,279.5 329.2,282.8 327.9,286.0 326.5,289.1 325.0,292.0 323.4,294.9 321.7,297.8 319.9,300.6 317.9,303.4 315.8,306.1 313.6,308.9 311.2,311.7 308.5,314.6 305.6,317.4 302.4,320.2 298.8,323.0 294.8,325.4 290.4,327.0 286.1,325.4 282.1,323.0 278.5,320.2 275.3,317.4 272.4,314.6 269.7,311.7 267.3,308.9 265.0,306.1 263.0,303.4 261.0,300.6 259.2,297.8 257.5,294.9 255.9,292.0 254.4,289.1 253.0,286.0 251.7,282.8 250.7,279.5 250.0,276.0 250.7,272.5 251.7,269.2 253.0,266.0 254.4,262.9 255.9,260.0 257.5,257.1 259.2,254.2 261.0,251.4 263.0,248.6 265.0,245.9 267.3,243.1 269.7,240.2 272.4,237.4 275.3,234.6 278.5,231.7 282.1,229.0 286.1,226.6 290.4,225.0 294.8,226.6 298.8,229.0 302.4,231.7 305.6,234.6 308.5,237.4 311.2,240.2 313.6,243.1 315.8,245.9 317.9,248.6 319.9,251.4 321.7,254.2 323.4,257.1 325.0,260.0 326.5,262.9 327.9,266.0 329.2,269.2 330.2,272.5" fill="#29ffd6"/><polygon points="330.1,276.0 329.4,279.4 328.4,282.6 327.2,285.8 325.8,288.8 324.4,291.7 322.8,294.5 321.1,297.3 319.4,300.0 317.5,302.7 315.4,305.5 313.3,308.2 310.9,311.0 308.3,313.7 305.4,316.5 302.3,319.3 298.7,322.0 294.9,324.4 290.6,325.9 286.4,324.4 282.5,322.0 279.0,319.3 275.8,316.5 272.9,313.7 270.3,311.0 268.0,308.2 265.8,305.5 263.7,302.7 261.9,300.0 260.1,297.3 258.4,294.5 256.8,291.7 255.4,288.8 254.0,285.8 252.8,282.6 251.8,279.4 251.1,276.0 251.8,272.6 252.8,269.4 254.0,266.2 255.4,263.2 256.8,260.3 258.4,257.5 260.1,254.7 261.9,252.0 263.7,249.2 265.8,246.5 268.0,243.8 270.3,241.0 272.9,238.3 275.8,235.5 279.0,232.7 282.5,230.0 286.4,227.6 290.6,226.1 294.9,227.6 298.7,230.0 302.3,232.7 305.4,235.5 308.3,238.3 310.9,241.0 313.3,243.8 315.4,246.5 317.5,249.2 319.4,252.0 321.1,254.7 322.8,257.5 324.4,260.3 325.8,263.2 327.2,266.2 328.4,269.4 329.4,272.6" fill="#3cffc3"/><polygon points="329.3,276.0 328.7,279.3 327.7,282.5 326.5,285.5 325.2,288.5 323.7,291.3 322.2,294.1 320.6,296.8 318.9,299.5 317.0,302.1 315.0,304.8 312.9,307.5 310.6,310.2 308.0,312.9 305.3,315.6 302.2,318.3 298.7,321.0 294.9,323.3 290.8,324.9 286.6,323.3 282.8,321.0 279.4,318.3 276.3,315.6 273.5,312.9 270.9,310.2 268.6,307.5 266.5,304.8 264.5,302.1 262.7,299.5 261.0,296.8 259.3,294.1 257.8,291.3 256.4,288.5 255.0,285.5 253.9,282.5 252.8,279.3 252.2,276.0 252.8,272.7 253.9,269.5 255.0,266.5 256.4,263.5 257.8,260.7 259.3,257.9 261.0,255.2 262.7,252.5 264.5,249.9 266.5,247.2 268.6,244.5 270.9,241.8 273.5,239.1 276.3,236.4 279.4,233.6 282.8,231.0 286.6,228.7 290.8,227.1 294.9,228.7 298.7,231.0 302.2,233.6 305.3,236.4 308.0,239.1 310.6,241.8 312.9,244.5 315.0,247.2 317.0,249.9 318.9,252.5 320.6,255.2 322.2,257.9 323.7,260.7 325.2,263.5 326.5,266.5 327.7,269.5 328.7,272.7" fill="#4effb1"/><polygon points="328.5,276.0 327.9,279.2 326.9,282.3 325.8,285.3 324.5,288.2 323.1,290.9 321.6,293.6 320.0,296.3 318.4,298.9 316.6,301.5 314.6,304.1 312.6,306.7 310.3,309.4 307.8,312.1 305.1,314.7 302.1,317.4 298.7,320.0 295.0,322.3 290.9,323.8 286.9,322.3 283.1,320.0 279.8,317.4 276.8,314.7 274.0,312.1 271.6,309.4 269.3,306.7 267.2,304.1 265.3,301.5 263.5,298.9 261.8,296.3 260.2,293.6 258.8,290.9 257.4,288.2 256.1,285.3 254.9,282.3 253.9,279.2 253.3,276.0 253.9,272.8 254.9,269.7 256.1,266.7 257.4,263.8 258.8,261.1 260.2,258.4 261.8,255.7 263.5,253.1 265.3,250.5 267.2,247.9 269.3,245.2 271.6,242.6 274.0,239.9 276.8,237.3 279.8,234.6 283.1,232.0 286.9,229.7 290.9,228.2 295.0,229.7 298.7,232.0 302.1,234.6 305.1,237.3 307.8,239.9 310.3,242.6 312.6,245.2 314.6,247.9 316.6,250.5 318.4,253.1 320.0,255.7 321.6,258.4 323.1,261.1 324.5,263.8 325.8,266.7 326.9,269.7 327.9,272.8" fill="#61ff9e"/><polygon points="327.8,276.0 327.2,279.1 326.2,282.2 325.1,285.1 323.8,287.9 322.5,290.6 321.0,293.2 319.5,295.8 317.9,298.4 316.1,300.9 314.2,303.4 312.2,306.0 310.0,308.6 307.6,311.2 304.9,313.8 302.0,316.4 298.7,319.0 295.1,321.2 291.1,322.7 287.1,321.2 283.5,319.0 280.2,316.4 277.3,313.8 274.6,311.2 272.2,308.6 270.0,306.0 268.0,303.4 266.1,300.9 264.3,298.4 262.7,295.8 261.2,293.2 259.7,290.6 258.4,287.9 257.1,285.1 256.0,282.2 255.0,279.1 254.4,276.0 255.0,272.9 256.0,269.8 257.1,266.9 258.4,264.1 259.7,261.4 261.2,258.8 262.7,256.2 264.3,253.6 266.1,251.1 268.0,248.5 270.0,246.0 272.2,243.4 274.6,240.8 277.3,238.2 280.2,235.5 283.5,233.0 287.1,230.8 291.1,229.3 295.1,230.8 298.7,233.0 302.0,235.5 304.9,238.2 307.6,240.8 310.0,243.4 312.2,246.0 314.2,248.5 316.1,251.1 317.9,253.6 319.5,256.2 321.0,258.8 322.5,261.4 323.8,264.1 325.1,266.9 326.2,269.8 327.2,272.9" fill="#74ff8b"/><polygon points="327.0,276.0 326.4,279.1 325.5,282.0 324.4,284.8 323.2,287.6 321.9,290.2 320.5,292.8 319.0,295.3 317.4,297.8 315.7,300.3 313.9,302.8 311.9,305.3 309.7,307.8 307.4,310.4 304.8,312.9 301.9,315.5 298.7,318.0 295.2,320.2 291.3,321.6 287.4,320.2 283.8,318.0 280.7,315.5 277.8,312.9 275.2,310.4 272.8,307.8 270.7,305.3 268.7,302.8 266.9,300.3 265.2,297.8 263.6,295.3 262.1,292.8 260.7,290.2 259.4,287.6 258.2,284.8 257.1,282.0 256.1,279.1 255.6,276.0 256.1,272.9 257.1,270.0 258.2,267.2 259.4,264.4 260.7,261.8 262.1,259.2 263.6,256.7 265.2,254.2 266.9,251.7 268.7,249.2 270.7,246.7 272.8,244.2 275.2,241.6 277.8,239.0 280.7,236.5 283.8,234.0 287.4,231.8 291.3,230.4 295.2,231.8 298.7,234.0 301.9,236.5 304.8,239.0 307.4,241.6 309.7,244.2 311.9,246.7 313.9,249.2 315.7,251.7 317.4,254.2 319.0,256.7 320.5,259.2 321.9,261.8 323.2,264.4 324.4,267.2 325.5,270.0 326.4,272.9" fill="#86ff79"/><polygon points="326.3,276.0 325.7,279.0 324.8,281.8 323.8,284.6 322.6,287.3 321.3,289.8 320.0,292.3 318.5,294.8 317.0,297.2 315.3,299.7 313.5,302.1 311.6,304.6 309.5,307.0 307.2,309.5 304.7,312.0 301.9,314.5 298.8,317.0 295.3,319.1 291.5,320.6 287.7,319.1 284.3,317.0 281.1,314.5 278.3,312.0 275.8,309.5 273.5,307.0 271.4,304.6 269.5,302.1 267.7,299.7 266.1,297.2 264.5,294.8 263.1,292.3 261.7,289.8 260.4,287.3 259.3,284.6 258.2,281.8 257.3,279.0 256.7,276.0 257.3,273.0 258.2,270.1 259.3,267.4 260.4,264.7 261.7,262.2 263.1,259.6 264.5,257.2 266.1,254.7 267.7,252.3 269.5,249.9 271.4,247.4 273.5,245.0 275.8,242.5 278.3,239.9 281.1,237.4 284.3,235.0 287.7,232.9 291.5,231.4 295.3,232.9 298.8,235.0 301.9,237.4 304.7,239.9 307.2,242.5 309.5,245.0 311.6,247.4 313.5,249.9 315.3,252.3 317.0,254.7 318.5,257.2 320.0,259.6 321.3,262.2 322.6,264.7 323.8,267.4 324.8,270.1 325.7,273.0" fill="#99ff66"/><polygon points="325.6,276.0 325.1,278.9 324.2,281.7 323.2,284.4 322.0,287.0 320.8,289.5 319.5,291.9 318.0,294.3 316.5,296.7 314.9,299.1 313.2,301.4 311.3,303.8 309.3,306.2 307.1,308.7 304.6,311.1 301.9,313.6 298.8,316.0 295.5,318.1 291.8,319.5 288.1,318.1 284.7,316.0 281.6,313.6 278.9,311.1 276.5,308.7 274.2,306.2 272.2,303.8 270.3,301.4 268.6,299.1 267.0,296.7 265.5,294.3 264.1,291.9 262.8,289.5 261.5,287.0 260.4,284.4 259.3,281.7 258.5,278.9 257.9,276.0 258.5,273.1 259.3,270.3 260.4,267.6 261.5,265.0 262.8,262.5 264.1,260.1 265.5,257.7 267.0,255.3 268.6,252.9 270.3,250.6 272.2,248.2 274.2,245.7 276.5,243.3 278.9,240.8 281.6,238.4 284.7,236.0 288.1,233.9 291.8,232.5 295.5,233.9 298.8,236.0 301.9,238.4 304.6,240.8 307.1,243.3 309.3,245.7 311.3,248.2 313.2,250.6 314.9,252.9 316.5,255.3 318.0,257.7 319.5,260.1 320.8,262.5 322.0,265.0 323.2,267.6 324.2,270.3 325.1,273.1" fill="#abff54"/><polygon points="324.9,276.0 324.4,278.8 323.5,281.5 322.5,284.1 321.4,286.7 320.2,289.1 318.9,291.5 317.6,293.8 316.1,296.1 314.6,298.4 312.9,300.8 311.1,303.1 309.1,305.5 306.9,307.8 304.5,310.2 301.9,312.6 298.9,315.0 295.6,317.0 292.0,318.4 288.4,317.0 285.1,315.0 282.1,312.6 279.5,310.2 277.1,307.8 274.9,305.5 272.9,303.1 271.1,300.8 269.5,298.4 267.9,296.1 266.4,293.8 265.1,291.5 263.8,289.1 262.6,286.7 261.5,284.1 260.5,281.5 259.6,278.8 259.1,276.0 259.6,273.2 260.5,270.5 261.5,267.9 262.6,265.3 263.8,262.9 265.1,260.5 266.4,258.2 267.9,255.9 269.5,253.5 271.1,251.2 272.9,248.9 274.9,246.5 277.1,244.1 279.5,241.7 282.1,239.3 285.1,237.0 288.4,235.0 292.0,233.6 295.6,235.0 298.9,237.0 301.9,239.3 304.5,241.7 306.9,244.1 309.1,246.5 311.1,248.9 312.9,251.2 314.6,253.5 316.1,255.9 317.6,258.2 318.9,260.5 320.2,262.9 321.4,265.3 322.5,267.9 323.5,270.5 324.4,273.2" fill="#beff41"/><polygon points="324.2,276.0 323.7,278.7 322.9,281.4 321.9,283.9 320.8,286.4 319.7,288.7 318.4,291.0 317.1,293.3 315.7,295.6 314.2,297.8 312.6,300.1 310.8,302.4 308.9,304.7 306.8,307.0 304.4,309.3 301.9,311.7 299.0,314.0 295.8,316.0 292.3,317.3 288.7,316.0 285.5,314.0 282.6,311.7 280.1,309.3 277.7,307.0 275.6,304.7 273.7,302.4 271.9,300.1 270.3,297.8 268.8,295.6 267.4,293.3 266.1,291.0 264.8,288.7 263.7,286.4 262.6,283.9 261.6,281.4 260.8,278.7 260.3,276.0 260.8,273.3 261.6,270.6 262.6,268.1 263.7,265.6 264.8,263.3 266.1,260.9 267.4,258.7 268.8,256.4 270.3,254.2 271.9,251.9 273.7,249.6 275.6,247.3 277.7,245.0 280.1,242.6 282.6,240.3 285.5,238.0 288.7,236.0 292.3,234.6 295.8,236.0 299.0,238.0 301.9,240.3 304.4,242.6 306.8,245.0 308.9,247.3 310.8,249.6 312.6,251.9 314.2,254.2 315.7,256.4 317.1,258.7 318.4,260.9 319.7,263.3 320.8,265.6 321.9,268.1 322.9,270.6 323.7,273.3" fill="#d1ff2e"/><polygon points="323.5,276.0 323.0,278.7 322.2,281.2 321.3,283.7 320.2,286.1 319.1,288.4 317.9,290.6 316.6,292.8 315.3,295.0 313.8,297.2 312.2,299.4 310.5,301.6 308.7,303.9 306.6,306.2 304.4,308.5 301.8,310.7 299.0,313.0 295.9,314.9 292.5,316.3 289.1,314.9 285.9,313.0 283.1,310.7 280.6,308.5 278.4,306.2 276.3,303.9 274.5,301.6 272.8,299.4 271.2,297.2 269.7,295.0 268.3,292.8 267.1,290.6 265.9,288.4 264.7,286.1 263.7,283.7 262.8,281.2 262.0,278.7 261.5,276.0 262.0,273.3 262.8,270.8 263.7,268.3 264.7,265.9 265.9,263.6 267.1,261.4 268.3,259.2 269.7,257.0 271.2,254.8 272.8,252.6 274.5,250.3 276.3,248.1 278.4,245.8 280.6,243.5 283.1,241.2 285.9,239.0 289.1,237.0 292.5,235.7 295.9,237.0 299.0,239.0 301.8,241.2 304.4,243.5 306.6,245.8 308.7,248.1 310.5,250.3 312.2,252.6 313.8,254.8 315.3,257.0 316.6,259.2 317.9,261.4 319.1,263.6 320.2,265.9 321.3,268.3 322.2,270.8 323.0,273.3" fill="#e3ff1c"/><polygon points="322.8,276.0 322.3,278.6 321.6,281.1 320.7,283.4 319.7,285.8 318.6,288.0 317.4,290.2 316.2,292.3 314.9,294.5 313.4,296.6 311.9,298.7 310.3,300.9 308.5,303.1 306.5,305.3 304.3,307.6 301.8,309.8 299.1,311.9 296.1,313.9 292.7,315.2 289.4,313.9 286.4,311.9 283.6,309.8 281.2,307.6 279.0,305.3 277.0,303.1 275.2,300.9 273.6,298.7 272.0,296.6 270.6,294.5 269.3,292.3 268.1,290.2 266.9,288.0 265.8,285.8 264.8,283.4 263.9,281.1 263.2,278.6 262.7,276.0 263.2,273.4 263.9,270.9 264.8,268.5 265.8,266.2 266.9,264.0 268.1,261.8 269.3,259.7 270.6,257.5 272.0,255.4 273.6,253.2 275.2,251.1 277.0,248.9 279.0,246.7 281.2,244.4 283.6,242.2 286.4,240.0 289.4,238.1 292.7,236.8 296.1,238.1 299.1,240.0 301.8,242.2 304.3,244.4 306.5,246.7 308.5,248.9 310.3,251.1 311.9,253.2 313.4,255.4 314.9,257.5 316.2,259.7 317.4,261.8 318.6,264.0 319.7,266.2 320.7,268.5 321.6,270.9 322.3,273.4" fill="#f6ff09"/><polygon points="321.3,276.0 320.9,278.4 320.2,280.8 319.3,283.0 318.4,285.2 317.4,287.3 316.3,289.4 315.2,291.4 313.9,293.4 312.6,295.4 311.2,297.5 309.6,299.5 307.9,301.6 306.1,303.7 304.0,305.9 301.7,308.0 299.1,310.1 296.2,312.0 293.1,313.2 289.9,312.0 287.0,310.1 284.5,308.0 282.2,305.9 280.1,303.7 278.2,301.6 276.5,299.5 275.0,297.5 273.5,295.4 272.2,293.4 271.0,291.4 269.8,289.4 268.8,287.3 267.7,285.2 266.8,283.0 266.0,280.8 265.3,278.4 264.8,276.0 265.3,273.6 266.0,271.2 266.8,269.0 267.7,266.8 268.8,264.7 269.8,262.6 271.0,260.6 272.2,258.6 273.5,256.5 275.0,254.5 276.5,252.5 278.2,250.4 280.1,248.3 282.2,246.1 284.5,244.0 287.0,241.9 289.9,240.0 293.1,238.8 296.2,240.0 299.1,241.9 301.7,244.0 304.0,246.1 306.1,248.3 307.9,250.4 309.6,252.5 311.2,254.5 312.6,256.5 313.9,258.6 315.2,260.6 316.3,262.6 317.4,264.7 318.4,266.8 319.3,269.0 320.2,271.2 320.9,273.6" fill="#fff600"/><polygon points="319.0,276.0 318.7,278.2 318.0,280.3 317.3,282.3 316.5,284.3 315.6,286.2 314.6,288.1 313.6,290.0 312.5,291.9 311.3,293.7 310.0,295.6 308.6,297.5 307.1,299.4 305.4,301.4 303.5,303.4 301.4,305.4 299.1,307.3 296.4,309.1 293.5,310.3 290.6,309.1 288.0,307.3 285.6,305.4 283.5,303.4 281.6,301.4 279.9,299.4 278.4,297.5 277.0,295.6 275.7,293.7 274.5,291.9 273.4,290.0 272.4,288.1 271.4,286.2 270.5,284.3 269.7,282.3 269.0,280.3 268.4,278.2 268.0,276.0 268.4,273.8 269.0,271.7 269.7,269.6 270.5,267.7 271.4,265.7 272.4,263.9 273.4,262.0 274.5,260.1 275.7,258.3 277.0,256.4 278.4,254.5 279.9,252.6 281.6,250.6 283.5,248.6 285.6,246.6 288.0,244.6 290.6,242.9 293.5,241.7 296.4,242.9 299.1,244.6 301.4,246.6 303.5,248.6 305.4,250.6 307.1,252.6 308.6,254.5 310.0,256.4 311.3,258.3 312.5,260.1 313.6,262.0 314.6,263.9 315.6,265.7 316.5,267.7 317.3,269.6 318.0,271.7 318.7,273.8" fill="#ffe300"/><polygon points="316.8,276.0 316.4,278.0 315.9,279.9 315.3,281.7 314.5,283.5 313.8,285.2 312.9,286.9 312.0,288.6 311.0,290.3 310.0,292.0 308.9,293.7 307.6,295.5 306.3,297.2 304.7,299.1 303.0,300.9 301.1,302.8 299.0,304.6 296.6,306.3 293.9,307.4 291.3,306.3 288.9,304.6 286.7,302.8 284.8,300.9 283.1,299.1 281.6,297.2 280.3,295.5 279.0,293.7 277.9,292.0 276.8,290.3 275.9,288.6 274.9,286.9 274.1,285.2 273.3,283.5 272.6,281.7 272.0,279.9 271.4,278.0 271.1,276.0 271.4,274.0 272.0,272.1 272.6,270.3 273.3,268.5 274.1,266.8 274.9,265.1 275.9,263.4 276.8,261.7 277.9,260.0 279.0,258.3 280.3,256.5 281.6,254.8 283.1,252.9 284.8,251.1 286.7,249.2 288.9,247.4 291.3,245.7 293.9,244.6 296.6,245.7 299.0,247.4 301.1,249.2 303.0,251.1 304.7,252.9 306.3,254.8 307.6,256.5 308.9,258.3 310.0,260.0 311.0,261.7 312.0,263.4 312.9,265.1 313.8,266.8 314.5,268.5 315.3,270.3 315.9,272.1 316.4,274.0" fill="#ffd000"/><polygon points="314.5,276.0 314.2,277.7 313.8,279.4 313.2,281.0 312.6,282.6 311.9,284.2 311.2,285.7 310.4,287.2 309.6,288.7 308.7,290.3 307.7,291.8 306.6,293.4 305.4,295.0 304.1,296.7 302.6,298.4 300.9,300.2 299.0,301.9 296.8,303.4 294.4,304.5 292.0,303.4 289.8,301.9 287.9,300.2 286.2,298.4 284.7,296.7 283.3,295.0 282.1,293.4 281.0,291.8 280.0,290.3 279.1,288.7 278.3,287.2 277.5,285.7 276.8,284.2 276.1,282.6 275.5,281.0 275.0,279.4 274.5,277.7 274.2,276.0 274.5,274.3 275.0,272.6 275.5,271.0 276.1,269.4 276.8,267.8 277.5,266.3 278.3,264.8 279.1,263.3 280.0,261.7 281.0,260.2 282.1,258.6 283.3,257.0 284.7,255.3 286.2,253.6 287.9,251.8 289.8,250.1 292.0,248.6 294.4,247.5 296.8,248.6 299.0,250.1 300.9,251.8 302.6,253.6 304.1,255.3 305.4,257.0 306.6,258.6 307.7,260.2 308.7,261.7 309.6,263.3 310.4,264.8 311.2,266.3 311.9,267.8 312.6,269.4 313.2,271.0 313.8,272.6 314.2,274.3" fill="#ffbe00"/><polygon points="312.4,276.0 312.1,277.5 311.8,279.0 311.3,280.4 310.8,281.8 310.2,283.1 309.6,284.5 308.9,285.8 308.2,287.2 307.4,288.6 306.6,290.0 305.6,291.4 304.6,292.9 303.4,294.4 302.1,295.9 300.6,297.5 298.9,299.1 297.0,300.5 294.8,301.5 292.6,300.5 290.7,299.1 289.0,297.5 287.5,295.9 286.2,294.4 285.0,292.9 284.0,291.4 283.0,290.0 282.2,288.6 281.4,287.2 280.7,285.8 280.0,284.5 279.4,283.1 278.8,281.8 278.3,280.4 277.8,279.0 277.5,277.5 277.2,276.0 277.5,274.5 277.8,273.0 278.3,271.6 278.8,270.2 279.4,268.8 280.0,267.5 280.7,266.1 281.4,264.8 282.2,263.4 283.0,262.0 284.0,260.6 285.0,259.1 286.2,257.6 287.5,256.0 289.0,254.5 290.7,252.9 292.6,251.4 294.8,250.5 297.0,251.4 298.9,252.9 300.6,254.5 302.1,256.0 303.4,257.6 304.6,259.1 305.6,260.6 306.6,262.0 307.4,263.4 308.2,264.8 308.9,266.1 309.6,267.5 310.2,268.8 310.8,270.2 311.3,271.6 311.8,273.0 312.1,274.5" fill="#ffab00"/><polygon points="310.4,276.0 310.2,277.3 309.9,278.6 309.5,279.8 309.1,281.0 308.6,282.2 308.1,283.4 307.5,284.6 306.9,285.7 306.2,286.9 305.5,288.2 304.7,289.4 303.8,290.7 302.8,292.1 301.6,293.5 300.3,294.9 298.8,296.3 297.1,297.6 295.2,298.5 293.3,297.6 291.6,296.3 290.1,294.9 288.8,293.5 287.7,292.1 286.7,290.7 285.8,289.4 285.0,288.2 284.2,286.9 283.6,285.7 282.9,284.6 282.4,283.4 281.9,282.2 281.4,281.0 280.9,279.8 280.5,278.6 280.2,277.3 280.0,276.0 280.2,274.7 280.5,273.4 280.9,272.2 281.4,271.0 281.9,269.8 282.4,268.6 282.9,267.4 283.6,266.2 284.2,265.0 285.0,263.8 285.8,262.5 286.7,261.2 287.7,259.9 288.8,258.5 290.1,257.1 291.6,255.7 293.3,254.4 295.2,253.5 297.1,254.4 298.8,255.7 300.3,257.1 301.6,258.5 302.8,259.9 303.8,261.2 304.7,262.5 305.5,263.8 306.2,265.0 306.9,266.2 307.5,267.4 308.1,268.6 308.6,269.8 309.1,271.0 309.5,272.2 309.9,273.4 310.2,274.7" fill="#ff9900"/><polygon points="308.5,276.0 308.4,277.1 308.1,278.2 307.8,279.2 307.4,280.3 307.0,281.3 306.6,282.3 306.1,283.3 305.6,284.3 305.0,285.3 304.4,286.4 303.7,287.5 303.0,288.6 302.1,289.8 301.2,291.0 300.0,292.3 298.8,293.5 297.3,294.7 295.7,295.5 294.0,294.7 292.6,293.5 291.3,292.3 290.2,291.0 289.2,289.8 288.3,288.6 287.6,287.5 286.9,286.4 286.3,285.3 285.7,284.3 285.2,283.3 284.7,282.3 284.3,281.3 283.9,280.3 283.6,279.2 283.2,278.2 283.0,277.1 282.8,276.0 283.0,274.9 283.2,273.8 283.6,272.8 283.9,271.7 284.3,270.7 284.7,269.7 285.2,268.7 285.7,267.7 286.3,266.7 286.9,265.6 287.6,264.5 288.3,263.4 289.2,262.2 290.2,261.0 291.3,259.7 292.6,258.5 294.0,257.3 295.7,256.5 297.3,257.3 298.8,258.5 300.0,259.7 301.2,261.0 302.1,262.2 303.0,263.4 303.7,264.5 304.4,265.6 305.0,266.7 305.6,267.7 306.1,268.7 306.6,269.7 307.0,270.7 307.4,271.7 307.8,272.8 308.1,273.8 308.4,274.9" fill="#ff8600"/><polygon points="304.8,276.0 304.7,276.7 304.5,277.5 304.3,278.2 304.0,278.9 303.8,279.6 303.5,280.3 303.2,281.0 302.8,281.7 302.4,282.4 302.0,283.1 301.6,283.8 301.0,284.6 300.5,285.4 299.8,286.3 299.0,287.1 298.2,288.0 297.2,288.8 296.0,289.4 294.9,288.8 293.9,288.0 293.0,287.1 292.3,286.3 291.6,285.4 291.0,284.6 290.5,283.8 290.0,283.1 289.6,282.4 289.3,281.7 288.9,281.0 288.6,280.3 288.3,279.6 288.0,278.9 287.8,278.2 287.6,277.5 287.4,276.7 287.3,276.0 287.4,275.2 287.6,274.5 287.8,273.8 288.0,273.1 288.3,272.4 288.6,271.7 288.9,271.0 289.3,270.3 289.6,269.6 290.0,268.9 290.5,268.1 291.0,267.4 291.6,266.5 292.3,265.7 293.0,264.8 293.9,264.0 294.9,263.2 296.0,262.6 297.2,263.2 298.2,264.0 299.0,264.8 299.8,265.7 300.5,266.5 301.0,267.4 301.6,268.1 302.0,268.9 302.4,269.6 302.8,270.3 303.2,271.0 303.5,271.7 303.8,272.4 304.0,273.1 304.3,273.8 304.5,274.5 304.7,275.2" fill="#ff7300"/><polygon points="300.1,276.0 300.0,276.3 299.9,276.6 299.8,276.9 299.7,277.2 299.6,277.5 299.5,277.8 299.4,278.1 299.2,278.4 299.1,278.7 298.9,279.0 298.7,279.3 298.5,279.6 298.2,279.9 297.9,280.3 297.6,280.6 297.3,281.0 296.8,281.3 296.4,281.5 295.9,281.3 295.5,281.0 295.1,280.6 294.8,280.3 294.5,279.9 294.3,279.6 294.1,279.3 293.9,279.0 293.7,278.7 293.5,278.4 293.4,278.1 293.2,277.8 293.1,277.5 293.0,277.2 292.9,276.9 292.8,276.6 292.7,276.3 292.7,276.0 292.7,275.7 292.8,275.4 292.9,275.1 293.0,274.8 293.1,274.5 293.2,274.2 293.4,273.9 293.5,273.6 293.7,273.3 293.9,273.0 294.1,272.7 294.3,272.4 294.5,272.1 294.8,271.7 295.1,271.4 295.5,271.0 295.9,270.7 296.4,270.5 296.8,270.7 297.3,271.0 297.6,271.4 297.9,271.7 298.2,272.1 298.5,272.4 298.7,272.7 298.9,273.0 299.1,273.3 299.2,273.6 299.4,273.9 299.5,274.2 299.6,274.5 299.7,274.8 299.8,275.1 299.9,275.4 300.0,275.7" fill="#ff6100"/></g>
<circle cx="243.6" cy="231.8" r="15.7" fill="#fff"/>
<circle cx="243.6" cy="276.6" r="15.7" fill="#fff"/>
<circle cx="243.6" cy="321.6" r="15.7" fill="#fff"/>
<circle cx="288.4" cy="231.8" r="15.7" fill="#fff"/>
<circle cx="288.4" cy="321.6" r="15.7" fill="#fff"/>
<circle cx="333.6" cy="231.8" r="15.7" fill="#fff"/>
<circle cx="333.6" cy="276.6" r="15.7" fill="#fff"/>
<circle cx="333.6" cy="321.6" r="15.7" fill="#fff"/>
<line x1="225.0" y1="252.0" x2="238.2" y2="252.7" stroke="#fff" stroke-width="1.5"/><path d="M243.0,253.0 L236.1,254.9 L238.1,252.7 L236.3,250.4 z" fill="#fff"/>
<line x1="238.0" y1="251.0" x2="253.3" y2="253.3" stroke="#fff" stroke-width="1.5"/><path d="M258.0,254.0 L250.9,255.2 L253.2,253.3 L251.6,250.8 z" fill="#fff"/>
<line x1="252.0" y1="246.0" x2="267.4" y2="250.6" stroke="#fff" stroke-width="1.5"/><path d="M272.0,252.0 L264.8,252.2 L267.3,250.6 L266.1,247.9 z" fill="#fff"/>
<line x1="266.0" y1="253.0" x2="281.3" y2="254.5" stroke="#fff" stroke-width="1.5"/><path d="M286.0,255.0 L279.0,256.6 L281.1,254.5 L279.5,252.1 z" fill="#fff"/>
<line x1="282.0" y1="252.0" x2="297.3" y2="250.5" stroke="#fff" stroke-width="1.5"/><path d="M302.0,250.0 L295.5,252.9 L297.1,250.5 L295.0,248.4 z" fill="#fff"/>
<line x1="296.0" y1="249.0" x2="309.3" y2="247.5" stroke="#fff" stroke-width="1.5"/><path d="M314.0,247.0 L307.5,250.0 L309.1,247.5 L307.0,245.5 z" fill="#fff"/>
<line x1="225.0" y1="301.0" x2="238.2" y2="300.3" stroke="#fff" stroke-width="1.5"/><path d="M243.0,300.0 L236.3,302.6 L238.1,300.3 L236.1,298.1 z" fill="#fff"/>
<line x1="238.0" y1="302.0" x2="253.3" y2="299.7" stroke="#fff" stroke-width="1.5"/><path d="M258.0,299.0 L251.6,302.2 L253.2,299.7 L250.9,297.8 z" fill="#fff"/>
<line x1="252.0" y1="307.0" x2="267.4" y2="302.4" stroke="#fff" stroke-width="1.5"/><path d="M272.0,301.0 L266.1,305.1 L267.3,302.4 L264.8,300.8 z" fill="#fff"/>
<line x1="266.0" y1="300.0" x2="281.3" y2="298.5" stroke="#fff" stroke-width="1.5"/><path d="M286.0,298.0 L279.5,300.9 L281.1,298.5 L279.0,296.4 z" fill="#fff"/>
<line x1="282.0" y1="301.0" x2="297.3" y2="302.5" stroke="#fff" stroke-width="1.5"/><path d="M302.0,303.0 L295.0,304.6 L297.1,302.5 L295.5,300.1 z" fill="#fff"/>
<line x1="296.0" y1="304.0" x2="309.3" y2="305.5" stroke="#fff" stroke-width="1.5"/><path d="M314.0,306.0 L307.0,307.5 L309.1,305.5 L307.5,303.0 z" fill="#fff"/>
<line x1="262.0" y1="264.0" x2="277.2" y2="264.8" stroke="#fff" stroke-width="1.5"/><path d="M282.0,265.0 L275.1,266.9 L277.1,264.8 L275.3,262.4 z" fill="#fff"/>
<line x1="278.0" y1="264.0" x2="293.2" y2="264.0" stroke="#fff" stroke-width="1.5"/><path d="M298.0,264.0 L291.2,266.2 L293.1,264.0 L291.2,261.8 z" fill="#fff"/>
<line x1="294.0" y1="264.0" x2="309.2" y2="264.0" stroke="#fff" stroke-width="1.5"/><path d="M314.0,264.0 L307.2,266.2 L309.1,264.0 L307.2,261.8 z" fill="#fff"/>
<line x1="262.0" y1="276.6" x2="277.2" y2="276.6" stroke="#fff" stroke-width="1.5"/><path d="M282.0,276.6 L275.2,278.9 L277.1,276.6 L275.2,274.4 z" fill="#fff"/>
<line x1="278.0" y1="276.6" x2="293.2" y2="276.6" stroke="#fff" stroke-width="1.5"/><path d="M298.0,276.6 L291.2,278.9 L293.1,276.6 L291.2,274.4 z" fill="#fff"/>
<line x1="294.0" y1="276.6" x2="309.2" y2="276.6" stroke="#fff" stroke-width="1.5"/><path d="M314.0,276.6 L307.2,278.9 L309.1,276.6 L307.2,274.4 z" fill="#fff"/>
<line x1="262.0" y1="289.0" x2="277.2" y2="288.2" stroke="#fff" stroke-width="1.5"/><path d="M282.0,288.0 L275.3,290.6 L277.1,288.2 L275.1,286.1 z" fill="#fff"/>
<line x1="278.0" y1="289.0" x2="293.2" y2="289.0" stroke="#fff" stroke-width="1.5"/><path d="M298.0,289.0 L291.2,291.2 L293.1,289.0 L291.2,286.8 z" fill="#fff"/>
<line x1="294.0" y1="289.0" x2="309.2" y2="289.0" stroke="#fff" stroke-width="1.5"/><path d="M314.0,289.0 L307.2,291.2 L309.1,289.0 L307.2,286.8 z" fill="#fff"/>
<line x1="255.0" y1="214.0" x2="259.9" y2="223.7" stroke="#fff" stroke-width="1.5"/><path d="M262.0,228.0 L256.9,222.9 L259.8,223.6 L261.0,220.9 z" fill="#fff"/>
<line x1="303.0" y1="214.0" x2="309.2" y2="229.6" stroke="#fff" stroke-width="1.5"/><path d="M311.0,234.0 L306.4,228.5 L309.2,229.5 L310.6,226.9 z" fill="#fff"/>
<line x1="315.0" y1="214.0" x2="313.0" y2="223.3" stroke="#fff" stroke-width="1.5"/><path d="M312.0,228.0 L311.2,220.9 L313.0,223.2 L315.6,221.8 z" fill="#fff"/>
<line x1="316.0" y1="240.0" x2="321.6" y2="245.6" stroke="#fff" stroke-width="1.5"/><path d="M325.0,249.0 L318.6,245.8 L321.5,245.5 L321.8,242.6 z" fill="#fff"/>
<line x1="255.0" y1="340.0" x2="259.9" y2="330.3" stroke="#fff" stroke-width="1.5"/><path d="M262.0,326.0 L261.0,333.1 L259.8,330.4 L256.9,331.1 z" fill="#fff"/>
<line x1="303.0" y1="340.0" x2="309.2" y2="324.4" stroke="#fff" stroke-width="1.5"/><path d="M311.0,320.0 L310.6,327.1 L309.2,324.5 L306.4,325.5 z" fill="#fff"/>
<line x1="315.0" y1="340.0" x2="313.0" y2="330.7" stroke="#fff" stroke-width="1.5"/><path d="M312.0,326.0 L315.6,332.2 L313.0,330.8 L311.2,333.1 z" fill="#fff"/>
<line x1="316.0" y1="313.0" x2="321.6" y2="307.4" stroke="#fff" stroke-width="1.5"/><path d="M325.0,304.0 L321.8,310.4 L321.5,307.5 L318.6,307.2 z" fill="#fff"/>
<line x1="353.0" y1="251.0" x2="345.8" y2="251.0" stroke="#fff" stroke-width="1.5"/><path d="M341.0,251.0 L347.8,248.8 L345.9,251.0 L347.8,253.2 z" fill="#fff"/>
<line x1="353.0" y1="302.0" x2="345.8" y2="302.0" stroke="#fff" stroke-width="1.5"/><path d="M341.0,302.0 L347.8,299.8 L345.9,302.0 L347.8,304.2 z" fill="#fff"/>
</g>
<rect x="360.4" y="210.6" width="7.8" height="133" fill="url(#jet)" stroke="#222" stroke-width="0.6"/>
<text class="t" x="370.6" y="215.7">10</text>
<text class="t" x="370.8" y="347.8">0</text>
<text class="l" transform="translate(381.8,300.7) rotate(-90)">|<tspan font-style="italic">p</tspan>|<tspan font-size="8.5" dy="-4.5">2</tspan><tspan dy="4.5"> (Pa</tspan><tspan font-size="8.5" dy="-4.5">2</tspan><tspan dy="4.5">)</tspan></text>
<text class="sn" font-size="11.3" x="2.6" y="199.3">(b)</text>
<text class="t" x="18.9" y="198.9">50</text>
<text class="t" x="24.6" y="284.4">0</text>
<text class="t" x="15" y="368.7">-50</text>
<text class="l" transform="translate(17.4,298.6) rotate(-90)"><tspan font-style="italic">y</tspan> (cm)</text>
<text class="t" x="25.9" y="380.3">-50</text>
<text class="t" x="118.6" y="379.6">0</text>
<text class="t" x="208.8" y="380.5">50</text>
<text class="l" x="106.5" y="391"><tspan font-style="italic">x</tspan> (cm)</text>
<line x1="3.7" y1="404.5" x2="22.7" y2="404.5" stroke="#2a2aff" stroke-width="1.1"/>
<text class="g" x="27.4" y="407.2">with multiple-cavity units</text>
<line x1="170.5" y1="404.4" x2="186.4" y2="404.4" stroke="#ff2020" stroke-width="1" stroke-dasharray="3.6 2.4"/>
<text class="g" x="188" y="407.2">with solid cylinders</text>
<line x1="295.5" y1="405" x2="316.5" y2="405" stroke="#111" stroke-width="1" stroke-dasharray="3.6 1.5 1.2 1.5"/>
<text class="g" x="317.3" y="407.2">in free space</text>
<rect x="35" y="413.5" width="151.1" height="152.79999999999995" fill="#fff" stroke="#000" stroke-width="1.5"/>
<line x1="47.6" y1="566.3" x2="47.6" y2="563.3" stroke="#000" stroke-width="1.1"/>
<line x1="60.2" y1="566.3" x2="60.2" y2="561.3" stroke="#000" stroke-width="1.1"/>
<line x1="72.8" y1="566.3" x2="72.8" y2="563.3" stroke="#000" stroke-width="1.1"/>
<line x1="85.4" y1="566.3" x2="85.4" y2="561.3" stroke="#000" stroke-width="1.1"/>
<line x1="98.0" y1="566.3" x2="98.0" y2="563.3" stroke="#000" stroke-width="1.1"/>
<line x1="110.5" y1="566.3" x2="110.5" y2="561.3" stroke="#000" stroke-width="1.1"/>
<line x1="123.1" y1="566.3" x2="123.1" y2="563.3" stroke="#000" stroke-width="1.1"/>
<line x1="135.7" y1="566.3" x2="135.7" y2="561.3" stroke="#000" stroke-width="1.1"/>
<line x1="148.3" y1="566.3" x2="148.3" y2="563.3" stroke="#000" stroke-width="1.1"/>
<line x1="160.9" y1="566.3" x2="160.9" y2="561.3" stroke="#000" stroke-width="1.1"/>
<line x1="173.5" y1="566.3" x2="173.5" y2="563.3" stroke="#000" stroke-width="1.1"/>
<line x1="35" y1="556.3" x2="40" y2="556.3" stroke="#000" stroke-width="1.1"/>
<line x1="35" y1="535.8" x2="38" y2="535.8" stroke="#000" stroke-width="1.1"/>
<line x1="35" y1="515.2" x2="40" y2="515.2" stroke="#000" stroke-width="1.1"/>
<line x1="35" y1="494.7" x2="38" y2="494.7" stroke="#000" stroke-width="1.1"/>
<line x1="35" y1="474.2" x2="40" y2="474.2" stroke="#000" stroke-width="1.1"/>
<line x1="35" y1="453.7" x2="38" y2="453.7" stroke="#000" stroke-width="1.1"/>
<line x1="35" y1="433.1" x2="40" y2="433.1" stroke="#000" stroke-width="1.1"/>
<text class="t" text-anchor="middle" x="32.5" y="581.4">-30</text>
<text class="t" text-anchor="middle" x="57.7" y="581.4">-20</text>
<text class="t" text-anchor="middle" x="82.9" y="581.4">-10</text>
<text class="t" text-anchor="middle" x="109.8" y="581.4">0</text>
<text class="t" text-anchor="middle" x="135.0" y="581.4">10</text>
<text class="t" text-anchor="middle" x="160.2" y="581.4">20</text>
<text class="t" text-anchor="middle" x="185.4" y="581.4">30</text>
<text class="t" text-anchor="end" x="31.2" y="560.5">0</text>
<text class="t" text-anchor="end" x="31.2" y="519.4">40</text>
<text class="t" text-anchor="end" x="31.2" y="478.4">80</text>
<text class="t" text-anchor="end" x="31.2" y="437.3">120</text>
<text class="sn" font-size="11.3" x="3.3" y="421.6">(c)</text>
<text class="l" x="96.1" y="591.4"><tspan font-style="italic">x</tspan> (cm)</text>
<text class="l" transform="translate(12.7,514.4) rotate(-90)">|<tspan font-style="italic">p</tspan>|<tspan font-size="8.5" dy="-4.5">2</tspan><tspan dy="4.5"> (Pa</tspan><tspan font-size="8.5" dy="-4.5">2</tspan><tspan dy="4.5">)</tspan></text>
<path d="M35.0,553.8 C36.2,553.7 39.8,553.3 42.0,553.3 C44.2,553.3 45.8,553.8 48.0,553.9 C50.2,554.0 52.9,554.2 55.0,554.2 C57.1,554.2 59.3,554.8 60.5,553.7 C61.7,552.7 61.7,551.4 62.2,547.9 C62.8,544.4 63.4,538.3 63.8,532.6 C64.2,526.9 64.3,520.9 64.5,513.9 C64.7,506.9 64.9,498.2 65.2,490.4 C65.5,482.6 65.7,474.3 66.1,466.9 C66.5,459.5 67.0,451.3 67.5,445.8 C68.0,440.3 68.6,436.8 69.2,434.1 C69.8,431.5 70.5,430.8 71.1,429.9 C71.7,429.0 71.8,428.6 72.7,428.9 C73.6,429.2 75.2,430.0 76.2,431.7 C77.2,433.4 78.2,436.1 79.0,438.8 C79.8,441.6 80.4,444.3 80.9,448.2 C81.5,452.1 81.9,456.7 82.3,462.2 C82.7,467.7 83.0,473.9 83.3,481.0 C83.6,488.1 83.9,496.7 84.2,504.5 C84.5,512.3 84.8,520.2 85.1,528.0 C85.4,535.8 85.9,546.9 86.1,551.4 C86.3,555.9 86.4,554.4 86.5,555.0 " fill="none" stroke="#2a2aff" stroke-width="1.15" stroke-linejoin="round"/>
<path d="M86.5,555.0 C86.7,553.6 87.1,550.0 87.5,546.7 C87.9,543.4 88.4,538.5 89.1,535.0 C89.8,531.5 90.5,529.1 91.5,525.6 C92.5,522.1 93.6,517.6 95.0,513.9 C96.4,510.2 98.1,506.0 99.7,503.3 C101.3,500.6 103.1,498.9 104.4,497.6 C105.7,496.3 106.4,496.0 107.4,495.5 C108.4,495.0 109.4,494.7 110.4,494.7 C111.4,494.7 112.4,495.0 113.4,495.6 C114.4,496.2 115.0,496.1 116.4,498.2 C117.9,500.3 120.4,504.4 122.1,508.0 C123.8,511.6 125.4,515.6 126.8,519.7 C128.2,523.8 129.3,528.5 130.3,532.6 C131.3,536.7 131.9,540.6 132.6,544.3 C133.3,548.0 134.0,553.2 134.3,555.0" fill="none" stroke="#2a2aff" stroke-width="1.15" stroke-linejoin="round"/>
<path d="M134.3,555.0 C134.5,553.6 134.9,551.6 135.2,546.7 C135.5,541.8 135.8,533.0 136.2,525.6 C136.5,518.2 136.9,509.2 137.3,502.1 C137.7,495.1 138.0,489.2 138.5,483.3 C139.0,477.4 139.6,471.0 140.4,466.9 C141.2,462.8 142.1,460.7 143.2,458.7 C144.2,456.7 145.8,455.5 146.7,454.7 C147.6,453.9 147.8,453.7 148.6,454.0 C149.4,454.3 150.6,455.0 151.4,456.4 C152.2,457.8 152.8,459.3 153.3,462.2 C153.8,465.1 154.1,468.1 154.5,474.0 C154.9,479.9 155.2,488.8 155.6,497.4 C156.0,506.0 156.4,517.4 156.8,525.6 C157.2,533.8 157.5,542.1 158.0,546.7 C158.5,551.3 158.9,551.9 159.6,553.3 C160.3,554.7 159.8,554.6 162.4,554.9 C165.0,555.2 171.2,555.0 175.0,555.0 C178.8,555.0 183.7,554.9 185.4,554.9" fill="none" stroke="#2a2aff" stroke-width="1.15" stroke-linejoin="round"/>
<path d="M35.0,555.0 L60.0,556.0 L62.0,557.3 L86.0,557.3 L87.0,552.0 L92.0,550.0 L100.0,548.8 L110.0,548.5 L120.0,548.8 L128.0,550.0 L133.0,551.5 L134.0,557.0 L158.0,557.3 L162.0,556.0 L186.0,555.0" fill="none" stroke="#ff1818" stroke-width="1.2" stroke-dasharray="3.6 2.2"/>
<line x1="35" y1="555.6" x2="186" y2="555.6" stroke="#222" stroke-width="0.9" stroke-dasharray="7 1.5 1.2 1.5"/>
<line x1="91.3" y1="527.5" x2="130" y2="527.5" stroke="#000" stroke-width="1" marker-start="url(#mk)" marker-end="url(#mk)"/>
<text class="l" x="103.6" y="523.8"><tspan font-style="italic">λ</tspan>/3</text>
<rect x="221.5" y="413.5" width="154.5" height="152.5" fill="#fff" stroke="#000" stroke-width="1.5"/>
<line x1="234.4" y1="566" x2="234.4" y2="563" stroke="#000" stroke-width="1.1"/>
<line x1="247.2" y1="566" x2="247.2" y2="561" stroke="#000" stroke-width="1.1"/>
<line x1="260.1" y1="566" x2="260.1" y2="563" stroke="#000" stroke-width="1.1"/>
<line x1="273.0" y1="566" x2="273.0" y2="561" stroke="#000" stroke-width="1.1"/>
<line x1="285.9" y1="566" x2="285.9" y2="563" stroke="#000" stroke-width="1.1"/>
<line x1="298.8" y1="566" x2="298.8" y2="561" stroke="#000" stroke-width="1.1"/>
<line x1="311.6" y1="566" x2="311.6" y2="563" stroke="#000" stroke-width="1.1"/>
<line x1="324.5" y1="566" x2="324.5" y2="561" stroke="#000" stroke-width="1.1"/>
<line x1="337.4" y1="566" x2="337.4" y2="563" stroke="#000" stroke-width="1.1"/>
<line x1="350.2" y1="566" x2="350.2" y2="561" stroke="#000" stroke-width="1.1"/>
<line x1="363.1" y1="566" x2="363.1" y2="563" stroke="#000" stroke-width="1.1"/>
<line x1="221.5" y1="551.2" x2="226.5" y2="551.2" stroke="#000" stroke-width="1.1"/>
<line x1="221.5" y1="523.5" x2="224.5" y2="523.5" stroke="#000" stroke-width="1.1"/>
<line x1="221.5" y1="495.7" x2="226.5" y2="495.7" stroke="#000" stroke-width="1.1"/>
<line x1="221.5" y1="468.0" x2="224.5" y2="468.0" stroke="#000" stroke-width="1.1"/>
<line x1="221.5" y1="440.2" x2="226.5" y2="440.2" stroke="#000" stroke-width="1.1"/>
<text class="t" text-anchor="middle" x="219.9" y="581.4">-30</text>
<text class="t" text-anchor="middle" x="245.7" y="581.4">-20</text>
<text class="t" text-anchor="middle" x="271.4" y="581.4">-10</text>
<text class="t" text-anchor="middle" x="298.8" y="581.4">0</text>
<text class="t" text-anchor="middle" x="324.5" y="581.4">10</text>
<text class="t" text-anchor="middle" x="350.2" y="581.4">20</text>
<text class="t" text-anchor="middle" x="376.0" y="581.4">30</text>
<text class="t" text-anchor="end" x="219" y="555.4">0</text>
<text class="t" text-anchor="end" x="219" y="499.9">40</text>
<text class="t" text-anchor="end" x="219" y="444.4">80</text>
<text class="sn" font-size="11.3" x="193.5" y="421.6">(d)</text>
<text class="l" x="282.8" y="591.4"><tspan font-style="italic">y</tspan> (cm)</text>
<text class="l" transform="translate(202.4,514.6) rotate(-90)">|<tspan font-style="italic">p</tspan>|<tspan font-size="8.5" dy="-4.5">2</tspan><tspan dy="4.5"> (Pa</tspan><tspan font-size="8.5" dy="-4.5">2</tspan><tspan dy="4.5">)</tspan></text>
<path d="M222.3,549.7 C224.2,549.5 230.5,549.1 234.0,548.6 C237.5,548.1 241.1,547.6 243.5,546.7 C245.9,545.8 247.1,544.8 248.2,543.2 C249.3,541.6 249.5,540.2 250.0,537.3 C250.5,534.4 250.8,531.5 251.2,525.6 C251.5,519.7 251.8,510.7 252.1,502.1 C252.4,493.5 252.9,482.6 253.3,474.0 C253.7,465.4 254.1,456.8 254.5,450.5 C254.9,444.2 255.4,439.7 255.9,436.4 C256.4,433.1 256.8,431.9 257.5,430.6 C258.2,429.4 258.9,428.7 259.9,428.9 C260.9,429.1 262.3,430.0 263.4,431.7 C264.5,433.4 265.6,435.7 266.5,438.8 C267.4,441.9 268.0,445.8 268.6,450.5 C269.2,455.2 269.5,460.2 270.0,466.9 C270.5,473.5 270.9,481.8 271.4,490.4 C271.9,499.0 272.4,509.9 272.8,518.5 C273.2,527.1 273.7,536.8 274.0,542.0 C274.3,547.2 274.6,548.7 274.7,550.0" fill="none" stroke="#2a2aff" stroke-width="1.15" stroke-linejoin="round"/>
<path d="M274.7,550.0 C274.9,547.9 275.2,542.1 275.6,537.3 C276.0,532.4 276.3,526.4 277.0,520.9 C277.7,515.4 278.8,509.6 279.8,504.5 C280.9,499.4 281.9,494.7 283.3,490.4 C284.7,486.1 286.4,481.8 288.0,478.7 C289.6,475.6 291.4,473.4 292.7,471.8 C294.0,470.2 294.8,469.7 295.8,469.1 C296.8,468.5 297.9,468.1 298.9,468.1 C299.9,468.1 301.0,468.5 302.0,469.2 C303.0,469.9 303.5,469.8 305.0,472.2 C306.5,474.6 309.1,479.1 310.9,483.3 C312.7,487.5 314.2,492.3 315.6,497.4 C317.0,502.5 318.2,508.7 319.1,513.8 C320.0,518.9 320.5,523.2 321.0,527.9 C321.5,532.6 321.9,538.3 322.2,542.0 C322.5,545.7 322.8,548.7 322.9,550.0" fill="none" stroke="#2a2aff" stroke-width="1.15" stroke-linejoin="round"/>
<path d="M322.9,550.0 C323.0,547.9 323.5,543.3 323.8,537.3 C324.1,531.3 324.4,521.6 324.7,513.8 C325.0,506.0 325.3,498.2 325.7,490.4 C326.1,482.6 326.4,473.9 326.9,466.9 C327.4,459.9 327.9,453.3 328.5,448.2 C329.1,443.1 329.8,439.4 330.8,436.4 C331.8,433.3 333.3,431.1 334.4,429.9 C335.5,428.6 336.3,428.6 337.2,428.9 C338.1,429.2 339.1,429.7 339.8,431.7 C340.5,433.7 341.1,436.8 341.6,441.1 C342.1,445.4 342.4,450.9 342.8,457.5 C343.2,464.1 343.6,472.4 344.0,481.0 C344.4,489.6 344.8,500.6 345.2,509.2 C345.6,517.8 345.9,526.9 346.3,532.6 C346.7,538.3 347.1,540.9 347.7,543.2 C348.3,545.6 348.2,545.8 350.1,546.7 C352.0,547.6 354.8,548.1 359.0,548.6 C363.2,549.1 372.7,549.5 375.4,549.7" fill="none" stroke="#2a2aff" stroke-width="1.15" stroke-linejoin="round"/>
<path d="M222.0,550.0 L247.0,550.5 L249.0,551.6 L275.0,551.6 L276.0,543.0 L282.0,541.8 L299.0,541.5 L315.0,542.2 L321.5,543.5 L322.5,551.6 L348.0,551.6 L351.0,550.5 L376.0,550.0" fill="none" stroke="#ff1818" stroke-width="1.2" stroke-dasharray="3.6 2.2"/>
<line x1="221.5" y1="550.2" x2="376" y2="550.2" stroke="#222" stroke-width="0.9" stroke-dasharray="7 1.5 1.2 1.5"/>
<line x1="279.7" y1="510.2" x2="317.5" y2="510.2" stroke="#000" stroke-width="1" marker-start="url(#mk)" marker-end="url(#mk)"/>
<text class="l" x="292.3" y="506.4"><tspan font-style="italic">λ</tspan>/3</text>
</svg></body></html>
